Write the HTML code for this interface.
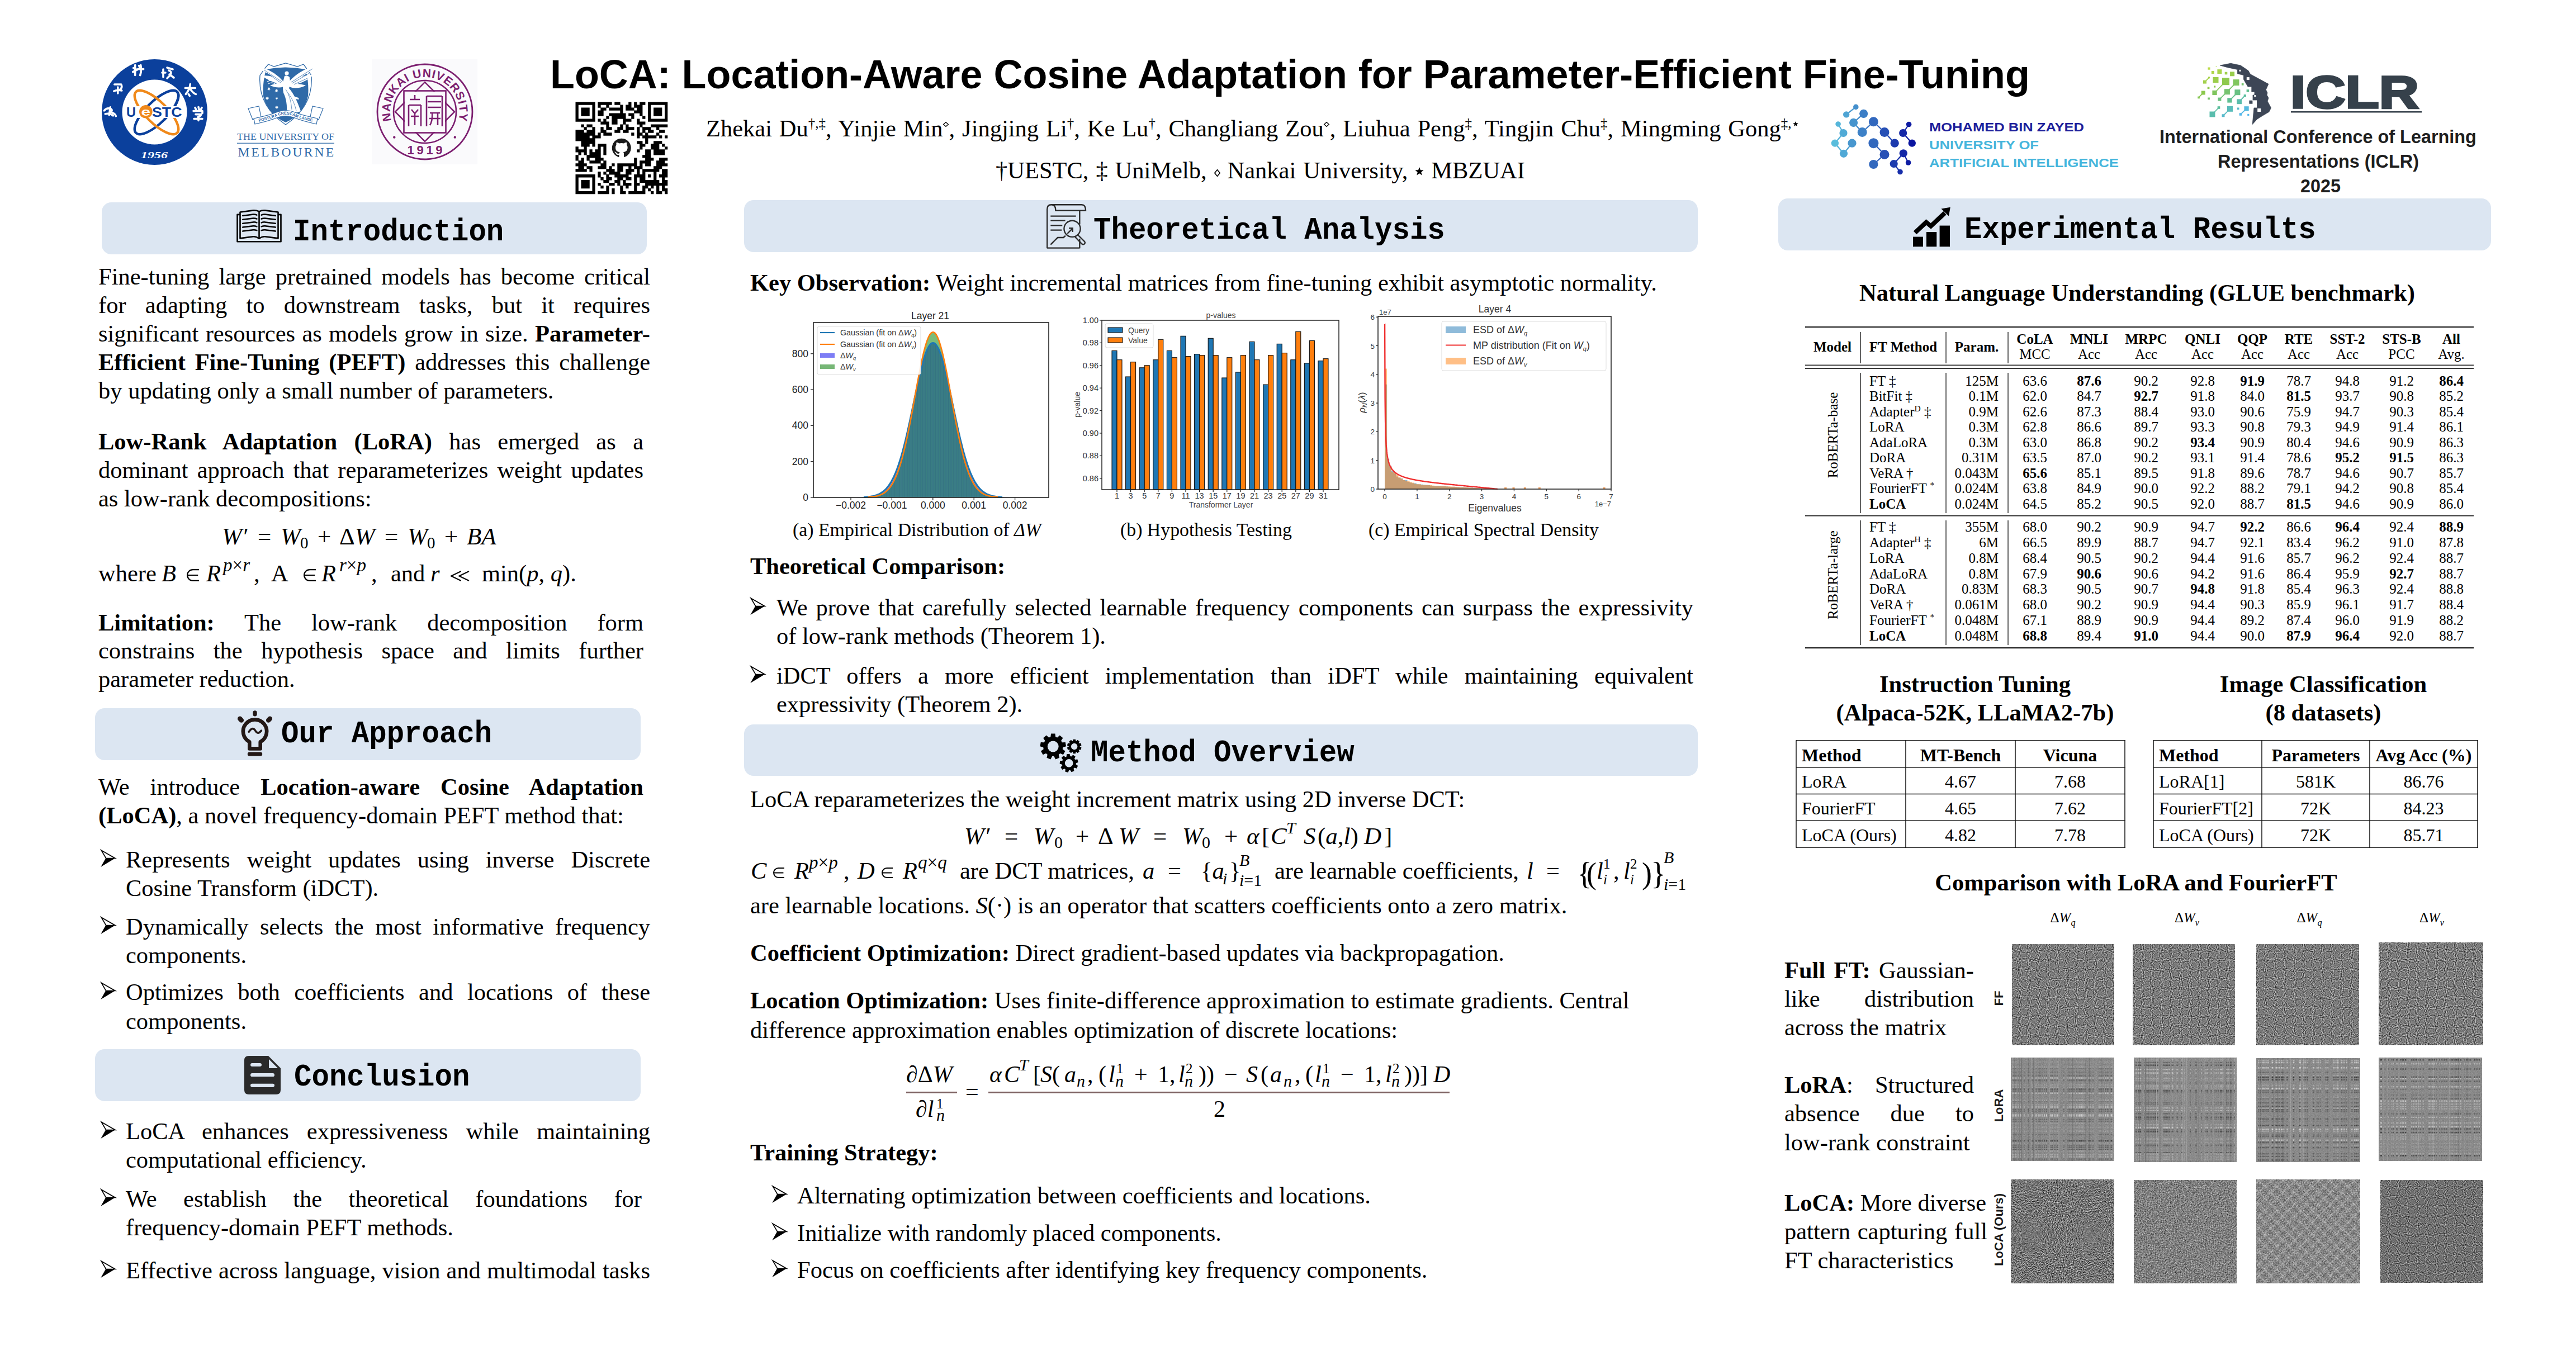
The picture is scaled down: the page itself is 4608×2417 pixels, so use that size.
<!DOCTYPE html><html><head><meta charset="utf-8"><title>LoCA poster</title><style>
*{box-sizing:border-box}
html,body{margin:0;padding:0}
body{width:4608px;height:2417px;background:#fff;position:relative;overflow:hidden;font-family:"Liberation Serif",serif;color:#000}
.a{position:absolute;white-space:nowrap;line-height:1}
.j{white-space:normal;text-align:justify;text-align-last:justify}
.hb{position:absolute;background:#dce6f2;border-radius:17px}
.m{font-style:italic}
sub,sup{font-size:70%;line-height:0}
svg{position:absolute;overflow:visible}
svg.is{position:static;display:inline-block}
b{font-weight:bold}
</style></head><body><svg style="left:0;top:0" width="700" height="400"><circle cx="276.5" cy="200.5" r="94.5" fill="#0b409c"/><circle cx="276.5" cy="200.5" r="58" fill="#fff"/><ellipse cx="280" cy="201" rx="52" ry="19" fill="none" stroke="#0b409c" stroke-width="4.4" transform="rotate(-45 280 201)"/><ellipse cx="280" cy="201" rx="52" ry="19" fill="none" stroke="#f0891a" stroke-width="4.4" transform="rotate(45 280 201)"/><g transform="rotate(-45 280 201)"><path d="M332 201 A52 19 0 0 1 280 220" fill="none" stroke="#0b409c" stroke-width="4.4"/></g><rect x="224" y="190" width="104" height="21" fill="#fff"/><circle cx="260.8" cy="199.8" r="11.8" fill="#f0891a"/><text x="226" y="208.5" font-family="Liberation Sans" font-weight="bold" font-size="23" fill="#0b409c" textLength="17" lengthAdjust="spacingAndGlyphs">U</text><text x="252.5" y="207" font-family="Liberation Sans" font-weight="bold" font-size="21" fill="#fff" textLength="16.5" lengthAdjust="spacingAndGlyphs">e</text><text x="272" y="208.5" font-family="Liberation Sans" font-weight="bold" font-size="23" fill="#0b409c" textLength="53.5" lengthAdjust="spacingAndGlyphs">STC</text><text x="252" y="283" font-family="Liberation Serif" font-style="italic" font-weight="bold" font-size="17" fill="#fff" textLength="48" lengthAdjust="spacingAndGlyphs">1956</text><g transform="translate(195.3 199.8)"><path d="M-9 -2 q5 -6 12 -3 q4 3 -1 7 M-7 4 q8 -2 14 3 M2 -8 l-2 14 M6 2 q5 2 6 6" stroke="#fff" fill="none" stroke-linecap="round" stroke-linejoin="round" stroke-width="3.6"/></g><g transform="translate(212.8 157)"><path d="M-8 -6 h12 q3 6 -3 10 M-2 -1 v11 M-9 6 q6 -3 14 -1" stroke="#fff" fill="none" stroke-linecap="round" stroke-linejoin="round" stroke-width="3.6"/></g><g transform="translate(247.7 125.6)"><path d="M-9 -4 l6 3 M-6 -9 v18 M-10 3 l8 -4 M1 -8 l3 6 M4 -9 q2 10 -1 18 M-1 -2 h10" stroke="#fff" fill="none" stroke-linecap="round" stroke-linejoin="round" stroke-width="3.6"/></g><g transform="translate(301 130)"><path d="M-9 -6 v14 M-11 0 h6 M-2 -9 l10 3 M1 -4 q6 2 3 8 l-6 6 M2 3 l8 6" stroke="#fff" fill="none" stroke-linecap="round" stroke-linejoin="round" stroke-width="3.6"/></g><g transform="translate(340.3 160.5)"><path d="M-9 -3 h18 M0 -10 q-1 10 -8 18 M1 0 q4 6 9 8 M-3 8 l2 3" stroke="#fff" fill="none" stroke-linecap="round" stroke-linejoin="round" stroke-width="3.6"/></g><g transform="translate(355 201.6)"><path d="M-6 -9 l2 4 M0 -10 l1 4 M6 -9 l-2 4 M-9 -3 h16 v4 M-5 3 h10 q-2 4 -6 5 M0 8 v6 M-8 11 h15" stroke="#fff" fill="none" stroke-linecap="round" stroke-linejoin="round" stroke-width="3.6"/></g></svg>
<svg style="left:0;top:0" width="700" height="400"><path d="M444 194 L463 190 L467 209 L452 214 Z M578 194 L559 190 L555 209 L570 214 Z" fill="#fff" stroke="#2f6aa8" stroke-width="1.2"/><path d="M480 115 L490 119 L511 113 L532 119 L543 115 L548 122 L557 135 Q561 190 511 223 Q461 190 465 135 L474 122 Z" fill="#fff" stroke="#2f6aa8" stroke-width="1.3"/><path d="M476 124 Q511 117 547 124 Q553 150 551 172 Q543 205 511 219 Q479 205 471 172 Q469 150 476 124 Z" fill="#2f6aa8"/><path d="M507 146 Q492 128 467 120 L469 126 Q480 132 488 137 Q475 134 469 136 Q481 145 496 149 Q487 151 483 153 Q498 159 507 155 Z" fill="#fff"/><path d="M517 146 Q535 126 564 117 L561 125 Q548 132 540 137 Q554 133 561 134 Q548 146 532 150 Q542 151 547 153 Q530 161 517 155 Z" fill="#fff"/><path d="M472 125 L504 146 M478 131 L502 148 M559 123 L521 147 M553 131 L523 149 M550 140 L526 151" stroke="#2f6aa8" stroke-width="0.8"/><circle cx="513" cy="131" r="3.6" fill="#fff"/><path d="M509 136 Q514 134 518 138 Q520 150 517 158 Q528 170 538 199 Q528 204 513 200 Q514 180 507 166 Q504 150 509 136 Z" fill="#fff"/><path d="M518 170 L534 175 L535 178 L520 176 Z" fill="#fff"/><path d="M511 160 Q520 172 522 196 M515 166 Q526 180 530 198" stroke="#2f6aa8" stroke-width="0.7" fill="none"/><path d="M478 146 Q486 142 494 146 M480 150 Q486 146 492 150" stroke="#fff" stroke-width="1.2" fill="none"/><path d="M481.00 155.60 L481.66 157.62 L483.66 156.88 L482.49 158.66 L484.31 159.76 L482.20 159.95 L482.48 162.06 L481.00 160.53 L479.52 162.06 L479.80 159.95 L477.69 159.76 L479.51 158.66 L478.34 156.88 L480.34 157.62 Z" fill="#fff"/><path d="M494.60 159.10 L495.26 161.12 L497.26 160.38 L496.09 162.16 L497.91 163.26 L495.80 163.45 L496.08 165.56 L494.60 164.03 L493.12 165.56 L493.40 163.45 L491.29 163.26 L493.11 162.16 L491.94 160.38 L493.94 161.12 Z" fill="#fff"/><path d="M478.00 172.60 L478.66 174.62 L480.66 173.88 L479.49 175.66 L481.31 176.76 L479.20 176.95 L479.48 179.06 L478.00 177.53 L476.52 179.06 L476.80 176.95 L474.69 176.76 L476.51 175.66 L475.34 173.88 L477.34 174.62 Z" fill="#fff"/><path d="M495.00 173.40 L495.51 174.95 L497.03 174.38 L496.14 175.74 L497.53 176.58 L495.91 176.73 L496.13 178.34 L495.00 177.17 L493.87 178.34 L494.09 176.73 L492.47 176.58 L493.86 175.74 L492.97 174.38 L494.49 174.95 Z" fill="#fff"/><path d="M495.00 188.80 L495.62 190.70 L497.50 190.00 L496.40 191.68 L498.12 192.71 L496.13 192.90 L496.39 194.88 L495.00 193.44 L493.61 194.88 L493.87 192.90 L491.88 192.71 L493.60 191.68 L492.50 190.00 L494.38 190.70 Z" fill="#fff"/><path d="M454 212 Q483 206 497 200 Q511 195 525 200 Q539 206 568 212 L566 222 Q539 216 525 210 Q511 205 497 210 Q483 216 456 222 Z" fill="#fff" stroke="#2f6aa8" stroke-width="1.2"/><defs><path id="mbarc" d="M458 219 Q484 213 497 207.5 Q511 202 525 207.5 Q538 213 564 219"/></defs><text font-family="Liberation Sans" font-weight="bold" font-size="7.2" fill="#2f6aa8"><textPath href="#mbarc" startOffset="50%" text-anchor="middle">POSTERA CRESCAM LAUDE</textPath></text><text x="424" y="250" font-family="Liberation Serif" font-size="16" fill="#2f6aa8" textLength="174" lengthAdjust="spacingAndGlyphs">THE UNIVERSITY OF</text><rect x="424" y="255.6" width="174" height="1.2" fill="#2f6aa8"/><text x="425.5" y="280.2" font-family="Liberation Serif" font-size="23.5" fill="#2f6aa8" textLength="171.5" lengthAdjust="spacing">MELBOURNE</text></svg>
<svg style="left:0;top:0" width="1000" height="400"><rect x="665" y="106" width="189" height="188" fill="#fafafc"/><circle cx="760" cy="200" r="85" fill="none" stroke="#7c1f70" stroke-width="2.8"/><circle cx="760" cy="200" r="56" fill="none" stroke="#7c1f70" stroke-width="2.6"/><defs><path id="nkarc" d="M 700.11 216.05 A 62 62 0 1 1 819.89 216.05"/></defs><text font-family="Liberation Sans" font-weight="bold" font-size="21" fill="#7c1f70"><textPath href="#nkarc" textLength="226" lengthAdjust="spacing">NANKAI UNIVERSITY</textPath></text><text x="728.6" y="276" font-family="Liberation Sans" font-weight="bold" font-size="22" fill="#7c1f70" textLength="63" lengthAdjust="spacing">1919</text><circle cx="705.3" cy="245.5" r="2.2" fill="#7c1f70"/><circle cx="813.8" cy="245.5" r="2.2" fill="#7c1f70"/><rect x="722.5" y="162.5" width="75" height="75" fill="none" stroke="#7c1f70" stroke-width="2.6" transform="rotate(45 760 200)"/><rect x="724" y="164" width="72" height="72" fill="#fafafc"/><rect x="722.5" y="162.5" width="75" height="75" fill="none" stroke="#7c1f70" stroke-width="2.6"/><path d="M733 178 h18 M742 170 v8 M731 188 h22 M731 188 v38 M753 188 v38 M736 196 l6 7 l6 -7 M735 208 h14 M742 203 v21 M763 172 v54 M791 172 v54 M763 172 h28 M765 182 h24 M765 192 h24 M769 202 h18 M768 212 h20 M773 202 q1 14 -4 22 M783 202 v22" stroke="#7c1f70" stroke-width="2.6" fill="none"/></svg>
<svg style="left:0;top:0" width="1300" height="400"><path fill="#000" d="M1029.50 182.50h5.29v5.29h-5.29zM1034.48 182.50h5.29v5.29h-5.29zM1039.47 182.50h5.29v5.29h-5.29zM1044.45 182.50h5.29v5.29h-5.29zM1049.44 182.50h5.29v5.29h-5.29zM1054.42 182.50h5.29v5.29h-5.29zM1059.41 182.50h5.29v5.29h-5.29zM1069.38 182.50h5.29v5.29h-5.29zM1074.37 182.50h5.29v5.29h-5.29zM1079.35 182.50h5.29v5.29h-5.29zM1084.34 182.50h5.29v5.29h-5.29zM1089.32 182.50h5.29v5.29h-5.29zM1099.29 182.50h5.29v5.29h-5.29zM1104.28 182.50h5.29v5.29h-5.29zM1124.21 182.50h5.29v5.29h-5.29zM1134.18 182.50h5.29v5.29h-5.29zM1144.15 182.50h5.29v5.29h-5.29zM1149.14 182.50h5.29v5.29h-5.29zM1159.11 182.50h5.29v5.29h-5.29zM1164.10 182.50h5.29v5.29h-5.29zM1169.08 182.50h5.29v5.29h-5.29zM1174.07 182.50h5.29v5.29h-5.29zM1179.05 182.50h5.29v5.29h-5.29zM1184.04 182.50h5.29v5.29h-5.29zM1189.02 182.50h5.29v5.29h-5.29zM1029.50 187.49h5.29v5.29h-5.29zM1059.41 187.49h5.29v5.29h-5.29zM1069.38 187.49h5.29v5.29h-5.29zM1084.34 187.49h5.29v5.29h-5.29zM1109.26 187.49h5.29v5.29h-5.29zM1119.23 187.49h5.29v5.29h-5.29zM1124.21 187.49h5.29v5.29h-5.29zM1134.18 187.49h5.29v5.29h-5.29zM1139.17 187.49h5.29v5.29h-5.29zM1144.15 187.49h5.29v5.29h-5.29zM1159.11 187.49h5.29v5.29h-5.29zM1189.02 187.49h5.29v5.29h-5.29zM1029.50 192.47h5.29v5.29h-5.29zM1039.47 192.47h5.29v5.29h-5.29zM1044.45 192.47h5.29v5.29h-5.29zM1049.44 192.47h5.29v5.29h-5.29zM1059.41 192.47h5.29v5.29h-5.29zM1074.37 192.47h5.29v5.29h-5.29zM1079.35 192.47h5.29v5.29h-5.29zM1089.32 192.47h5.29v5.29h-5.29zM1094.31 192.47h5.29v5.29h-5.29zM1099.29 192.47h5.29v5.29h-5.29zM1104.28 192.47h5.29v5.29h-5.29zM1109.26 192.47h5.29v5.29h-5.29zM1119.23 192.47h5.29v5.29h-5.29zM1124.21 192.47h5.29v5.29h-5.29zM1129.20 192.47h5.29v5.29h-5.29zM1139.17 192.47h5.29v5.29h-5.29zM1144.15 192.47h5.29v5.29h-5.29zM1159.11 192.47h5.29v5.29h-5.29zM1169.08 192.47h5.29v5.29h-5.29zM1174.07 192.47h5.29v5.29h-5.29zM1179.05 192.47h5.29v5.29h-5.29zM1189.02 192.47h5.29v5.29h-5.29zM1029.50 197.46h5.29v5.29h-5.29zM1039.47 197.46h5.29v5.29h-5.29zM1044.45 197.46h5.29v5.29h-5.29zM1049.44 197.46h5.29v5.29h-5.29zM1059.41 197.46h5.29v5.29h-5.29zM1069.38 197.46h5.29v5.29h-5.29zM1074.37 197.46h5.29v5.29h-5.29zM1109.26 197.46h5.29v5.29h-5.29zM1134.18 197.46h5.29v5.29h-5.29zM1139.17 197.46h5.29v5.29h-5.29zM1144.15 197.46h5.29v5.29h-5.29zM1159.11 197.46h5.29v5.29h-5.29zM1169.08 197.46h5.29v5.29h-5.29zM1174.07 197.46h5.29v5.29h-5.29zM1179.05 197.46h5.29v5.29h-5.29zM1189.02 197.46h5.29v5.29h-5.29zM1029.50 202.44h5.29v5.29h-5.29zM1039.47 202.44h5.29v5.29h-5.29zM1044.45 202.44h5.29v5.29h-5.29zM1049.44 202.44h5.29v5.29h-5.29zM1059.41 202.44h5.29v5.29h-5.29zM1069.38 202.44h5.29v5.29h-5.29zM1074.37 202.44h5.29v5.29h-5.29zM1089.32 202.44h5.29v5.29h-5.29zM1094.31 202.44h5.29v5.29h-5.29zM1099.29 202.44h5.29v5.29h-5.29zM1104.28 202.44h5.29v5.29h-5.29zM1109.26 202.44h5.29v5.29h-5.29zM1114.24 202.44h5.29v5.29h-5.29zM1124.21 202.44h5.29v5.29h-5.29zM1129.20 202.44h5.29v5.29h-5.29zM1144.15 202.44h5.29v5.29h-5.29zM1159.11 202.44h5.29v5.29h-5.29zM1169.08 202.44h5.29v5.29h-5.29zM1174.07 202.44h5.29v5.29h-5.29zM1179.05 202.44h5.29v5.29h-5.29zM1189.02 202.44h5.29v5.29h-5.29zM1029.50 207.43h5.29v5.29h-5.29zM1059.41 207.43h5.29v5.29h-5.29zM1084.34 207.43h5.29v5.29h-5.29zM1094.31 207.43h5.29v5.29h-5.29zM1099.29 207.43h5.29v5.29h-5.29zM1104.28 207.43h5.29v5.29h-5.29zM1109.26 207.43h5.29v5.29h-5.29zM1114.24 207.43h5.29v5.29h-5.29zM1129.20 207.43h5.29v5.29h-5.29zM1149.14 207.43h5.29v5.29h-5.29zM1159.11 207.43h5.29v5.29h-5.29zM1189.02 207.43h5.29v5.29h-5.29zM1029.50 212.41h5.29v5.29h-5.29zM1034.48 212.41h5.29v5.29h-5.29zM1039.47 212.41h5.29v5.29h-5.29zM1044.45 212.41h5.29v5.29h-5.29zM1049.44 212.41h5.29v5.29h-5.29zM1054.42 212.41h5.29v5.29h-5.29zM1059.41 212.41h5.29v5.29h-5.29zM1069.38 212.41h5.29v5.29h-5.29zM1079.35 212.41h5.29v5.29h-5.29zM1094.31 212.41h5.29v5.29h-5.29zM1099.29 212.41h5.29v5.29h-5.29zM1114.24 212.41h5.29v5.29h-5.29zM1119.23 212.41h5.29v5.29h-5.29zM1124.21 212.41h5.29v5.29h-5.29zM1139.17 212.41h5.29v5.29h-5.29zM1159.11 212.41h5.29v5.29h-5.29zM1164.10 212.41h5.29v5.29h-5.29zM1169.08 212.41h5.29v5.29h-5.29zM1174.07 212.41h5.29v5.29h-5.29zM1179.05 212.41h5.29v5.29h-5.29zM1184.04 212.41h5.29v5.29h-5.29zM1189.02 212.41h5.29v5.29h-5.29zM1074.37 217.40h5.29v5.29h-5.29zM1079.35 217.40h5.29v5.29h-5.29zM1084.34 217.40h5.29v5.29h-5.29zM1094.31 217.40h5.29v5.29h-5.29zM1099.29 217.40h5.29v5.29h-5.29zM1114.24 217.40h5.29v5.29h-5.29zM1139.17 217.40h5.29v5.29h-5.29zM1144.15 217.40h5.29v5.29h-5.29zM1149.14 217.40h5.29v5.29h-5.29zM1039.47 222.38h5.29v5.29h-5.29zM1049.44 222.38h5.29v5.29h-5.29zM1054.42 222.38h5.29v5.29h-5.29zM1084.34 222.38h5.29v5.29h-5.29zM1109.26 222.38h5.29v5.29h-5.29zM1119.23 222.38h5.29v5.29h-5.29zM1144.15 222.38h5.29v5.29h-5.29zM1164.10 222.38h5.29v5.29h-5.29zM1169.08 222.38h5.29v5.29h-5.29zM1174.07 222.38h5.29v5.29h-5.29zM1179.05 222.38h5.29v5.29h-5.29zM1184.04 222.38h5.29v5.29h-5.29zM1189.02 222.38h5.29v5.29h-5.29zM1044.45 227.37h5.29v5.29h-5.29zM1059.41 227.37h5.29v5.29h-5.29zM1074.37 227.37h5.29v5.29h-5.29zM1084.34 227.37h5.29v5.29h-5.29zM1089.32 227.37h5.29v5.29h-5.29zM1104.28 227.37h5.29v5.29h-5.29zM1109.26 227.37h5.29v5.29h-5.29zM1119.23 227.37h5.29v5.29h-5.29zM1124.21 227.37h5.29v5.29h-5.29zM1129.20 227.37h5.29v5.29h-5.29zM1139.17 227.37h5.29v5.29h-5.29zM1149.14 227.37h5.29v5.29h-5.29zM1154.12 227.37h5.29v5.29h-5.29zM1159.11 227.37h5.29v5.29h-5.29zM1174.07 227.37h5.29v5.29h-5.29zM1029.50 232.35h5.29v5.29h-5.29zM1034.48 232.35h5.29v5.29h-5.29zM1039.47 232.35h5.29v5.29h-5.29zM1049.44 232.35h5.29v5.29h-5.29zM1054.42 232.35h5.29v5.29h-5.29zM1059.41 232.35h5.29v5.29h-5.29zM1074.37 232.35h5.29v5.29h-5.29zM1079.35 232.35h5.29v5.29h-5.29zM1099.29 232.35h5.29v5.29h-5.29zM1104.28 232.35h5.29v5.29h-5.29zM1114.24 232.35h5.29v5.29h-5.29zM1119.23 232.35h5.29v5.29h-5.29zM1139.17 232.35h5.29v5.29h-5.29zM1149.14 232.35h5.29v5.29h-5.29zM1159.11 232.35h5.29v5.29h-5.29zM1164.10 232.35h5.29v5.29h-5.29zM1179.05 232.35h5.29v5.29h-5.29zM1184.04 232.35h5.29v5.29h-5.29zM1029.50 237.34h5.29v5.29h-5.29zM1034.48 237.34h5.29v5.29h-5.29zM1039.47 237.34h5.29v5.29h-5.29zM1044.45 237.34h5.29v5.29h-5.29zM1049.44 237.34h5.29v5.29h-5.29zM1054.42 237.34h5.29v5.29h-5.29zM1059.41 237.34h5.29v5.29h-5.29zM1069.38 237.34h5.29v5.29h-5.29zM1079.35 237.34h5.29v5.29h-5.29zM1084.34 237.34h5.29v5.29h-5.29zM1089.32 237.34h5.29v5.29h-5.29zM1129.20 237.34h5.29v5.29h-5.29zM1139.17 237.34h5.29v5.29h-5.29zM1144.15 237.34h5.29v5.29h-5.29zM1154.12 237.34h5.29v5.29h-5.29zM1174.07 237.34h5.29v5.29h-5.29zM1029.50 242.32h5.29v5.29h-5.29zM1034.48 242.32h5.29v5.29h-5.29zM1039.47 242.32h5.29v5.29h-5.29zM1044.45 242.32h5.29v5.29h-5.29zM1049.44 242.32h5.29v5.29h-5.29zM1059.41 242.32h5.29v5.29h-5.29zM1064.39 242.32h5.29v5.29h-5.29zM1069.38 242.32h5.29v5.29h-5.29zM1139.17 242.32h5.29v5.29h-5.29zM1149.14 242.32h5.29v5.29h-5.29zM1154.12 242.32h5.29v5.29h-5.29zM1159.11 242.32h5.29v5.29h-5.29zM1164.10 242.32h5.29v5.29h-5.29zM1169.08 242.32h5.29v5.29h-5.29zM1179.05 242.32h5.29v5.29h-5.29zM1189.02 242.32h5.29v5.29h-5.29zM1029.50 247.31h5.29v5.29h-5.29zM1034.48 247.31h5.29v5.29h-5.29zM1039.47 247.31h5.29v5.29h-5.29zM1044.45 247.31h5.29v5.29h-5.29zM1049.44 247.31h5.29v5.29h-5.29zM1054.42 247.31h5.29v5.29h-5.29zM1059.41 247.31h5.29v5.29h-5.29zM1154.12 247.31h5.29v5.29h-5.29zM1039.47 252.29h5.29v5.29h-5.29zM1044.45 252.29h5.29v5.29h-5.29zM1049.44 252.29h5.29v5.29h-5.29zM1054.42 252.29h5.29v5.29h-5.29zM1059.41 252.29h5.29v5.29h-5.29zM1139.17 252.29h5.29v5.29h-5.29zM1144.15 252.29h5.29v5.29h-5.29zM1154.12 252.29h5.29v5.29h-5.29zM1169.08 252.29h5.29v5.29h-5.29zM1174.07 252.29h5.29v5.29h-5.29zM1179.05 252.29h5.29v5.29h-5.29zM1039.47 257.27h5.29v5.29h-5.29zM1044.45 257.27h5.29v5.29h-5.29zM1049.44 257.27h5.29v5.29h-5.29zM1059.41 257.27h5.29v5.29h-5.29zM1069.38 257.27h5.29v5.29h-5.29zM1074.37 257.27h5.29v5.29h-5.29zM1079.35 257.27h5.29v5.29h-5.29zM1144.15 257.27h5.29v5.29h-5.29zM1149.14 257.27h5.29v5.29h-5.29zM1164.10 257.27h5.29v5.29h-5.29zM1169.08 257.27h5.29v5.29h-5.29zM1174.07 257.27h5.29v5.29h-5.29zM1184.04 257.27h5.29v5.29h-5.29zM1029.50 262.26h5.29v5.29h-5.29zM1044.45 262.26h5.29v5.29h-5.29zM1069.38 262.26h5.29v5.29h-5.29zM1079.35 262.26h5.29v5.29h-5.29zM1144.15 262.26h5.29v5.29h-5.29zM1164.10 262.26h5.29v5.29h-5.29zM1169.08 262.26h5.29v5.29h-5.29zM1174.07 262.26h5.29v5.29h-5.29zM1189.02 262.26h5.29v5.29h-5.29zM1029.50 267.25h5.29v5.29h-5.29zM1034.48 267.25h5.29v5.29h-5.29zM1039.47 267.25h5.29v5.29h-5.29zM1044.45 267.25h5.29v5.29h-5.29zM1054.42 267.25h5.29v5.29h-5.29zM1064.39 267.25h5.29v5.29h-5.29zM1069.38 267.25h5.29v5.29h-5.29zM1079.35 267.25h5.29v5.29h-5.29zM1139.17 267.25h5.29v5.29h-5.29zM1154.12 267.25h5.29v5.29h-5.29zM1159.11 267.25h5.29v5.29h-5.29zM1169.08 267.25h5.29v5.29h-5.29zM1174.07 267.25h5.29v5.29h-5.29zM1179.05 267.25h5.29v5.29h-5.29zM1184.04 267.25h5.29v5.29h-5.29zM1034.48 272.23h5.29v5.29h-5.29zM1044.45 272.23h5.29v5.29h-5.29zM1054.42 272.23h5.29v5.29h-5.29zM1059.41 272.23h5.29v5.29h-5.29zM1064.39 272.23h5.29v5.29h-5.29zM1069.38 272.23h5.29v5.29h-5.29zM1079.35 272.23h5.29v5.29h-5.29zM1154.12 272.23h5.29v5.29h-5.29zM1159.11 272.23h5.29v5.29h-5.29zM1169.08 272.23h5.29v5.29h-5.29zM1174.07 272.23h5.29v5.29h-5.29zM1179.05 272.23h5.29v5.29h-5.29zM1184.04 272.23h5.29v5.29h-5.29zM1029.50 277.22h5.29v5.29h-5.29zM1049.44 277.22h5.29v5.29h-5.29zM1054.42 277.22h5.29v5.29h-5.29zM1059.41 277.22h5.29v5.29h-5.29zM1064.39 277.22h5.29v5.29h-5.29zM1069.38 277.22h5.29v5.29h-5.29zM1149.14 277.22h5.29v5.29h-5.29zM1154.12 277.22h5.29v5.29h-5.29zM1159.11 277.22h5.29v5.29h-5.29zM1029.50 282.20h5.29v5.29h-5.29zM1039.47 282.20h5.29v5.29h-5.29zM1049.44 282.20h5.29v5.29h-5.29zM1064.39 282.20h5.29v5.29h-5.29zM1069.38 282.20h5.29v5.29h-5.29zM1074.37 282.20h5.29v5.29h-5.29zM1134.18 282.20h5.29v5.29h-5.29zM1154.12 282.20h5.29v5.29h-5.29zM1159.11 282.20h5.29v5.29h-5.29zM1164.10 282.20h5.29v5.29h-5.29zM1179.05 282.20h5.29v5.29h-5.29zM1184.04 282.20h5.29v5.29h-5.29zM1189.02 282.20h5.29v5.29h-5.29zM1034.48 287.19h5.29v5.29h-5.29zM1039.47 287.19h5.29v5.29h-5.29zM1054.42 287.19h5.29v5.29h-5.29zM1059.41 287.19h5.29v5.29h-5.29zM1064.39 287.19h5.29v5.29h-5.29zM1069.38 287.19h5.29v5.29h-5.29zM1079.35 287.19h5.29v5.29h-5.29zM1134.18 287.19h5.29v5.29h-5.29zM1144.15 287.19h5.29v5.29h-5.29zM1149.14 287.19h5.29v5.29h-5.29zM1154.12 287.19h5.29v5.29h-5.29zM1159.11 287.19h5.29v5.29h-5.29zM1174.07 287.19h5.29v5.29h-5.29zM1179.05 287.19h5.29v5.29h-5.29zM1184.04 287.19h5.29v5.29h-5.29zM1029.50 292.17h5.29v5.29h-5.29zM1034.48 292.17h5.29v5.29h-5.29zM1039.47 292.17h5.29v5.29h-5.29zM1044.45 292.17h5.29v5.29h-5.29zM1074.37 292.17h5.29v5.29h-5.29zM1079.35 292.17h5.29v5.29h-5.29zM1094.31 292.17h5.29v5.29h-5.29zM1104.28 292.17h5.29v5.29h-5.29zM1109.26 292.17h5.29v5.29h-5.29zM1114.24 292.17h5.29v5.29h-5.29zM1119.23 292.17h5.29v5.29h-5.29zM1124.21 292.17h5.29v5.29h-5.29zM1129.20 292.17h5.29v5.29h-5.29zM1134.18 292.17h5.29v5.29h-5.29zM1144.15 292.17h5.29v5.29h-5.29zM1154.12 292.17h5.29v5.29h-5.29zM1159.11 292.17h5.29v5.29h-5.29zM1174.07 292.17h5.29v5.29h-5.29zM1179.05 292.17h5.29v5.29h-5.29zM1184.04 292.17h5.29v5.29h-5.29zM1189.02 292.17h5.29v5.29h-5.29zM1034.48 297.15h5.29v5.29h-5.29zM1039.47 297.15h5.29v5.29h-5.29zM1049.44 297.15h5.29v5.29h-5.29zM1054.42 297.15h5.29v5.29h-5.29zM1069.38 297.15h5.29v5.29h-5.29zM1074.37 297.15h5.29v5.29h-5.29zM1079.35 297.15h5.29v5.29h-5.29zM1089.32 297.15h5.29v5.29h-5.29zM1104.28 297.15h5.29v5.29h-5.29zM1109.26 297.15h5.29v5.29h-5.29zM1124.21 297.15h5.29v5.29h-5.29zM1134.18 297.15h5.29v5.29h-5.29zM1139.17 297.15h5.29v5.29h-5.29zM1144.15 297.15h5.29v5.29h-5.29zM1169.08 297.15h5.29v5.29h-5.29zM1174.07 297.15h5.29v5.29h-5.29zM1179.05 297.15h5.29v5.29h-5.29zM1029.50 302.14h5.29v5.29h-5.29zM1034.48 302.14h5.29v5.29h-5.29zM1039.47 302.14h5.29v5.29h-5.29zM1044.45 302.14h5.29v5.29h-5.29zM1054.42 302.14h5.29v5.29h-5.29zM1084.34 302.14h5.29v5.29h-5.29zM1089.32 302.14h5.29v5.29h-5.29zM1094.31 302.14h5.29v5.29h-5.29zM1104.28 302.14h5.29v5.29h-5.29zM1109.26 302.14h5.29v5.29h-5.29zM1119.23 302.14h5.29v5.29h-5.29zM1124.21 302.14h5.29v5.29h-5.29zM1129.20 302.14h5.29v5.29h-5.29zM1139.17 302.14h5.29v5.29h-5.29zM1149.14 302.14h5.29v5.29h-5.29zM1154.12 302.14h5.29v5.29h-5.29zM1159.11 302.14h5.29v5.29h-5.29zM1164.10 302.14h5.29v5.29h-5.29zM1169.08 302.14h5.29v5.29h-5.29zM1174.07 302.14h5.29v5.29h-5.29zM1184.04 302.14h5.29v5.29h-5.29zM1189.02 302.14h5.29v5.29h-5.29zM1069.38 307.12h5.29v5.29h-5.29zM1079.35 307.12h5.29v5.29h-5.29zM1089.32 307.12h5.29v5.29h-5.29zM1094.31 307.12h5.29v5.29h-5.29zM1099.29 307.12h5.29v5.29h-5.29zM1104.28 307.12h5.29v5.29h-5.29zM1119.23 307.12h5.29v5.29h-5.29zM1124.21 307.12h5.29v5.29h-5.29zM1139.17 307.12h5.29v5.29h-5.29zM1149.14 307.12h5.29v5.29h-5.29zM1169.08 307.12h5.29v5.29h-5.29zM1184.04 307.12h5.29v5.29h-5.29zM1189.02 307.12h5.29v5.29h-5.29zM1029.50 312.11h5.29v5.29h-5.29zM1034.48 312.11h5.29v5.29h-5.29zM1039.47 312.11h5.29v5.29h-5.29zM1044.45 312.11h5.29v5.29h-5.29zM1049.44 312.11h5.29v5.29h-5.29zM1054.42 312.11h5.29v5.29h-5.29zM1059.41 312.11h5.29v5.29h-5.29zM1069.38 312.11h5.29v5.29h-5.29zM1084.34 312.11h5.29v5.29h-5.29zM1099.29 312.11h5.29v5.29h-5.29zM1104.28 312.11h5.29v5.29h-5.29zM1109.26 312.11h5.29v5.29h-5.29zM1114.24 312.11h5.29v5.29h-5.29zM1119.23 312.11h5.29v5.29h-5.29zM1134.18 312.11h5.29v5.29h-5.29zM1139.17 312.11h5.29v5.29h-5.29zM1144.15 312.11h5.29v5.29h-5.29zM1149.14 312.11h5.29v5.29h-5.29zM1159.11 312.11h5.29v5.29h-5.29zM1169.08 312.11h5.29v5.29h-5.29zM1179.05 312.11h5.29v5.29h-5.29zM1184.04 312.11h5.29v5.29h-5.29zM1189.02 312.11h5.29v5.29h-5.29zM1029.50 317.10h5.29v5.29h-5.29zM1059.41 317.10h5.29v5.29h-5.29zM1074.37 317.10h5.29v5.29h-5.29zM1084.34 317.10h5.29v5.29h-5.29zM1089.32 317.10h5.29v5.29h-5.29zM1104.28 317.10h5.29v5.29h-5.29zM1109.26 317.10h5.29v5.29h-5.29zM1119.23 317.10h5.29v5.29h-5.29zM1124.21 317.10h5.29v5.29h-5.29zM1134.18 317.10h5.29v5.29h-5.29zM1144.15 317.10h5.29v5.29h-5.29zM1149.14 317.10h5.29v5.29h-5.29zM1169.08 317.10h5.29v5.29h-5.29zM1184.04 317.10h5.29v5.29h-5.29zM1029.50 322.08h5.29v5.29h-5.29zM1039.47 322.08h5.29v5.29h-5.29zM1044.45 322.08h5.29v5.29h-5.29zM1049.44 322.08h5.29v5.29h-5.29zM1059.41 322.08h5.29v5.29h-5.29zM1079.35 322.08h5.29v5.29h-5.29zM1084.34 322.08h5.29v5.29h-5.29zM1099.29 322.08h5.29v5.29h-5.29zM1104.28 322.08h5.29v5.29h-5.29zM1114.24 322.08h5.29v5.29h-5.29zM1134.18 322.08h5.29v5.29h-5.29zM1144.15 322.08h5.29v5.29h-5.29zM1149.14 322.08h5.29v5.29h-5.29zM1154.12 322.08h5.29v5.29h-5.29zM1159.11 322.08h5.29v5.29h-5.29zM1164.10 322.08h5.29v5.29h-5.29zM1169.08 322.08h5.29v5.29h-5.29zM1174.07 322.08h5.29v5.29h-5.29zM1184.04 322.08h5.29v5.29h-5.29zM1189.02 322.08h5.29v5.29h-5.29zM1029.50 327.06h5.29v5.29h-5.29zM1039.47 327.06h5.29v5.29h-5.29zM1044.45 327.06h5.29v5.29h-5.29zM1049.44 327.06h5.29v5.29h-5.29zM1059.41 327.06h5.29v5.29h-5.29zM1069.38 327.06h5.29v5.29h-5.29zM1089.32 327.06h5.29v5.29h-5.29zM1094.31 327.06h5.29v5.29h-5.29zM1104.28 327.06h5.29v5.29h-5.29zM1114.24 327.06h5.29v5.29h-5.29zM1119.23 327.06h5.29v5.29h-5.29zM1124.21 327.06h5.29v5.29h-5.29zM1134.18 327.06h5.29v5.29h-5.29zM1139.17 327.06h5.29v5.29h-5.29zM1154.12 327.06h5.29v5.29h-5.29zM1159.11 327.06h5.29v5.29h-5.29zM1164.10 327.06h5.29v5.29h-5.29zM1169.08 327.06h5.29v5.29h-5.29zM1174.07 327.06h5.29v5.29h-5.29zM1179.05 327.06h5.29v5.29h-5.29zM1184.04 327.06h5.29v5.29h-5.29zM1189.02 327.06h5.29v5.29h-5.29zM1029.50 332.05h5.29v5.29h-5.29zM1039.47 332.05h5.29v5.29h-5.29zM1044.45 332.05h5.29v5.29h-5.29zM1049.44 332.05h5.29v5.29h-5.29zM1059.41 332.05h5.29v5.29h-5.29zM1074.37 332.05h5.29v5.29h-5.29zM1084.34 332.05h5.29v5.29h-5.29zM1109.26 332.05h5.29v5.29h-5.29zM1119.23 332.05h5.29v5.29h-5.29zM1134.18 332.05h5.29v5.29h-5.29zM1149.14 332.05h5.29v5.29h-5.29zM1154.12 332.05h5.29v5.29h-5.29zM1164.10 332.05h5.29v5.29h-5.29zM1174.07 332.05h5.29v5.29h-5.29zM1184.04 332.05h5.29v5.29h-5.29zM1029.50 337.03h5.29v5.29h-5.29zM1059.41 337.03h5.29v5.29h-5.29zM1084.34 337.03h5.29v5.29h-5.29zM1094.31 337.03h5.29v5.29h-5.29zM1109.26 337.03h5.29v5.29h-5.29zM1134.18 337.03h5.29v5.29h-5.29zM1149.14 337.03h5.29v5.29h-5.29zM1159.11 337.03h5.29v5.29h-5.29zM1174.07 337.03h5.29v5.29h-5.29zM1184.04 337.03h5.29v5.29h-5.29zM1189.02 337.03h5.29v5.29h-5.29zM1029.50 342.02h5.29v5.29h-5.29zM1034.48 342.02h5.29v5.29h-5.29zM1039.47 342.02h5.29v5.29h-5.29zM1044.45 342.02h5.29v5.29h-5.29zM1049.44 342.02h5.29v5.29h-5.29zM1054.42 342.02h5.29v5.29h-5.29zM1059.41 342.02h5.29v5.29h-5.29zM1069.38 342.02h5.29v5.29h-5.29zM1074.37 342.02h5.29v5.29h-5.29zM1079.35 342.02h5.29v5.29h-5.29zM1084.34 342.02h5.29v5.29h-5.29zM1094.31 342.02h5.29v5.29h-5.29zM1109.26 342.02h5.29v5.29h-5.29zM1114.24 342.02h5.29v5.29h-5.29zM1124.21 342.02h5.29v5.29h-5.29zM1129.20 342.02h5.29v5.29h-5.29zM1134.18 342.02h5.29v5.29h-5.29zM1139.17 342.02h5.29v5.29h-5.29zM1144.15 342.02h5.29v5.29h-5.29zM1149.14 342.02h5.29v5.29h-5.29zM1164.10 342.02h5.29v5.29h-5.29zM1174.07 342.02h5.29v5.29h-5.29zM1179.05 342.02h5.29v5.29h-5.29zM1189.02 342.02h5.29v5.29h-5.29z"/><path transform="translate(1094.75 247.75) scale(2.1250)" fill="#1b1b1b" d="M8 0C3.58 0 0 3.58 0 8c0 3.54 2.29 6.53 5.47 7.59.4.07.55-.17.55-.38 0-.19-.01-.82-.01-1.49-2.01.37-2.53-.49-2.69-.94-.09-.23-.48-.94-.82-1.13-.28-.15-.68-.52-.01-.53.63-.01 1.08.58 1.23.82.72 1.21 1.87.87 2.33.66.07-.52.28-.87.51-1.07-1.78-.2-3.64-.89-3.64-3.95 0-.87.31-1.59.82-2.15-.08-.2-.36-1.02.08-2.12 0 0 .67-.21 2.2.82.64-.18 1.32-.27 2-.27.68 0 1.36.09 2 .27 1.53-1.04 2.2-.82 2.2-.82.44 1.1.16 1.92.08 2.12.51.56.82 1.27.82 2.15 0 3.07-1.87 3.75-3.65 3.95.29.25.54.73.54 1.48 0 1.07-.01 1.93-.01 2.2 0 .21.15.46.55.38A8.013 8.013 0 0016 8c0-4.42-3.58-8-8-8z"/></svg>
<svg style="left:0;top:0" width="4608" height="400"><path d="M3288.1 222 L3297.5 238" stroke="#53b0d8" stroke-width="2.2"/><path d="M3297.5 238 L3282.4 256.2" stroke="#55b3d9" stroke-width="2.2"/><path d="M3282.4 256.2 L3298 274.8" stroke="#55b3d9" stroke-width="2.2"/><path d="M3298 274.8 L3313 256.2" stroke="#4ca0d2" stroke-width="2.2"/><path d="M3319.8 191.4 L3302.7 204.9" stroke="#4999d0" stroke-width="2.2"/><path d="M3333.7 203.3 L3315.6 219.4" stroke="#4189ca" stroke-width="2.2"/><path d="M3315.6 219.4 L3331.2 236.5" stroke="#428acb" stroke-width="2.2"/><path d="M3331.2 236.5 L3351.4 217.8" stroke="#3874c3" stroke-width="2.2"/><path d="M3351.4 217.8 L3371 236.5" stroke="#2c5cba" stroke-width="2.2"/><path d="M3371 236.5 L3389.2 256.2" stroke="#2145b2" stroke-width="2.2"/><path d="M3351.4 256.2 L3371 276.4" stroke="#2c5cba" stroke-width="2.2"/><path d="M3371 276.4 L3351.4 294" stroke="#2c5cba" stroke-width="2.2"/><path d="M3414.6 222.5 L3404.2 238" stroke="#1121a5" stroke-width="2.2"/><path d="M3404.2 238 L3420.3 256.2" stroke="#0f1da4" stroke-width="2.2"/><path d="M3404.8 274.3 L3387.7 293" stroke="#1831ab" stroke-width="2.2"/><path d="M3404.8 274.3 L3413.6 291" stroke="#1121a5" stroke-width="2.2"/><path d="M3387.7 293 L3399 307.5" stroke="#1a35ac" stroke-width="2.2"/><circle cx="3288.1" cy="222" r="4.8" fill="#56b6da"/><circle cx="3297.5" cy="238" r="7.1" fill="#51aad6"/><circle cx="3282.4" cy="256.2" r="6.6" fill="#59bddc"/><circle cx="3298" cy="274.8" r="7.1" fill="#50a9d6"/><circle cx="3313" cy="256.2" r="7.6" fill="#4897cf"/><circle cx="3319.8" cy="191.4" r="4.8" fill="#448fcc"/><circle cx="3302.7" cy="204.9" r="5.7" fill="#4ea4d4"/><circle cx="3333.7" cy="203.3" r="7.6" fill="#3c7ec6"/><circle cx="3315.6" cy="219.4" r="7.6" fill="#4694ce"/><circle cx="3331.2" cy="236.5" r="8.5" fill="#3d81c7"/><circle cx="3351.4" cy="217.8" r="8.5" fill="#3268be"/><circle cx="3371" cy="236.5" r="8.5" fill="#2750b6"/><circle cx="3389.2" cy="256.2" r="7.6" fill="#1c3aae"/><circle cx="3351.4" cy="256.2" r="9.0" fill="#3268be"/><circle cx="3371" cy="276.4" r="8.5" fill="#2750b6"/><circle cx="3351.4" cy="294" r="8.1" fill="#3268be"/><circle cx="3414.6" cy="222.5" r="4.8" fill="#0e1ba3"/><circle cx="3404.2" cy="238" r="7.1" fill="#1427a7"/><circle cx="3420.3" cy="256.2" r="6.6" fill="#0a14a0"/><circle cx="3404.8" cy="274.3" r="7.1" fill="#1327a7"/><circle cx="3387.7" cy="293" r="7.1" fill="#1d3cae"/><circle cx="3413.6" cy="291" r="4.8" fill="#0e1ca3"/><circle cx="3399" cy="307.5" r="4.8" fill="#172eaa"/><text x="3451" y="235" font-family="Liberation Sans" font-weight="bold" font-size="21.5" fill="#1d1f9b" textLength="277" lengthAdjust="spacingAndGlyphs">MOHAMED BIN ZAYED</text><text x="3451" y="267" font-family="Liberation Sans" font-weight="bold" font-size="21.5" fill="#45b5dc" textLength="196" lengthAdjust="spacingAndGlyphs">UNIVERSITY OF</text><text x="3451" y="299" font-family="Liberation Sans" font-weight="bold" font-size="21.5" fill="#45b5dc" textLength="339" lengthAdjust="spacingAndGlyphs">ARTIFICIAL INTELLIGENCE</text></svg>
<svg style="left:0;top:0" width="4608" height="400"><path d="M3971.4 117 L3990.3 113.3 L4008 117 L4021.8 126.3 L4025.5 132.8 L4057.9 150.3 L4053.3 160.5 L4056 166 L4055 170 L4058 175.3 L4056 181 L4062.5 193 L4058.8 200.3 L4047.7 206.8 L4037.5 213.3 L4029.2 222.5 L4032 193 L4037.5 193 L4037.5 179 L4030 179 L4030 170 L4033 170 L4033 164 L4027.8 164.2 L4027.8 155 L4021 155 L4013.5 142 L4013.5 134.6 L4002.4 131.8 L4002.4 124.4 L3984.8 120.7 Z" fill="#3d4656" stroke="#3d4656" stroke-width="0.8" stroke-linejoin="round"/><rect x="4005.5" y="124.8" width="3" height="3" fill="#fff"/><rect x="4018.8" y="138.1" width="5" height="5" fill="#fff"/><rect x="4032.3" y="170.1" width="3" height="3" fill="#fff"/><rect x="4038.2" y="194.0" width="6" height="6" fill="#fff"/><rect x="4023.4" y="179.7" width="6" height="6" fill="#3d4656"/><path d="M3933 174.4 L3941.3 166" stroke="#8ac751" stroke-width="1.8"/><path d="M3944 146.6 L3951.5 138.8" stroke="#a5d24b" stroke-width="1.8"/><path d="M3961.6 166 L3976 151" stroke="#86c657" stroke-width="1.8"/><path d="M3970.4 177.6 L3983.9 164.2" stroke="#71c377" stroke-width="1.8"/><path d="M3988.5 179.5 L4000 168" stroke="#63c08d" stroke-width="1.8"/><path d="M3957.5 204.5 L3969 192.5" stroke="#5bbea4" stroke-width="1.8"/><path d="M3977 206.8 L3989 194.8" stroke="#58bbc3" stroke-width="1.8"/><path d="M4008 204.5 L4018.6 194.3" stroke="#55b8e4" stroke-width="1.8"/><path d="M4005.6 181.8 L4015.8 171.2" stroke="#5bbea5" stroke-width="1.8"/><path d="M3983.9 164.2 L3998 150" stroke="#7ac469" stroke-width="1.8"/><rect x="3949.4" y="120.5" width="4.2" height="4.2" fill="#bcdb49"/><rect x="3963.7" y="118.2" width="1.4" height="1.4" fill="#b9da4a"/><rect x="3955.9" y="127.0" width="5" height="5" fill="#afd64a"/><rect x="3966.4" y="124.1" width="8" height="8" fill="#aad44b"/><rect x="3979.7" y="128.7" width="4.6" height="4.6" fill="#a0d04c"/><rect x="3989.1" y="128.3" width="8" height="8" fill="#98cd4c"/><rect x="3941.0" y="143.6" width="6" height="6" fill="#a3d14c"/><rect x="3950.0" y="137.3" width="3" height="3" fill="#a8d34b"/><rect x="3958.5" y="138.0" width="10" height="10" fill="#9cce4c"/><rect x="3975.0" y="139.2" width="13" height="13" fill="#8ec94d"/><rect x="3994.5" y="142.1" width="11" height="11" fill="#81c65e"/><rect x="4009.8" y="149.0" width="3.7" height="3.7" fill="#76c46f"/><rect x="3948.7" y="155.5" width="3.7" height="3.7" fill="#92ca4d"/><rect x="3960.0" y="153.4" width="3.2" height="3.2" fill="#8ec94d"/><rect x="3937.8" y="162.5" width="7" height="7" fill="#8cc84d"/><rect x="3957.4" y="161.8" width="8.3" height="8.3" fill="#80c55f"/><rect x="3978.9" y="159.2" width="10" height="10" fill="#76c370"/><rect x="3997.4" y="160.2" width="10" height="10" fill="#69c183"/><rect x="4018.6" y="160.1" width="4.6" height="4.6" fill="#62c08f"/><rect x="3931.2" y="172.6" width="3.7" height="3.7" fill="#87c755"/><rect x="3949.2" y="174.5" width="3.7" height="3.7" fill="#7ac46a"/><rect x="3967.4" y="174.6" width="6" height="6" fill="#6dc27e"/><rect x="3984.3" y="175.3" width="8.3" height="8.3" fill="#60bf93"/><rect x="4001.2" y="177.4" width="8.8" height="8.8" fill="#5abdac"/><rect x="4013.7" y="169.1" width="4.2" height="4.2" fill="#5bbe9d"/><rect x="3966.7" y="190.2" width="4.6" height="4.6" fill="#5bbe9b"/><rect x="3952.5" y="199.5" width="10" height="10" fill="#5abdad"/><rect x="3984.0" y="189.8" width="10" height="10" fill="#59bcba"/><rect x="3974.5" y="204.3" width="5" height="5" fill="#57bacb"/><rect x="4001.8" y="192.5" width="3.7" height="3.7" fill="#57bacb"/><rect x="4014.4" y="190.2" width="8.3" height="8.3" fill="#56b9de"/><rect x="4005.7" y="202.2" width="4.6" height="4.6" fill="#55b8eb"/><rect x="4020.2" y="203.8" width="3.2" height="3.2" fill="#55b8ee"/><text x="4097" y="193" font-family="Liberation Sans" font-weight="bold" font-size="82" fill="#36414b" stroke="#36414b" stroke-width="3.5" textLength="230" lengthAdjust="spacingAndGlyphs">ICLR</text><rect x="4098" y="199" width="234" height="2.5" fill="#36414b"/></svg>
<div class="a" style="left:3863.0px;top:228.6px;font-size:32.4px;font-family:'Liberation Sans',sans-serif;font-weight:bold;color:#1e1e1e">International Conference of Learning</div>
<div class="a" style="left:3147.0px;top:272.6px;font-size:32.4px;width:2000.0px;font-family:'Liberation Sans',sans-serif;text-align:center;font-weight:bold;color:#1e1e1e">Representations (ICLR)</div>
<div class="a" style="left:3151.0px;top:317.1px;font-size:32.4px;width:2000.0px;font-family:'Liberation Sans',sans-serif;text-align:center;font-weight:bold;color:#1e1e1e">2025</div>
<div class="a" style="left:984.0px;top:98.1px;font-size:71.9px;font-family:'Liberation Sans',sans-serif;font-weight:bold">LoCA: Location-Aware Cosine Adaptation for Parameter-Efficient Fine-Tuning</div>
<div class="a" style="left:1263.0px;top:209.0px;font-size:42.5px;word-spacing:2.25px">Zhekai Du<span style="font-size:25px;vertical-align:15px;line-height:0">†,‡</span>, Yinjie Min<svg class="is" width="10" height="9" viewBox="0 0 10 9" style="vertical-align:17px;margin-right:1px"><path d="M5.0 0.65 L9.35 4.5 L5.0 8.35 L0.65 4.5 Z" fill="none" stroke="#000" stroke-width="1.3"/></svg>, Jingjing Li<span style="font-size:25px;vertical-align:15px;line-height:0">†</span>, Ke Lu<span style="font-size:25px;vertical-align:15px;line-height:0">†</span>, Changliang Zou<svg class="is" width="10" height="9" viewBox="0 0 10 9" style="vertical-align:17px;margin-right:1px"><path d="M5.0 0.65 L9.35 4.5 L5.0 8.35 L0.65 4.5 Z" fill="none" stroke="#000" stroke-width="1.3"/></svg>, Liuhua Peng<span style="font-size:25px;vertical-align:15px;line-height:0">‡</span>, Tingjin Chu<span style="font-size:25px;vertical-align:15px;line-height:0">‡</span>, Mingming Gong<span style="font-size:25px;vertical-align:15px;line-height:0">‡,</span><svg class="is" width="10" height="10" viewBox="0 0 10 10" style="vertical-align:17px;margin-left:2px;margin-right:0px"><path d="M5.00 0.00 L6.23 3.30 L9.76 3.45 L7.00 5.65 L7.94 9.05 L5.00 7.10 L2.06 9.05 L3.00 5.65 L0.24 3.45 L3.77 3.30 Z" fill="#000"/></svg></div>
<div class="a" style="left:1781.0px;top:284.0px;font-size:42.5px;word-spacing:2.3px">†UESTC, ‡ UniMelb, <svg class="is" width="11" height="13" viewBox="0 0 11 13" style="vertical-align:3px;margin-right:0px"><path d="M5.5 0.8 L10.2 6.5 L5.5 12.2 L0.8 6.5 Z" fill="none" stroke="#000" stroke-width="1.6"/></svg> Nankai University, <svg class="is" width="16" height="16" viewBox="0 0 16 16" style="vertical-align:4px;margin-left:0px;margin-right:0px"><path d="M8.00 0.00 L9.97 5.28 L15.61 5.53 L11.20 9.04 L12.70 14.47 L8.00 11.36 L3.30 14.47 L4.80 9.04 L0.39 5.53 L6.03 5.28 Z" fill="#000"/></svg> MBZUAI</div>
<div class="hb" style="left:182px;top:362px;width:975px;height:93px"></div>
<svg style="left:410px;top:365px" width="110" height="80" viewBox="0 0 110 80"><path d="M18.6 18.9 H14.5 V67.3 H92.5 V18.9 H88.4" stroke="#000" fill="none" stroke-linejoin="round" stroke-linecap="round" stroke-width="2.6"/><path d="M53.5 13.4 Q48 10.8 43 11.4 L19.5 14.5 V61.4 L43 58.3 Q48 57.8 53.5 61.8 Q59 57.8 64 58.3 L87.5 61.4 V14.5 L64 11.4 Q59 10.8 53.5 13.4 Z" stroke="#000" fill="none" stroke-linejoin="round" stroke-linecap="round" stroke-width="2.6"/><path d="M53.5 13.4 V61.8" stroke="#000" fill="none" stroke-linejoin="round" stroke-linecap="round" stroke-width="2.6"/><path d="M24.2 20.9 L43 18.6 Q46 18.3 49.4 19.6" stroke="#000" fill="none" stroke-linejoin="round" stroke-linecap="round" stroke-width="2.5"/><path d="M57.6 19.6 Q61 18.3 64 18.6 L82.8 20.9" stroke="#000" fill="none" stroke-linejoin="round" stroke-linecap="round" stroke-width="2.5"/><path d="M24.2 27.8 L43 25.5 Q46 25.2 49.4 26.5" stroke="#000" fill="none" stroke-linejoin="round" stroke-linecap="round" stroke-width="2.5"/><path d="M57.6 26.5 Q61 25.2 64 25.5 L82.8 27.8" stroke="#000" fill="none" stroke-linejoin="round" stroke-linecap="round" stroke-width="2.5"/><path d="M24.2 34.7 L43 32.4 Q46 32.1 49.4 33.4" stroke="#000" fill="none" stroke-linejoin="round" stroke-linecap="round" stroke-width="2.5"/><path d="M57.6 33.4 Q61 32.1 64 32.4 L82.8 34.7" stroke="#000" fill="none" stroke-linejoin="round" stroke-linecap="round" stroke-width="2.5"/><path d="M24.2 41.6 L43 39.3 Q46 39.0 49.4 40.3" stroke="#000" fill="none" stroke-linejoin="round" stroke-linecap="round" stroke-width="2.5"/><path d="M57.6 40.3 Q61 39.0 64 39.3 L82.8 41.6" stroke="#000" fill="none" stroke-linejoin="round" stroke-linecap="round" stroke-width="2.5"/><path d="M24.2 48.5 L43 46.2 Q46 45.9 49.4 47.2" stroke="#000" fill="none" stroke-linejoin="round" stroke-linecap="round" stroke-width="2.5"/><path d="M57.6 47.2 Q61 45.9 64 46.2 L82.8 48.5" stroke="#000" fill="none" stroke-linejoin="round" stroke-linecap="round" stroke-width="2.5"/></svg>
<div class="a" style="left:524px;top:389.8px;font-family:'Liberation Mono',monospace;font-weight:bold;font-size:52.4px;transform:scaleY(1.07);transform-origin:0 40.2px">Introduction</div>
<div class="a j" style="left:176.0px;top:474.0px;font-size:42.5px;width:987.0px;">Fine-tuning large pretrained models has become critical</div>
<div class="a j" style="left:176.0px;top:524.9px;font-size:42.5px;width:987.0px;">for adapting to downstream tasks, but it requires</div>
<div class="a j" style="left:176.0px;top:575.8px;font-size:42.5px;width:987.0px;">significant resources as models grow in size. <b>Parameter-</b></div>
<div class="a j" style="left:176.0px;top:626.7px;font-size:42.5px;width:987.0px;"><b>Efficient Fine-Tuning (PEFT)</b> addresses this challenge</div>
<div class="a" style="left:176.0px;top:677.6px;font-size:42.5px;">by updating only a small number of parameters.</div>
<div class="a j" style="left:176.0px;top:769.0px;font-size:42.5px;width:975.0px;"><b>Low-Rank Adaptation (LoRA)</b> has emerged as a</div>
<div class="a j" style="left:176.0px;top:820.0px;font-size:42.5px;width:975.0px;">dominant approach that reparameterizes weight updates</div>
<div class="a" style="left:176.0px;top:871.0px;font-size:42.5px;">as low-rank decompositions:</div>
<div class="a" style="left:397.0px;top:937.6px;font-size:43px;"><i>W′</i></div>
<div class="a" style="left:461.0px;top:937.6px;font-size:43px;">=</div>
<div class="a" style="left:502.0px;top:937.6px;font-size:43px;"><i>W</i></div>
<div class="a" style="left:537.0px;top:956.8px;font-size:29px;">0</div>
<div class="a" style="left:568.0px;top:937.6px;font-size:43px;">+</div>
<div class="a" style="left:607.0px;top:937.6px;font-size:43px;">Δ<i>W</i></div>
<div class="a" style="left:688.0px;top:937.6px;font-size:43px;">=</div>
<div class="a" style="left:729.0px;top:937.6px;font-size:43px;"><i>W</i></div>
<div class="a" style="left:764.0px;top:956.8px;font-size:29px;">0</div>
<div class="a" style="left:795.0px;top:937.6px;font-size:43px;">+</div>
<div class="a" style="left:835.0px;top:937.6px;font-size:43px;"><i>BA</i></div>
<div class="a" style="left:176.0px;top:1005.0px;font-size:42.5px;">where</div>
<div class="a" style="left:289.0px;top:1005.0px;font-size:42.5px;"><i>B</i></div>
<div class="a" style="left:369.0px;top:1005.0px;font-size:42.5px;"><i>R</i></div>
<div class="a" style="left:399.0px;top:994.6px;font-size:33px;"><i>p</i>×<i>r</i></div>
<div class="a" style="left:454.0px;top:1005.0px;font-size:42.5px;">,</div>
<div class="a" style="left:485.0px;top:1005.0px;font-size:42.5px;">A</div>
<div class="a" style="left:575.0px;top:1005.0px;font-size:42.5px;"><i>R</i></div>
<div class="a" style="left:607.0px;top:994.6px;font-size:33px;"><i>r</i>×<i>p</i></div>
<div class="a" style="left:664.0px;top:1005.0px;font-size:42.5px;">,</div>
<div class="a" style="left:699.0px;top:1005.0px;font-size:42.5px;">and</div>
<div class="a" style="left:770.0px;top:1005.0px;font-size:42.5px;"><i>r</i></div>
<div class="a" style="left:862.0px;top:1005.0px;font-size:42.5px;">min(<i>p</i>, <i>q</i>).</div>
<svg style="left:334px;top:0" width="22" height="2" viewBox="0 0 22 2"><path d="M22 1019.10 H11.00 A9.90 9.90 0 0 0 11.00 1038.90 H22 M1.1 1029.00 H20.24" fill="none" stroke="#000" stroke-width="2.2" transform="translate(0 0)"/></svg>
<svg style="left:543px;top:0" width="22" height="2" viewBox="0 0 22 2"><path d="M22 1019.10 H11.00 A9.90 9.90 0 0 0 11.00 1038.90 H22 M1.1 1029.00 H20.24" fill="none" stroke="#000" stroke-width="2.2" transform="translate(0 0)"/></svg>
<svg style="left:805px;top:0" width="34" height="2" viewBox="0 0 34 2"><path d="M19.72 1022 L2.0 1030.5 L19.72 1039 M34 1022 L16.28 1030.5 L34 1039" fill="none" stroke="#000" stroke-width="2.0" stroke-linejoin="miter"/></svg>
<div class="a j" style="left:176.0px;top:1093.0px;font-size:42.5px;width:975.0px;"><b>Limitation:</b> The low-rank decomposition form</div>
<div class="a j" style="left:176.0px;top:1143.0px;font-size:42.5px;width:975.0px;">constrains the hypothesis space and limits further</div>
<div class="a" style="left:176.0px;top:1194.0px;font-size:42.5px;">parameter reduction.</div>
<div class="hb" style="left:170px;top:1267px;width:976px;height:93px"></div>
<svg style="left:415px;top:1265px" width="82" height="92" viewBox="0 0 82 92"><path d="M41 10 V12.8" stroke="#231816" stroke-width="7.4" stroke-linecap="round"/><path d="M14.2 20.8 L16.8 23.4 M67.8 20.8 L65.2 23.4" stroke="#231816" stroke-width="8.5" stroke-linecap="round"/><path d="M31.3 74.4 V62.2 A21.1 21.1 0 1 1 50.7 62.2 V74.4 Z" fill="none" stroke="#231816" stroke-width="6.6" stroke-linejoin="round"/><path d="M30.2 44.3 Q36.4 34.5 41.3 41.5 Q46.2 50.5 52.4 42.2" fill="none" stroke="#231816" stroke-width="3.6" stroke-linecap="round"/><rect x="27.8" y="80.5" width="26.4" height="7" rx="3.5" fill="#231816"/></svg>
<div class="a" style="left:503px;top:1287.8px;font-family:'Liberation Mono',monospace;font-weight:bold;font-size:52.4px;transform:scaleY(1.07);transform-origin:0 40.2px">Our Approach</div>
<div class="a j" style="left:176.0px;top:1387.0px;font-size:42.5px;width:975.0px;">We introduce <b>Location-aware Cosine Adaptation</b></div>
<div class="a" style="left:176.0px;top:1438.0px;font-size:42.5px;"><b>(LoCA)</b>, a novel frequency-domain PEFT method that:</div>
<svg style="left:180px;top:1520px" width="28" height="32" viewBox="0 0 28 32"><path d="M1.2 1.2 L26 15.5 L9.6 15.5 Z" fill="none" stroke="#000" stroke-width="1.7" stroke-linejoin="miter"/><path d="M9.3 15 L26.6 15 L0.3 31 Z" fill="#000"/></svg>
<div class="a j" style="left:225.0px;top:1517.0px;font-size:42.5px;width:938.0px;">Represents weight updates using inverse Discrete</div>
<div class="a" style="left:225.0px;top:1568.0px;font-size:42.5px;">Cosine Transform (iDCT).</div>
<svg style="left:180px;top:1640px" width="28" height="32" viewBox="0 0 28 32"><path d="M1.2 1.2 L26 15.5 L9.6 15.5 Z" fill="none" stroke="#000" stroke-width="1.7" stroke-linejoin="miter"/><path d="M9.3 15 L26.6 15 L0.3 31 Z" fill="#000"/></svg>
<div class="a j" style="left:225.0px;top:1637.0px;font-size:42.5px;width:938.0px;">Dynamically selects the most informative frequency</div>
<div class="a" style="left:225.0px;top:1688.0px;font-size:42.5px;">components.</div>
<svg style="left:180px;top:1757px" width="28" height="32" viewBox="0 0 28 32"><path d="M1.2 1.2 L26 15.5 L9.6 15.5 Z" fill="none" stroke="#000" stroke-width="1.7" stroke-linejoin="miter"/><path d="M9.3 15 L26.6 15 L0.3 31 Z" fill="#000"/></svg>
<div class="a j" style="left:225.0px;top:1754.0px;font-size:42.5px;width:938.0px;">Optimizes both coefficients and locations of these</div>
<div class="a" style="left:225.0px;top:1806.0px;font-size:42.5px;">components.</div>
<div class="hb" style="left:170px;top:1877px;width:976px;height:93px"></div>
<svg style="left:437px;top:1889px" width="66" height="70" viewBox="0 0 66 70"><path d="M8 0 H43 L65 22 V61 Q65 69 57 69 H8 Q0 69 0 61 V8 Q0 0 8 0 Z" fill="#2a2a2a"/><path d="M44 6 V22 H60 Z" fill="#dce6f2"/><rect x="11" y="13" width="20" height="6" rx="3" fill="#dce6f2"/><rect x="11" y="31.1" width="43" height="6.2" rx="3.1" fill="#dce6f2"/><rect x="11" y="49.7" width="43" height="6.2" rx="3.1" fill="#dce6f2"/></svg>
<div class="a" style="left:526px;top:1901.8px;font-family:'Liberation Mono',monospace;font-weight:bold;font-size:52.4px;transform:scaleY(1.07);transform-origin:0 40.2px">Conclusion</div>
<svg style="left:180px;top:2006px" width="28" height="32" viewBox="0 0 28 32"><path d="M1.2 1.2 L26 15.5 L9.6 15.5 Z" fill="none" stroke="#000" stroke-width="1.7" stroke-linejoin="miter"/><path d="M9.3 15 L26.6 15 L0.3 31 Z" fill="#000"/></svg>
<div class="a j" style="left:225.0px;top:2003.0px;font-size:42.5px;width:938.0px;">LoCA enhances expressiveness while maintaining</div>
<div class="a" style="left:225.0px;top:2054.0px;font-size:42.5px;">computational efficiency.</div>
<svg style="left:180px;top:2127px" width="28" height="32" viewBox="0 0 28 32"><path d="M1.2 1.2 L26 15.5 L9.6 15.5 Z" fill="none" stroke="#000" stroke-width="1.7" stroke-linejoin="miter"/><path d="M9.3 15 L26.6 15 L0.3 31 Z" fill="#000"/></svg>
<div class="a j" style="left:225.0px;top:2124.0px;font-size:42.5px;width:923.0px;">We establish the theoretical foundations for</div>
<div class="a" style="left:225.0px;top:2175.0px;font-size:42.5px;">frequency-domain PEFT methods.</div>
<svg style="left:180px;top:2255px" width="28" height="32" viewBox="0 0 28 32"><path d="M1.2 1.2 L26 15.5 L9.6 15.5 Z" fill="none" stroke="#000" stroke-width="1.7" stroke-linejoin="miter"/><path d="M9.3 15 L26.6 15 L0.3 31 Z" fill="#000"/></svg>
<div class="a j" style="left:225.0px;top:2252.0px;font-size:42.5px;width:938.0px;">Effective across language, vision and multimodal tasks</div>
<div class="hb" style="left:1331px;top:358px;width:1706px;height:93px"></div>
<svg style="left:1860px;top:360px" width="100" height="90" viewBox="0 0 100 90"><path d="M13.2 84.3 V14.5 Q13.2 6.3 20.5 6.3 H75 Q82 6.3 82 16.7 H28.2 V15 Q28 6.3 20.5 6.3" fill="none" stroke="#2b2b2b" stroke-width="2.4"/><path d="M71.3 16.7 V41.5 M71.3 67 V84.3 M13.2 83.6 H71.3" fill="none" stroke="#2b2b2b" stroke-width="2.4"/><path d="M19.3 26.6 H64.6 M19.3 34.6 H45.6 M19.3 43.3 H40.3 M19.3 51.6 H39.3" fill="none" stroke="#2b2b2b" stroke-width="2.4"/><path d="M19.3 77.6 L32 65 H42.3 L46 61.6" fill="none" stroke="#2b2b2b" stroke-width="2.4"/><circle cx="58" cy="49.3" r="14.6" fill="none" stroke="#2b2b2b" stroke-width="2.4"/><path d="M49.3 58 L58.5 48.8 M52 48.2 H58.8 V55" fill="none" stroke="#2b2b2b" stroke-width="2.4"/><path d="M67.3 59.5 L79.3 71.3 Q82.2 74 79.8 76.3 Q77.4 78.6 74.7 75.9 L63.2 63.9" fill="none" stroke="#2b2b2b" stroke-width="2.4"/></svg>
<div class="a" style="left:1956px;top:387.3px;font-family:'Liberation Mono',monospace;font-weight:bold;font-size:52.4px;transform:scaleY(1.07);transform-origin:0 40.2px">Theoretical Analysis</div>
<div class="a" style="left:1342.0px;top:485.0px;font-size:42.5px;"><b>Key Observation:</b> Weight incremental matrices from fine-tuning exhibit asymptotic normality.</div>
<div class="a" style="left:1418.0px;top:931.0px;font-size:33.8px;">(a) Empirical Distribution of <i>ΔW</i></div>
<div class="a" style="left:2004.0px;top:931.0px;font-size:33.8px;">(b) Hypothesis Testing</div>
<div class="a" style="left:2448.0px;top:931.0px;font-size:33.8px;">(c) Empirical Spectral Density</div>
<div class="a" style="left:1342.0px;top:992.0px;font-size:42.5px;"><b>Theoretical Comparison:</b></div>
<svg style="left:1342px;top:1069px" width="28" height="32" viewBox="0 0 28 32"><path d="M1.2 1.2 L26 15.5 L9.6 15.5 Z" fill="none" stroke="#000" stroke-width="1.7" stroke-linejoin="miter"/><path d="M9.3 15 L26.6 15 L0.3 31 Z" fill="#000"/></svg>
<div class="a j" style="left:1389.0px;top:1066.0px;font-size:42.5px;width:1640.0px;">We prove that carefully selected learnable frequency components can surpass the expressivity</div>
<div class="a" style="left:1389.0px;top:1117.0px;font-size:42.5px;">of low-rank methods (Theorem 1).</div>
<svg style="left:1342px;top:1191px" width="28" height="32" viewBox="0 0 28 32"><path d="M1.2 1.2 L26 15.5 L9.6 15.5 Z" fill="none" stroke="#000" stroke-width="1.7" stroke-linejoin="miter"/><path d="M9.3 15 L26.6 15 L0.3 31 Z" fill="#000"/></svg>
<div class="a j" style="left:1389.0px;top:1188.0px;font-size:42.5px;width:1640.0px;">iDCT offers a more efficient implementation than iDFT while maintaining equivalent</div>
<div class="a" style="left:1389.0px;top:1239.0px;font-size:42.5px;">expressivity (Theorem 2).</div>
<div class="hb" style="left:1331px;top:1296px;width:1706px;height:92px"></div>
<svg style="left:1850px;top:1300px" width="100" height="95" viewBox="0 0 100 95"><path fill-rule="evenodd" fill="#000" d="M29.30 18.47 L30.07 12.49 L37.43 12.49 L38.20 18.47 L38.99 18.70 L39.77 18.96 L40.53 19.26 L41.29 19.59 L45.72 15.51 L51.36 20.24 L48.11 25.32 L48.56 26.00 L48.99 26.70 L49.39 27.42 L49.75 28.16 L55.77 27.88 L57.05 35.13 L51.29 36.93 L51.21 37.74 L51.08 38.56 L50.92 39.36 L50.72 40.16 L55.52 43.81 L51.83 50.19 L46.27 47.87 L45.68 48.44 L45.06 48.98 L44.42 49.50 L43.76 49.98 L45.08 55.86 L38.16 58.38 L35.39 53.02 L34.57 53.08 L33.75 53.10 L32.93 53.08 L32.11 53.02 L29.34 58.38 L22.42 55.86 L23.74 49.98 L23.08 49.50 L22.44 48.98 L21.82 48.44 L21.23 47.87 L15.67 50.19 L11.98 43.81 L16.78 40.16 L16.58 39.36 L16.42 38.56 L16.29 37.74 L16.21 36.93 L10.45 35.13 L11.73 27.88 L17.75 28.16 L18.11 27.42 L18.51 26.70 L18.94 26.00 L19.39 25.32 L16.14 20.24 L21.78 15.51 L26.21 19.59 L26.97 19.26 L27.73 18.96 L28.51 18.70 Z M43.65 35.5 A9.9 9.9 0 1 0 23.85 35.5 A9.9 9.9 0 1 0 43.65 35.5 Z"/><path fill-rule="evenodd" fill="#000" d="M68.79 26.04 L69.56 22.68 L73.84 22.68 L74.61 26.04 L74.68 26.06 L74.76 26.08 L74.84 26.11 L74.91 26.14 L77.51 23.87 L80.97 26.38 L79.61 29.55 L79.66 29.62 L79.71 29.68 L79.76 29.75 L79.80 29.81 L83.23 29.50 L84.56 33.57 L81.60 35.34 L81.60 35.42 L81.60 35.50 L81.60 35.58 L81.60 35.66 L84.56 37.43 L83.23 41.50 L79.80 41.19 L79.76 41.25 L79.71 41.32 L79.66 41.38 L79.61 41.45 L80.97 44.62 L77.51 47.13 L74.91 44.86 L74.84 44.89 L74.76 44.92 L74.68 44.94 L74.61 44.96 L73.84 48.32 L69.56 48.32 L68.79 44.96 L68.72 44.94 L68.64 44.92 L68.56 44.89 L68.49 44.86 L65.89 47.13 L62.43 44.62 L63.79 41.45 L63.74 41.38 L63.69 41.32 L63.64 41.25 L63.60 41.19 L60.17 41.50 L58.84 37.43 L61.80 35.66 L61.80 35.58 L61.80 35.50 L61.80 35.42 L61.80 35.34 L58.84 33.57 L60.17 29.50 L63.60 29.81 L63.64 29.75 L63.69 29.68 L63.74 29.62 L63.79 29.55 L62.43 26.38 L65.89 23.87 L68.49 26.14 L68.56 26.11 L68.64 26.08 L68.72 26.06 Z M77.4 35.5 A5.7 5.7 0 1 0 66.0 35.5 A5.7 5.7 0 1 0 77.4 35.5 Z"/><path fill-rule="evenodd" fill="#000" d="M57.75 53.61 L58.14 49.30 L63.40 48.84 L64.54 53.02 L65.00 53.12 L65.46 53.23 L65.92 53.36 L66.37 53.51 L69.44 50.46 L73.76 53.49 L71.95 57.42 L72.24 57.79 L72.52 58.17 L72.79 58.57 L73.04 58.97 L77.35 58.61 L78.71 63.71 L74.80 65.55 L74.78 66.03 L74.75 66.50 L74.70 66.97 L74.63 67.44 L78.17 69.93 L75.94 74.72 L71.75 73.61 L71.44 73.97 L71.11 74.31 L70.77 74.64 L70.41 74.95 L71.52 79.14 L66.73 81.37 L64.24 77.83 L63.77 77.90 L63.30 77.95 L62.83 77.98 L62.35 78.00 L60.51 81.91 L55.41 80.55 L55.77 76.24 L55.37 75.99 L54.97 75.72 L54.59 75.44 L54.22 75.15 L50.29 76.96 L47.26 72.64 L50.31 69.57 L50.16 69.12 L50.03 68.66 L49.92 68.20 L49.82 67.74 L45.64 66.60 L46.10 61.34 L50.41 60.95 L50.59 60.51 L50.78 60.08 L50.99 59.65 L51.21 59.23 L48.75 55.68 L52.48 51.95 L56.03 54.41 L56.45 54.19 L56.88 53.98 L57.31 53.79 Z M69.5 65.4 A7.3 7.3 0 1 0 54.900000000000006 65.4 A7.3 7.3 0 1 0 69.5 65.4 Z"/></svg>
<div class="a" style="left:1951px;top:1321.8px;font-family:'Liberation Mono',monospace;font-weight:bold;font-size:52.4px;transform:scaleY(1.07);transform-origin:0 40.2px">Method Overview</div>
<div class="a" style="left:1342.0px;top:1409.0px;font-size:42.5px;">LoCA reparameterizes the weight increment matrix using 2D inverse DCT:</div>
<div class="a" style="left:1725.0px;top:1473.6px;font-size:43px;"><i>W′</i></div>
<div class="a" style="left:1797.0px;top:1473.6px;font-size:43px;">=</div>
<div class="a" style="left:1849.0px;top:1473.6px;font-size:43px;"><i>W</i></div>
<div class="a" style="left:1886.0px;top:1492.0px;font-size:30px;">0</div>
<div class="a" style="left:1924.0px;top:1473.6px;font-size:43px;">+</div>
<div class="a" style="left:1964.0px;top:1473.6px;font-size:43px;">Δ</div>
<div class="a" style="left:2001.0px;top:1473.6px;font-size:43px;"><i>W</i></div>
<div class="a" style="left:2063.0px;top:1473.6px;font-size:43px;">=</div>
<div class="a" style="left:2115.0px;top:1473.6px;font-size:43px;"><i>W</i></div>
<div class="a" style="left:2150.0px;top:1492.0px;font-size:30px;">0</div>
<div class="a" style="left:2190.0px;top:1473.6px;font-size:43px;">+</div>
<div class="a" style="left:2230.0px;top:1473.6px;font-size:43px;"><i>α</i></div>
<div class="a" style="left:2257.0px;top:1473.6px;font-size:43px;">[</div>
<div class="a" style="left:2273.0px;top:1473.6px;font-size:43px;"><i>C</i></div>
<div class="a" style="left:2301.0px;top:1466.0px;font-size:30px;"><i>T</i></div>
<div class="a" style="left:2332.0px;top:1473.6px;font-size:43px;"><i>S</i></div>
<div class="a" style="left:2357.0px;top:1473.6px;font-size:43px;">(<i>a</i>,<i>l</i>)</div>
<div class="a" style="left:2440.0px;top:1473.6px;font-size:43px;"><i>D</i></div>
<div class="a" style="left:2476.0px;top:1473.6px;font-size:43px;">]</div>
<div class="a" style="left:1343.0px;top:1537.0px;font-size:42.5px;"><i>C</i></div>
<div class="a" style="left:1421.0px;top:1537.0px;font-size:42.5px;"><i>R</i></div>
<div class="a" style="left:1447.0px;top:1526.6px;font-size:33px;"><i>p</i>×<i>p</i></div>
<div class="a" style="left:1509.0px;top:1537.0px;font-size:42.5px;">,</div>
<div class="a" style="left:1534.0px;top:1537.0px;font-size:42.5px;"><i>D</i></div>
<div class="a" style="left:1615.0px;top:1537.0px;font-size:42.5px;"><i>R</i></div>
<div class="a" style="left:1642.0px;top:1526.6px;font-size:33px;"><i>q</i>×<i>q</i></div>
<div class="a" style="left:1717.0px;top:1537.0px;font-size:42.5px;">are DCT matrices,</div>
<div class="a" style="left:2044.0px;top:1537.0px;font-size:42.5px;"><i>a</i></div>
<div class="a" style="left:2089.0px;top:1537.0px;font-size:42.5px;">=</div>
<div class="a" style="left:2148.0px;top:1537.0px;font-size:42.5px;">{<i>a</i></div>
<div class="a" style="left:2187.0px;top:1557.0px;font-size:30px;"><i>i</i></div>
<div class="a" style="left:2199.0px;top:1537.0px;font-size:42.5px;">}</div>
<div class="a" style="left:2217.0px;top:1524.0px;font-size:30px;"><i>B</i></div>
<div class="a" style="left:2217.0px;top:1560.0px;font-size:30px;"><i>i</i>=1</div>
<div class="a" style="left:2280.0px;top:1537.0px;font-size:42.5px;">are learnable coefficients,</div>
<div class="a" style="left:2731.0px;top:1537.0px;font-size:42.5px;"><i>l</i></div>
<div class="a" style="left:2766.0px;top:1537.0px;font-size:42.5px;">=</div>
<div class="a" style="left:2821.0px;top:1535.2px;font-size:56px;">{</div>
<div class="a" style="left:2838.0px;top:1535.8px;font-size:54px;">(</div>
<div class="a" style="left:2856.0px;top:1537.0px;font-size:42.5px;"><i>l</i></div>
<div class="a" style="left:2868.0px;top:1533.0px;font-size:25px;">1</div>
<div class="a" style="left:2868.0px;top:1561.0px;font-size:25px;"><i>i</i></div>
<div class="a" style="left:2886.0px;top:1537.0px;font-size:42.5px;">,</div>
<div class="a" style="left:2904.0px;top:1537.0px;font-size:42.5px;"><i>l</i></div>
<div class="a" style="left:2916.0px;top:1533.0px;font-size:25px;">2</div>
<div class="a" style="left:2916.0px;top:1561.0px;font-size:25px;"><i>i</i></div>
<div class="a" style="left:2937.0px;top:1535.8px;font-size:54px;">)</div>
<div class="a" style="left:2953.0px;top:1535.2px;font-size:56px;">}</div>
<div class="a" style="left:2976.0px;top:1519.0px;font-size:30px;"><i>B</i></div>
<div class="a" style="left:2976.0px;top:1567.0px;font-size:30px;"><i>i</i>=1</div>
<svg style="left:1383px;top:0" width="20" height="2" viewBox="0 0 20 2"><path d="M20 1553.00 H9.50 A8.50 8.50 0 0 0 9.50 1570.00 H20 M1.0 1561.50 H18.40" fill="none" stroke="#000" stroke-width="2.0" transform="translate(0 0)"/></svg>
<svg style="left:1577px;top:0" width="20" height="2" viewBox="0 0 20 2"><path d="M20 1553.00 H9.50 A8.50 8.50 0 0 0 9.50 1570.00 H20 M1.0 1561.50 H18.40" fill="none" stroke="#000" stroke-width="2.0" transform="translate(0 0)"/></svg>
<div class="a" style="left:1342.0px;top:1599.0px;font-size:42.5px;">are learnable locations. <i>S</i>(·) is an operator that scatters coefficients onto a zero matrix.</div>
<div class="a" style="left:1342.0px;top:1684.0px;font-size:42.5px;"><b>Coefficient Optimization:</b> Direct gradient-based updates via backpropagation.</div>
<div class="a" style="left:1342.0px;top:1769.0px;font-size:42.5px;"><b>Location Optimization:</b> Uses finite-difference approximation to estimate gradients. Central</div>
<div class="a" style="left:1342.0px;top:1822.0px;font-size:42.5px;">difference approximation enables optimization of discrete locations:</div>
<div style="position:absolute;left:1621px;top:1953px;width:91px;height:2.5px;background:#7d6262"></div>
<div style="position:absolute;left:1768px;top:1953px;width:825px;height:2.5px;background:#7d6262"></div>
<div class="a" style="left:1621.0px;top:1901.4px;font-size:42px;">∂Δ<i>W</i></div>
<div class="a" style="left:1638.0px;top:1963.4px;font-size:42px;">∂<i>l</i></div>
<div class="a" style="left:1675.0px;top:1962.0px;font-size:25px;">1</div>
<div class="a" style="left:1675.0px;top:1980.0px;font-size:30px;"><i>n</i></div>
<div class="a" style="left:1727.0px;top:1932.4px;font-size:42px;">=</div>
<div class="a" style="left:1770.0px;top:1901.4px;font-size:42px;"><i>α</i></div>
<div class="a" style="left:1796.0px;top:1901.4px;font-size:42px;"><i>C</i></div>
<div class="a" style="left:1823.0px;top:1890.0px;font-size:30px;"><i>T</i></div>
<div class="a" style="left:1848.0px;top:1901.4px;font-size:42px;">[</div>
<div class="a" style="left:1861.0px;top:1901.4px;font-size:42px;"><i>S</i></div>
<div class="a" style="left:1882.0px;top:1901.4px;font-size:42px;">(</div>
<div class="a" style="left:1904.0px;top:1901.4px;font-size:42px;"><i>a</i></div>
<div class="a" style="left:1926.0px;top:1919.0px;font-size:30px;"><i>n</i></div>
<div class="a" style="left:1945.0px;top:1901.4px;font-size:42px;">,</div>
<div class="a" style="left:1965.0px;top:1901.4px;font-size:42px;">(</div>
<div class="a" style="left:1983.0px;top:1901.4px;font-size:42px;"><i>l</i></div>
<div class="a" style="left:1997.0px;top:1899.0px;font-size:25px;">1</div>
<div class="a" style="left:1995.0px;top:1919.0px;font-size:30px;"><i>n</i></div>
<div class="a" style="left:2029.0px;top:1901.4px;font-size:42px;">+</div>
<div class="a" style="left:2071.0px;top:1901.4px;font-size:42px;">1,</div>
<div class="a" style="left:2108.0px;top:1901.4px;font-size:42px;"><i>l</i></div>
<div class="a" style="left:2121.0px;top:1899.0px;font-size:25px;">2</div>
<div class="a" style="left:2119.0px;top:1919.0px;font-size:30px;"><i>n</i></div>
<div class="a" style="left:2144.0px;top:1901.4px;font-size:42px;">))</div>
<div class="a" style="left:2190.0px;top:1901.4px;font-size:42px;">−</div>
<div class="a" style="left:2229.0px;top:1901.4px;font-size:42px;"><i>S</i></div>
<div class="a" style="left:2255.0px;top:1901.4px;font-size:42px;">(</div>
<div class="a" style="left:2272.0px;top:1901.4px;font-size:42px;"><i>a</i></div>
<div class="a" style="left:2296.0px;top:1919.0px;font-size:30px;"><i>n</i></div>
<div class="a" style="left:2316.0px;top:1901.4px;font-size:42px;">,</div>
<div class="a" style="left:2335.0px;top:1901.4px;font-size:42px;">(</div>
<div class="a" style="left:2352.0px;top:1901.4px;font-size:42px;"><i>l</i></div>
<div class="a" style="left:2366.0px;top:1899.0px;font-size:25px;">1</div>
<div class="a" style="left:2364.0px;top:1919.0px;font-size:30px;"><i>n</i></div>
<div class="a" style="left:2398.0px;top:1901.4px;font-size:42px;">−</div>
<div class="a" style="left:2440.0px;top:1901.4px;font-size:42px;">1,</div>
<div class="a" style="left:2478.0px;top:1901.4px;font-size:42px;"><i>l</i></div>
<div class="a" style="left:2491.0px;top:1899.0px;font-size:25px;">2</div>
<div class="a" style="left:2489.0px;top:1919.0px;font-size:30px;"><i>n</i></div>
<div class="a" style="left:2512.0px;top:1901.4px;font-size:42px;">))]</div>
<div class="a" style="left:2564.0px;top:1901.4px;font-size:42px;"><i>D</i></div>
<div class="a" style="left:2171.0px;top:1963.4px;font-size:42px;">2</div>
<div class="a" style="left:1342.0px;top:2041.0px;font-size:42.5px;"><b>Training Strategy:</b></div>
<svg style="left:1381px;top:2121px" width="28" height="32" viewBox="0 0 28 32"><path d="M1.2 1.2 L26 15.5 L9.6 15.5 Z" fill="none" stroke="#000" stroke-width="1.7" stroke-linejoin="miter"/><path d="M9.3 15 L26.6 15 L0.3 31 Z" fill="#000"/></svg>
<div class="a" style="left:1426.0px;top:2118.0px;font-size:42.5px;">Alternating optimization between coefficients and locations.</div>
<svg style="left:1381px;top:2188px" width="28" height="32" viewBox="0 0 28 32"><path d="M1.2 1.2 L26 15.5 L9.6 15.5 Z" fill="none" stroke="#000" stroke-width="1.7" stroke-linejoin="miter"/><path d="M9.3 15 L26.6 15 L0.3 31 Z" fill="#000"/></svg>
<div class="a" style="left:1426.0px;top:2185.0px;font-size:42.5px;">Initialize with randomly placed components.</div>
<svg style="left:1381px;top:2254px" width="28" height="32" viewBox="0 0 28 32"><path d="M1.2 1.2 L26 15.5 L9.6 15.5 Z" fill="none" stroke="#000" stroke-width="1.7" stroke-linejoin="miter"/><path d="M9.3 15 L26.6 15 L0.3 31 Z" fill="#000"/></svg>
<div class="a" style="left:1426.0px;top:2251.0px;font-size:42.5px;">Focus on coefficients after identifying key frequency components.</div>
<svg style="left:0;top:0" width="4608" height="1000"><path d="M1455 890 L1455.0 890.0 L1456.0 890.0 L1457.0 890.0 L1458.0 890.0 L1459.0 890.0 L1460.0 890.0 L1461.0 890.0 L1462.0 890.0 L1463.0 890.0 L1464.0 890.0 L1465.0 890.0 L1466.0 890.0 L1467.0 890.0 L1468.0 890.0 L1469.0 890.0 L1470.0 890.0 L1471.0 890.0 L1472.0 890.0 L1473.0 890.0 L1474.0 890.0 L1475.0 890.0 L1476.0 890.0 L1477.0 890.0 L1478.0 890.0 L1479.0 890.0 L1480.0 890.0 L1481.0 890.0 L1482.0 890.0 L1483.0 890.0 L1484.0 890.0 L1485.0 890.0 L1486.0 890.0 L1487.0 890.0 L1488.0 890.0 L1489.0 890.0 L1490.0 890.0 L1491.0 890.0 L1492.0 890.0 L1493.0 890.0 L1494.0 890.0 L1495.0 890.0 L1496.0 890.0 L1497.0 890.0 L1498.0 890.0 L1499.0 890.0 L1500.0 890.0 L1501.0 890.0 L1502.0 890.0 L1503.0 890.0 L1504.0 890.0 L1505.0 890.0 L1506.0 890.0 L1507.0 890.0 L1508.0 890.0 L1509.0 890.0 L1510.0 890.0 L1511.0 890.0 L1512.0 890.0 L1513.0 890.0 L1514.0 890.0 L1515.0 890.0 L1516.0 890.0 L1517.0 890.0 L1518.0 890.0 L1519.0 890.0 L1520.0 890.0 L1521.0 890.0 L1522.0 890.0 L1523.0 890.0 L1524.0 889.9 L1525.0 889.9 L1526.0 889.9 L1527.0 889.9 L1528.0 889.9 L1529.0 889.9 L1530.0 889.9 L1531.0 889.9 L1532.0 889.9 L1533.0 889.9 L1534.0 889.8 L1535.0 889.8 L1536.0 889.8 L1537.0 889.8 L1538.0 889.7 L1539.0 889.7 L1540.0 889.7 L1541.0 889.7 L1542.0 889.6 L1543.0 889.6 L1544.0 889.5 L1545.0 889.5 L1546.0 889.4 L1547.0 889.4 L1548.0 889.3 L1549.0 889.2 L1550.0 889.1 L1551.0 889.1 L1552.0 889.0 L1553.0 888.9 L1554.0 888.7 L1555.0 888.6 L1556.0 888.5 L1557.0 888.3 L1558.0 888.2 L1559.0 888.0 L1560.0 887.8 L1561.0 887.6 L1562.0 887.4 L1563.0 887.2 L1564.0 886.9 L1565.0 886.7 L1566.0 886.4 L1567.0 886.0 L1568.0 885.7 L1569.0 885.3 L1570.0 884.9 L1571.0 884.5 L1572.0 884.1 L1573.0 883.6 L1574.0 883.1 L1575.0 882.5 L1576.0 881.9 L1577.0 881.3 L1578.0 880.6 L1579.0 879.9 L1580.0 879.1 L1581.0 878.3 L1582.0 877.4 L1583.0 876.5 L1584.0 875.5 L1585.0 874.5 L1586.0 873.4 L1587.0 872.2 L1588.0 871.0 L1589.0 869.7 L1590.0 868.4 L1591.0 866.9 L1592.0 865.4 L1593.0 863.8 L1594.0 862.2 L1595.0 860.4 L1596.0 858.6 L1597.0 856.7 L1598.0 854.7 L1599.0 852.6 L1600.0 850.4 L1601.0 848.1 L1602.0 845.8 L1603.0 843.3 L1604.0 840.7 L1605.0 838.1 L1606.0 835.3 L1607.0 832.4 L1608.0 829.5 L1609.0 826.4 L1610.0 823.2 L1611.0 820.0 L1612.0 816.6 L1613.0 813.1 L1614.0 809.6 L1615.0 805.9 L1616.0 802.2 L1617.0 798.3 L1618.0 794.4 L1619.0 790.4 L1620.0 786.3 L1621.0 782.1 L1622.0 777.8 L1623.0 773.5 L1624.0 769.1 L1625.0 764.6 L1626.0 760.0 L1627.0 755.5 L1628.0 750.8 L1629.0 746.1 L1630.0 741.4 L1631.0 736.7 L1632.0 731.9 L1633.0 727.1 L1634.0 722.4 L1635.0 717.6 L1636.0 712.8 L1637.0 708.0 L1638.0 703.3 L1639.0 698.6 L1640.0 693.9 L1641.0 689.3 L1642.0 684.7 L1643.0 680.2 L1644.0 675.8 L1645.0 671.5 L1646.0 667.3 L1647.0 663.1 L1648.0 659.1 L1649.0 655.2 L1650.0 651.5 L1651.0 647.8 L1652.0 644.4 L1653.0 641.0 L1654.0 637.8 L1655.0 634.8 L1656.0 632.0 L1657.0 629.4 L1658.0 626.9 L1659.0 624.7 L1660.0 622.6 L1661.0 620.7 L1662.0 619.1 L1663.0 617.6 L1664.0 616.4 L1665.0 615.4 L1666.0 614.6 L1667.0 614.0 L1668.0 613.7 L1669.0 613.6 L1670.0 613.7 L1671.0 614.0 L1672.0 614.6 L1673.0 615.4 L1674.0 616.4 L1675.0 617.6 L1676.0 619.1 L1677.0 620.7 L1678.0 622.6 L1679.0 624.7 L1680.0 626.9 L1681.0 629.4 L1682.0 632.0 L1683.0 634.8 L1684.0 637.8 L1685.0 641.0 L1686.0 644.4 L1687.0 647.8 L1688.0 651.5 L1689.0 655.2 L1690.0 659.1 L1691.0 663.1 L1692.0 667.3 L1693.0 671.5 L1694.0 675.8 L1695.0 680.2 L1696.0 684.7 L1697.0 689.3 L1698.0 693.9 L1699.0 698.6 L1700.0 703.3 L1701.0 708.0 L1702.0 712.8 L1703.0 717.6 L1704.0 722.4 L1705.0 727.1 L1706.0 731.9 L1707.0 736.7 L1708.0 741.4 L1709.0 746.1 L1710.0 750.8 L1711.0 755.5 L1712.0 760.0 L1713.0 764.6 L1714.0 769.1 L1715.0 773.5 L1716.0 777.8 L1717.0 782.1 L1718.0 786.3 L1719.0 790.4 L1720.0 794.4 L1721.0 798.3 L1722.0 802.2 L1723.0 805.9 L1724.0 809.6 L1725.0 813.1 L1726.0 816.6 L1727.0 820.0 L1728.0 823.2 L1729.0 826.4 L1730.0 829.5 L1731.0 832.4 L1732.0 835.3 L1733.0 838.1 L1734.0 840.7 L1735.0 843.3 L1736.0 845.8 L1737.0 848.1 L1738.0 850.4 L1739.0 852.6 L1740.0 854.7 L1741.0 856.7 L1742.0 858.6 L1743.0 860.4 L1744.0 862.2 L1745.0 863.8 L1746.0 865.4 L1747.0 866.9 L1748.0 868.4 L1749.0 869.7 L1750.0 871.0 L1751.0 872.2 L1752.0 873.4 L1753.0 874.5 L1754.0 875.5 L1755.0 876.5 L1756.0 877.4 L1757.0 878.3 L1758.0 879.1 L1759.0 879.9 L1760.0 880.6 L1761.0 881.3 L1762.0 881.9 L1763.0 882.5 L1764.0 883.1 L1765.0 883.6 L1766.0 884.1 L1767.0 884.5 L1768.0 884.9 L1769.0 885.3 L1770.0 885.7 L1771.0 886.0 L1772.0 886.4 L1773.0 886.7 L1774.0 886.9 L1775.0 887.2 L1776.0 887.4 L1777.0 887.6 L1778.0 887.8 L1779.0 888.0 L1780.0 888.2 L1781.0 888.3 L1782.0 888.5 L1783.0 888.6 L1784.0 888.7 L1785.0 888.9 L1786.0 889.0 L1787.0 889.1 L1788.0 889.1 L1789.0 889.2 L1790.0 889.3 L1791.0 889.4 L1792.0 889.4 L1793.0 889.5 L1794.0 889.5 L1795.0 889.6 L1796.0 889.6 L1797.0 889.7 L1798.0 889.7 L1799.0 889.7 L1800.0 889.7 L1801.0 889.8 L1802.0 889.8 L1803.0 889.8 L1804.0 889.8 L1805.0 889.9 L1806.0 889.9 L1807.0 889.9 L1808.0 889.9 L1809.0 889.9 L1810.0 889.9 L1811.0 889.9 L1812.0 889.9 L1813.0 889.9 L1814.0 889.9 L1815.0 890.0 L1816.0 890.0 L1817.0 890.0 L1818.0 890.0 L1819.0 890.0 L1820.0 890.0 L1821.0 890.0 L1822.0 890.0 L1823.0 890.0 L1824.0 890.0 L1825.0 890.0 L1826.0 890.0 L1827.0 890.0 L1828.0 890.0 L1829.0 890.0 L1830.0 890.0 L1831.0 890.0 L1832.0 890.0 L1833.0 890.0 L1834.0 890.0 L1835.0 890.0 L1836.0 890.0 L1837.0 890.0 L1838.0 890.0 L1839.0 890.0 L1840.0 890.0 L1841.0 890.0 L1842.0 890.0 L1843.0 890.0 L1844.0 890.0 L1845.0 890.0 L1846.0 890.0 L1847.0 890.0 L1848.0 890.0 L1849.0 890.0 L1850.0 890.0 L1851.0 890.0 L1852.0 890.0 L1853.0 890.0 L1854.0 890.0 L1855.0 890.0 L1856.0 890.0 L1857.0 890.0 L1858.0 890.0 L1859.0 890.0 L1860.0 890.0 L1861.0 890.0 L1862.0 890.0 L1863.0 890.0 L1864.0 890.0 L1865.0 890.0 L1866.0 890.0 L1867.0 890.0 L1868.0 890.0 L1869.0 890.0 L1870.0 890.0 L1871.0 890.0 L1872.0 890.0 L1873.0 890.0 L1874.0 890.0 L1875.0 890.0 L1876.0 890.0 L1876 890 Z" fill="#5a5fe8" fill-opacity="0.75"/><path d="M1455 890 L1455.0 890.0 L1456.0 890.0 L1457.0 890.0 L1458.0 890.0 L1459.0 890.0 L1460.0 890.0 L1461.0 890.0 L1462.0 890.0 L1463.0 890.0 L1464.0 890.0 L1465.0 890.0 L1466.0 890.0 L1467.0 890.0 L1468.0 890.0 L1469.0 890.0 L1470.0 890.0 L1471.0 890.0 L1472.0 890.0 L1473.0 890.0 L1474.0 890.0 L1475.0 890.0 L1476.0 890.0 L1477.0 890.0 L1478.0 890.0 L1479.0 890.0 L1480.0 890.0 L1481.0 890.0 L1482.0 890.0 L1483.0 890.0 L1484.0 890.0 L1485.0 890.0 L1486.0 890.0 L1487.0 890.0 L1488.0 890.0 L1489.0 890.0 L1490.0 890.0 L1491.0 890.0 L1492.0 890.0 L1493.0 890.0 L1494.0 890.0 L1495.0 890.0 L1496.0 890.0 L1497.0 890.0 L1498.0 890.0 L1499.0 890.0 L1500.0 890.0 L1501.0 890.0 L1502.0 890.0 L1503.0 890.0 L1504.0 890.0 L1505.0 890.0 L1506.0 890.0 L1507.0 890.0 L1508.0 890.0 L1509.0 890.0 L1510.0 890.0 L1511.0 890.0 L1512.0 890.0 L1513.0 890.0 L1514.0 890.0 L1515.0 890.0 L1516.0 890.0 L1517.0 890.0 L1518.0 890.0 L1519.0 890.0 L1520.0 890.0 L1521.0 890.0 L1522.0 890.0 L1523.0 890.0 L1524.0 890.0 L1525.0 890.0 L1526.0 890.0 L1527.0 890.0 L1528.0 890.0 L1529.0 890.0 L1530.0 890.0 L1531.0 890.0 L1532.0 890.0 L1533.0 890.0 L1534.0 889.9 L1535.0 889.9 L1536.0 889.9 L1537.0 889.9 L1538.0 889.9 L1539.0 889.9 L1540.0 889.9 L1541.0 889.9 L1542.0 889.9 L1543.0 889.8 L1544.0 889.8 L1545.0 889.8 L1546.0 889.8 L1547.0 889.7 L1548.0 889.7 L1549.0 889.7 L1550.0 889.6 L1551.0 889.6 L1552.0 889.5 L1553.0 889.5 L1554.0 889.4 L1555.0 889.3 L1556.0 889.3 L1557.0 889.2 L1558.0 889.1 L1559.0 889.0 L1560.0 888.9 L1561.0 888.8 L1562.0 888.6 L1563.0 888.5 L1564.0 888.3 L1565.0 888.2 L1566.0 888.0 L1567.0 887.8 L1568.0 887.6 L1569.0 887.3 L1570.0 887.1 L1571.0 886.8 L1572.0 886.5 L1573.0 886.1 L1574.0 885.8 L1575.0 885.4 L1576.0 884.9 L1577.0 884.5 L1578.0 884.0 L1579.0 883.5 L1580.0 882.9 L1581.0 882.3 L1582.0 881.6 L1583.0 880.9 L1584.0 880.1 L1585.0 879.3 L1586.0 878.4 L1587.0 877.5 L1588.0 876.5 L1589.0 875.4 L1590.0 874.3 L1591.0 873.1 L1592.0 871.8 L1593.0 870.5 L1594.0 869.0 L1595.0 867.5 L1596.0 865.9 L1597.0 864.2 L1598.0 862.4 L1599.0 860.5 L1600.0 858.5 L1601.0 856.4 L1602.0 854.2 L1603.0 851.9 L1604.0 849.5 L1605.0 847.0 L1606.0 844.3 L1607.0 841.5 L1608.0 838.6 L1609.0 835.6 L1610.0 832.5 L1611.0 829.3 L1612.0 825.9 L1613.0 822.4 L1614.0 818.8 L1615.0 815.0 L1616.0 811.1 L1617.0 807.1 L1618.0 803.0 L1619.0 798.8 L1620.0 794.4 L1621.0 790.0 L1622.0 785.4 L1623.0 780.7 L1624.0 776.0 L1625.0 771.1 L1626.0 766.1 L1627.0 761.1 L1628.0 755.9 L1629.0 750.7 L1630.0 745.4 L1631.0 740.1 L1632.0 734.7 L1633.0 729.3 L1634.0 723.8 L1635.0 718.4 L1636.0 712.9 L1637.0 707.4 L1638.0 701.9 L1639.0 696.4 L1640.0 690.9 L1641.0 685.5 L1642.0 680.2 L1643.0 674.9 L1644.0 669.6 L1645.0 664.5 L1646.0 659.5 L1647.0 654.5 L1648.0 649.7 L1649.0 645.0 L1650.0 640.5 L1651.0 636.1 L1652.0 631.9 L1653.0 627.9 L1654.0 624.0 L1655.0 620.4 L1656.0 616.9 L1657.0 613.7 L1658.0 610.7 L1659.0 607.9 L1660.0 605.4 L1661.0 603.1 L1662.0 601.1 L1663.0 599.3 L1664.0 597.8 L1665.0 596.5 L1666.0 595.6 L1667.0 594.9 L1668.0 594.5 L1669.0 594.3 L1670.0 594.5 L1671.0 594.9 L1672.0 595.6 L1673.0 596.5 L1674.0 597.8 L1675.0 599.3 L1676.0 601.1 L1677.0 603.1 L1678.0 605.4 L1679.0 607.9 L1680.0 610.7 L1681.0 613.7 L1682.0 616.9 L1683.0 620.4 L1684.0 624.0 L1685.0 627.9 L1686.0 631.9 L1687.0 636.1 L1688.0 640.5 L1689.0 645.0 L1690.0 649.7 L1691.0 654.5 L1692.0 659.5 L1693.0 664.5 L1694.0 669.6 L1695.0 674.9 L1696.0 680.2 L1697.0 685.5 L1698.0 690.9 L1699.0 696.4 L1700.0 701.9 L1701.0 707.4 L1702.0 712.9 L1703.0 718.4 L1704.0 723.8 L1705.0 729.3 L1706.0 734.7 L1707.0 740.1 L1708.0 745.4 L1709.0 750.7 L1710.0 755.9 L1711.0 761.1 L1712.0 766.1 L1713.0 771.1 L1714.0 776.0 L1715.0 780.7 L1716.0 785.4 L1717.0 790.0 L1718.0 794.4 L1719.0 798.8 L1720.0 803.0 L1721.0 807.1 L1722.0 811.1 L1723.0 815.0 L1724.0 818.8 L1725.0 822.4 L1726.0 825.9 L1727.0 829.3 L1728.0 832.5 L1729.0 835.6 L1730.0 838.6 L1731.0 841.5 L1732.0 844.3 L1733.0 847.0 L1734.0 849.5 L1735.0 851.9 L1736.0 854.2 L1737.0 856.4 L1738.0 858.5 L1739.0 860.5 L1740.0 862.4 L1741.0 864.2 L1742.0 865.9 L1743.0 867.5 L1744.0 869.0 L1745.0 870.5 L1746.0 871.8 L1747.0 873.1 L1748.0 874.3 L1749.0 875.4 L1750.0 876.5 L1751.0 877.5 L1752.0 878.4 L1753.0 879.3 L1754.0 880.1 L1755.0 880.9 L1756.0 881.6 L1757.0 882.3 L1758.0 882.9 L1759.0 883.5 L1760.0 884.0 L1761.0 884.5 L1762.0 884.9 L1763.0 885.4 L1764.0 885.8 L1765.0 886.1 L1766.0 886.5 L1767.0 886.8 L1768.0 887.1 L1769.0 887.3 L1770.0 887.6 L1771.0 887.8 L1772.0 888.0 L1773.0 888.2 L1774.0 888.3 L1775.0 888.5 L1776.0 888.6 L1777.0 888.8 L1778.0 888.9 L1779.0 889.0 L1780.0 889.1 L1781.0 889.2 L1782.0 889.3 L1783.0 889.3 L1784.0 889.4 L1785.0 889.5 L1786.0 889.5 L1787.0 889.6 L1788.0 889.6 L1789.0 889.7 L1790.0 889.7 L1791.0 889.7 L1792.0 889.8 L1793.0 889.8 L1794.0 889.8 L1795.0 889.8 L1796.0 889.9 L1797.0 889.9 L1798.0 889.9 L1799.0 889.9 L1800.0 889.9 L1801.0 889.9 L1802.0 889.9 L1803.0 889.9 L1804.0 889.9 L1805.0 890.0 L1806.0 890.0 L1807.0 890.0 L1808.0 890.0 L1809.0 890.0 L1810.0 890.0 L1811.0 890.0 L1812.0 890.0 L1813.0 890.0 L1814.0 890.0 L1815.0 890.0 L1816.0 890.0 L1817.0 890.0 L1818.0 890.0 L1819.0 890.0 L1820.0 890.0 L1821.0 890.0 L1822.0 890.0 L1823.0 890.0 L1824.0 890.0 L1825.0 890.0 L1826.0 890.0 L1827.0 890.0 L1828.0 890.0 L1829.0 890.0 L1830.0 890.0 L1831.0 890.0 L1832.0 890.0 L1833.0 890.0 L1834.0 890.0 L1835.0 890.0 L1836.0 890.0 L1837.0 890.0 L1838.0 890.0 L1839.0 890.0 L1840.0 890.0 L1841.0 890.0 L1842.0 890.0 L1843.0 890.0 L1844.0 890.0 L1845.0 890.0 L1846.0 890.0 L1847.0 890.0 L1848.0 890.0 L1849.0 890.0 L1850.0 890.0 L1851.0 890.0 L1852.0 890.0 L1853.0 890.0 L1854.0 890.0 L1855.0 890.0 L1856.0 890.0 L1857.0 890.0 L1858.0 890.0 L1859.0 890.0 L1860.0 890.0 L1861.0 890.0 L1862.0 890.0 L1863.0 890.0 L1864.0 890.0 L1865.0 890.0 L1866.0 890.0 L1867.0 890.0 L1868.0 890.0 L1869.0 890.0 L1870.0 890.0 L1871.0 890.0 L1872.0 890.0 L1873.0 890.0 L1874.0 890.0 L1875.0 890.0 L1876.0 890.0 L1876 890 Z" fill="#4da54d" fill-opacity="0.75"/><path d="M1455 890 L1455.0 890.0 L1456.0 890.0 L1457.0 890.0 L1458.0 890.0 L1459.0 890.0 L1460.0 890.0 L1461.0 890.0 L1462.0 890.0 L1463.0 890.0 L1464.0 890.0 L1465.0 890.0 L1466.0 890.0 L1467.0 890.0 L1468.0 890.0 L1469.0 890.0 L1470.0 890.0 L1471.0 890.0 L1472.0 890.0 L1473.0 890.0 L1474.0 890.0 L1475.0 890.0 L1476.0 890.0 L1477.0 890.0 L1478.0 890.0 L1479.0 890.0 L1480.0 890.0 L1481.0 890.0 L1482.0 890.0 L1483.0 890.0 L1484.0 890.0 L1485.0 890.0 L1486.0 890.0 L1487.0 890.0 L1488.0 890.0 L1489.0 890.0 L1490.0 890.0 L1491.0 890.0 L1492.0 890.0 L1493.0 890.0 L1494.0 890.0 L1495.0 890.0 L1496.0 890.0 L1497.0 890.0 L1498.0 890.0 L1499.0 890.0 L1500.0 890.0 L1501.0 890.0 L1502.0 890.0 L1503.0 890.0 L1504.0 890.0 L1505.0 890.0 L1506.0 890.0 L1507.0 890.0 L1508.0 890.0 L1509.0 890.0 L1510.0 890.0 L1511.0 890.0 L1512.0 890.0 L1513.0 890.0 L1514.0 890.0 L1515.0 890.0 L1516.0 890.0 L1517.0 890.0 L1518.0 890.0 L1519.0 890.0 L1520.0 890.0 L1521.0 890.0 L1522.0 890.0 L1523.0 890.0 L1524.0 890.0 L1525.0 890.0 L1526.0 890.0 L1527.0 890.0 L1528.0 890.0 L1529.0 890.0 L1530.0 890.0 L1531.0 890.0 L1532.0 890.0 L1533.0 890.0 L1534.0 889.9 L1535.0 889.9 L1536.0 889.9 L1537.0 889.9 L1538.0 889.9 L1539.0 889.9 L1540.0 889.9 L1541.0 889.9 L1542.0 889.9 L1543.0 889.8 L1544.0 889.8 L1545.0 889.8 L1546.0 889.8 L1547.0 889.7 L1548.0 889.7 L1549.0 889.7 L1550.0 889.6 L1551.0 889.6 L1552.0 889.5 L1553.0 889.5 L1554.0 889.4 L1555.0 889.3 L1556.0 889.3 L1557.0 889.2 L1558.0 889.1 L1559.0 889.0 L1560.0 888.9 L1561.0 888.8 L1562.0 888.6 L1563.0 888.5 L1564.0 888.3 L1565.0 888.2 L1566.0 888.0 L1567.0 887.8 L1568.0 887.6 L1569.0 887.3 L1570.0 887.1 L1571.0 886.8 L1572.0 886.5 L1573.0 886.1 L1574.0 885.8 L1575.0 885.4 L1576.0 884.9 L1577.0 884.5 L1578.0 884.0 L1579.0 883.5 L1580.0 882.9 L1581.0 882.3 L1582.0 881.6 L1583.0 880.9 L1584.0 880.1 L1585.0 879.3 L1586.0 878.4 L1587.0 877.5 L1588.0 876.5 L1589.0 875.4 L1590.0 874.3 L1591.0 873.1 L1592.0 871.8 L1593.0 870.5 L1594.0 869.0 L1595.0 867.5 L1596.0 865.9 L1597.0 864.2 L1598.0 862.4 L1599.0 860.5 L1600.0 858.5 L1601.0 856.4 L1602.0 854.2 L1603.0 851.9 L1604.0 849.5 L1605.0 847.0 L1606.0 844.3 L1607.0 841.5 L1608.0 838.6 L1609.0 835.6 L1610.0 832.5 L1611.0 829.3 L1612.0 825.9 L1613.0 822.4 L1614.0 818.8 L1615.0 815.0 L1616.0 811.1 L1617.0 807.1 L1618.0 803.0 L1619.0 798.8 L1620.0 794.4 L1621.0 790.0 L1622.0 785.4 L1623.0 780.7 L1624.0 776.0 L1625.0 771.1 L1626.0 766.1 L1627.0 761.1 L1628.0 755.9 L1629.0 750.7 L1630.0 745.4 L1631.0 740.1 L1632.0 734.7 L1633.0 729.3 L1634.0 723.8 L1635.0 718.4 L1636.0 712.9 L1637.0 708.0 L1638.0 703.3 L1639.0 698.6 L1640.0 693.9 L1641.0 689.3 L1642.0 684.7 L1643.0 680.2 L1644.0 675.8 L1645.0 671.5 L1646.0 667.3 L1647.0 663.1 L1648.0 659.1 L1649.0 655.2 L1650.0 651.5 L1651.0 647.8 L1652.0 644.4 L1653.0 641.0 L1654.0 637.8 L1655.0 634.8 L1656.0 632.0 L1657.0 629.4 L1658.0 626.9 L1659.0 624.7 L1660.0 622.6 L1661.0 620.7 L1662.0 619.1 L1663.0 617.6 L1664.0 616.4 L1665.0 615.4 L1666.0 614.6 L1667.0 614.0 L1668.0 613.7 L1669.0 613.6 L1670.0 613.7 L1671.0 614.0 L1672.0 614.6 L1673.0 615.4 L1674.0 616.4 L1675.0 617.6 L1676.0 619.1 L1677.0 620.7 L1678.0 622.6 L1679.0 624.7 L1680.0 626.9 L1681.0 629.4 L1682.0 632.0 L1683.0 634.8 L1684.0 637.8 L1685.0 641.0 L1686.0 644.4 L1687.0 647.8 L1688.0 651.5 L1689.0 655.2 L1690.0 659.1 L1691.0 663.1 L1692.0 667.3 L1693.0 671.5 L1694.0 675.8 L1695.0 680.2 L1696.0 684.7 L1697.0 689.3 L1698.0 693.9 L1699.0 698.6 L1700.0 703.3 L1701.0 708.0 L1702.0 712.9 L1703.0 718.4 L1704.0 723.8 L1705.0 729.3 L1706.0 734.7 L1707.0 740.1 L1708.0 745.4 L1709.0 750.7 L1710.0 755.9 L1711.0 761.1 L1712.0 766.1 L1713.0 771.1 L1714.0 776.0 L1715.0 780.7 L1716.0 785.4 L1717.0 790.0 L1718.0 794.4 L1719.0 798.8 L1720.0 803.0 L1721.0 807.1 L1722.0 811.1 L1723.0 815.0 L1724.0 818.8 L1725.0 822.4 L1726.0 825.9 L1727.0 829.3 L1728.0 832.5 L1729.0 835.6 L1730.0 838.6 L1731.0 841.5 L1732.0 844.3 L1733.0 847.0 L1734.0 849.5 L1735.0 851.9 L1736.0 854.2 L1737.0 856.4 L1738.0 858.5 L1739.0 860.5 L1740.0 862.4 L1741.0 864.2 L1742.0 865.9 L1743.0 867.5 L1744.0 869.0 L1745.0 870.5 L1746.0 871.8 L1747.0 873.1 L1748.0 874.3 L1749.0 875.4 L1750.0 876.5 L1751.0 877.5 L1752.0 878.4 L1753.0 879.3 L1754.0 880.1 L1755.0 880.9 L1756.0 881.6 L1757.0 882.3 L1758.0 882.9 L1759.0 883.5 L1760.0 884.0 L1761.0 884.5 L1762.0 884.9 L1763.0 885.4 L1764.0 885.8 L1765.0 886.1 L1766.0 886.5 L1767.0 886.8 L1768.0 887.1 L1769.0 887.3 L1770.0 887.6 L1771.0 887.8 L1772.0 888.0 L1773.0 888.2 L1774.0 888.3 L1775.0 888.5 L1776.0 888.6 L1777.0 888.8 L1778.0 888.9 L1779.0 889.0 L1780.0 889.1 L1781.0 889.2 L1782.0 889.3 L1783.0 889.3 L1784.0 889.4 L1785.0 889.5 L1786.0 889.5 L1787.0 889.6 L1788.0 889.6 L1789.0 889.7 L1790.0 889.7 L1791.0 889.7 L1792.0 889.8 L1793.0 889.8 L1794.0 889.8 L1795.0 889.8 L1796.0 889.9 L1797.0 889.9 L1798.0 889.9 L1799.0 889.9 L1800.0 889.9 L1801.0 889.9 L1802.0 889.9 L1803.0 889.9 L1804.0 889.9 L1805.0 890.0 L1806.0 890.0 L1807.0 890.0 L1808.0 890.0 L1809.0 890.0 L1810.0 890.0 L1811.0 890.0 L1812.0 890.0 L1813.0 890.0 L1814.0 890.0 L1815.0 890.0 L1816.0 890.0 L1817.0 890.0 L1818.0 890.0 L1819.0 890.0 L1820.0 890.0 L1821.0 890.0 L1822.0 890.0 L1823.0 890.0 L1824.0 890.0 L1825.0 890.0 L1826.0 890.0 L1827.0 890.0 L1828.0 890.0 L1829.0 890.0 L1830.0 890.0 L1831.0 890.0 L1832.0 890.0 L1833.0 890.0 L1834.0 890.0 L1835.0 890.0 L1836.0 890.0 L1837.0 890.0 L1838.0 890.0 L1839.0 890.0 L1840.0 890.0 L1841.0 890.0 L1842.0 890.0 L1843.0 890.0 L1844.0 890.0 L1845.0 890.0 L1846.0 890.0 L1847.0 890.0 L1848.0 890.0 L1849.0 890.0 L1850.0 890.0 L1851.0 890.0 L1852.0 890.0 L1853.0 890.0 L1854.0 890.0 L1855.0 890.0 L1856.0 890.0 L1857.0 890.0 L1858.0 890.0 L1859.0 890.0 L1860.0 890.0 L1861.0 890.0 L1862.0 890.0 L1863.0 890.0 L1864.0 890.0 L1865.0 890.0 L1866.0 890.0 L1867.0 890.0 L1868.0 890.0 L1869.0 890.0 L1870.0 890.0 L1871.0 890.0 L1872.0 890.0 L1873.0 890.0 L1874.0 890.0 L1875.0 890.0 L1876.0 890.0 L1876 890 Z" fill="#3b7c88"/><path d="M1567.8 890 V885.8 M1572.4 890 V883.9 M1577.0 890 V881.3 M1581.6 890 V877.8 M1586.2 890 V873.2 M1590.8 890 V867.2 M1595.4 890 V859.7 M1600.0 890 V850.4 M1604.6 890 V839.1 M1609.2 890 V825.8 M1613.8 890 V810.3 M1618.4 890 V792.8 M1623.0 890 V773.5 M1627.6 890 V752.7 M1632.2 890 V731.0 M1636.8 890 V709.0 M1641.4 890 V687.5 M1646.0 890 V667.3 M1650.6 890 V649.3 M1655.2 890 V634.3 M1659.8 890 V623.0 M1664.4 890 V616.0 M1669.0 890 V613.6 M1673.6 890 V616.0 M1678.2 890 V623.0 M1682.8 890 V634.3 M1687.4 890 V649.3 M1692.0 890 V667.3 M1696.6 890 V687.5 M1701.2 890 V709.0 M1705.8 890 V731.0 M1710.4 890 V752.7 M1715.0 890 V773.5 M1719.6 890 V792.8 M1724.2 890 V810.3 M1728.8 890 V825.8 M1733.4 890 V839.1 M1738.0 890 V850.4 M1742.6 890 V859.7 M1747.2 890 V867.2 M1751.8 890 V873.2 M1756.4 890 V877.8 M1761.0 890 V881.3 M1765.6 890 V883.9 M1770.2 890 V885.8 " stroke="#2f6a78" stroke-width="0.8" opacity="0.6"/><path d="M1567.8 890 V885.8 M1572.4 890 V883.9 M1577.0 890 V881.3 M1581.6 890 V877.8 M1586.2 890 V873.2 M1590.8 890 V867.2 M1595.4 890 V859.7 M1600.0 890 V850.4 M1604.6 890 V839.1 M1609.2 890 V825.8 M1613.8 890 V810.3 M1618.4 890 V792.8 M1623.0 890 V773.5 M1627.6 890 V752.7 M1632.2 890 V731.0 M1636.8 890 V709.0 M1641.4 890 V687.5 M1646.0 890 V667.3 M1650.6 890 V649.3 M1655.2 890 V634.3 M1659.8 890 V623.0 M1664.4 890 V616.0 M1669.0 890 V613.6 M1673.6 890 V616.0 M1678.2 890 V623.0 M1682.8 890 V634.3 M1687.4 890 V649.3 M1692.0 890 V667.3 M1696.6 890 V687.5 M1701.2 890 V709.0 M1705.8 890 V731.0 M1710.4 890 V752.7 M1715.0 890 V773.5 M1719.6 890 V792.8 M1724.2 890 V810.3 M1728.8 890 V825.8 M1733.4 890 V839.1 M1738.0 890 V850.4 M1742.6 890 V859.7 M1747.2 890 V867.2 M1751.8 890 V873.2 M1756.4 890 V877.8 M1761.0 890 V881.3 M1765.6 890 V883.9 M1770.2 890 V885.8 " stroke="#2f8a5a" stroke-width="0.6" opacity="0.25" transform="translate(2.3,0)"/><path d="M1545.0 889.5 L1546.0 889.4 L1547.0 889.4 L1548.0 889.3 L1549.0 889.2 L1550.0 889.1 L1551.0 889.1 L1552.0 889.0 L1553.0 888.9 L1554.0 888.7 L1555.0 888.6 L1556.0 888.5 L1557.0 888.3 L1558.0 888.2 L1559.0 888.0 L1560.0 887.8 L1561.0 887.6 L1562.0 887.4 L1563.0 887.2 L1564.0 886.9 L1565.0 886.7 L1566.0 886.4 L1567.0 886.0 L1568.0 885.7 L1569.0 885.3 L1570.0 884.9 L1571.0 884.5 L1572.0 884.1 L1573.0 883.6 L1574.0 883.1 L1575.0 882.5 L1576.0 881.9 L1577.0 881.3 L1578.0 880.6 L1579.0 879.9 L1580.0 879.1 L1581.0 878.3 L1582.0 877.4 L1583.0 876.5 L1584.0 875.5 L1585.0 874.5 L1586.0 873.4 L1587.0 872.2 L1588.0 871.0 L1589.0 869.7 L1590.0 868.4 L1591.0 866.9 L1592.0 865.4 L1593.0 863.8 L1594.0 862.2 L1595.0 860.4 L1596.0 858.6 L1597.0 856.7 L1598.0 854.7 L1599.0 852.6 L1600.0 850.4 L1601.0 848.1 L1602.0 845.8 L1603.0 843.3 L1604.0 840.7 L1605.0 838.1 L1606.0 835.3 L1607.0 832.4 L1608.0 829.5 L1609.0 826.4 L1610.0 823.2 L1611.0 820.0 L1612.0 816.6 L1613.0 813.1 L1614.0 809.6 L1615.0 805.9 L1616.0 802.2 L1617.0 798.3 L1618.0 794.4 L1619.0 790.4 L1620.0 786.3 L1621.0 782.1 L1622.0 777.8 L1623.0 773.5 L1624.0 769.1 L1625.0 764.6 L1626.0 760.0 L1627.0 755.5 L1628.0 750.8 L1629.0 746.1 L1630.0 741.4 L1631.0 736.7 L1632.0 731.9 L1633.0 727.1 L1634.0 722.4 L1635.0 717.6 L1636.0 712.8 L1637.0 708.0 L1638.0 703.3 L1639.0 698.6 L1640.0 693.9 L1641.0 689.3 L1642.0 684.7 L1643.0 680.2 L1644.0 675.8 L1645.0 671.5 L1646.0 667.3 L1647.0 663.1 L1648.0 659.1 L1649.0 655.2 L1650.0 651.5 L1651.0 647.8 L1652.0 644.4 L1653.0 641.0 L1654.0 637.8 L1655.0 634.8 L1656.0 632.0 L1657.0 629.4 L1658.0 626.9 L1659.0 624.7 L1660.0 622.6 L1661.0 620.7 L1662.0 619.1 L1663.0 617.6 L1664.0 616.4 L1665.0 615.4 L1666.0 614.6 L1667.0 614.0 L1668.0 613.7 L1669.0 613.6 L1670.0 613.7 L1671.0 614.0 L1672.0 614.6 L1673.0 615.4 L1674.0 616.4 L1675.0 617.6 L1676.0 619.1 L1677.0 620.7 L1678.0 622.6 L1679.0 624.7 L1680.0 626.9 L1681.0 629.4 L1682.0 632.0 L1683.0 634.8 L1684.0 637.8 L1685.0 641.0 L1686.0 644.4 L1687.0 647.8 L1688.0 651.5 L1689.0 655.2 L1690.0 659.1 L1691.0 663.1 L1692.0 667.3 L1693.0 671.5 L1694.0 675.8 L1695.0 680.2 L1696.0 684.7 L1697.0 689.3 L1698.0 693.9 L1699.0 698.6 L1700.0 703.3 L1701.0 708.0 L1702.0 712.8 L1703.0 717.6 L1704.0 722.4 L1705.0 727.1 L1706.0 731.9 L1707.0 736.7 L1708.0 741.4 L1709.0 746.1 L1710.0 750.8 L1711.0 755.5 L1712.0 760.0 L1713.0 764.6 L1714.0 769.1 L1715.0 773.5 L1716.0 777.8 L1717.0 782.1 L1718.0 786.3 L1719.0 790.4 L1720.0 794.4 L1721.0 798.3 L1722.0 802.2 L1723.0 805.9 L1724.0 809.6 L1725.0 813.1 L1726.0 816.6 L1727.0 820.0 L1728.0 823.2 L1729.0 826.4 L1730.0 829.5 L1731.0 832.4 L1732.0 835.3 L1733.0 838.1 L1734.0 840.7 L1735.0 843.3 L1736.0 845.8 L1737.0 848.1 L1738.0 850.4 L1739.0 852.6 L1740.0 854.7 L1741.0 856.7 L1742.0 858.6 L1743.0 860.4 L1744.0 862.2 L1745.0 863.8 L1746.0 865.4 L1747.0 866.9 L1748.0 868.4 L1749.0 869.7 L1750.0 871.0 L1751.0 872.2 L1752.0 873.4 L1753.0 874.5 L1754.0 875.5 L1755.0 876.5 L1756.0 877.4 L1757.0 878.3 L1758.0 879.1 L1759.0 879.9 L1760.0 880.6 L1761.0 881.3 L1762.0 881.9 L1763.0 882.5 L1764.0 883.1 L1765.0 883.6 L1766.0 884.1 L1767.0 884.5 L1768.0 884.9 L1769.0 885.3 L1770.0 885.7 L1771.0 886.0 L1772.0 886.4 L1773.0 886.7 L1774.0 886.9 L1775.0 887.2 L1776.0 887.4 L1777.0 887.6 L1778.0 887.8 L1779.0 888.0 L1780.0 888.2 L1781.0 888.3 L1782.0 888.5 L1783.0 888.6 L1784.0 888.7 L1785.0 888.9 L1786.0 889.0 L1787.0 889.1 L1788.0 889.1 L1789.0 889.2 L1790.0 889.3 L1791.0 889.4 L1792.0 889.4 L1793.0 889.5" fill="none" stroke="#1f77b4" stroke-width="3"/><path d="M1553.0 889.5 L1554.0 889.4 L1555.0 889.3 L1556.0 889.3 L1557.0 889.2 L1558.0 889.1 L1559.0 889.0 L1560.0 888.9 L1561.0 888.8 L1562.0 888.6 L1563.0 888.5 L1564.0 888.3 L1565.0 888.2 L1566.0 888.0 L1567.0 887.8 L1568.0 887.6 L1569.0 887.3 L1570.0 887.1 L1571.0 886.8 L1572.0 886.5 L1573.0 886.1 L1574.0 885.8 L1575.0 885.4 L1576.0 884.9 L1577.0 884.5 L1578.0 884.0 L1579.0 883.5 L1580.0 882.9 L1581.0 882.3 L1582.0 881.6 L1583.0 880.9 L1584.0 880.1 L1585.0 879.3 L1586.0 878.4 L1587.0 877.5 L1588.0 876.5 L1589.0 875.4 L1590.0 874.3 L1591.0 873.1 L1592.0 871.8 L1593.0 870.5 L1594.0 869.0 L1595.0 867.5 L1596.0 865.9 L1597.0 864.2 L1598.0 862.4 L1599.0 860.5 L1600.0 858.5 L1601.0 856.4 L1602.0 854.2 L1603.0 851.9 L1604.0 849.5 L1605.0 847.0 L1606.0 844.3 L1607.0 841.5 L1608.0 838.6 L1609.0 835.6 L1610.0 832.5 L1611.0 829.3 L1612.0 825.9 L1613.0 822.4 L1614.0 818.8 L1615.0 815.0 L1616.0 811.1 L1617.0 807.1 L1618.0 803.0 L1619.0 798.8 L1620.0 794.4 L1621.0 790.0 L1622.0 785.4 L1623.0 780.7 L1624.0 776.0 L1625.0 771.1 L1626.0 766.1 L1627.0 761.1 L1628.0 755.9 L1629.0 750.7 L1630.0 745.4 L1631.0 740.1 L1632.0 734.7 L1633.0 729.3 L1634.0 723.8 L1635.0 718.4 L1636.0 712.9 L1637.0 707.4 L1638.0 701.9 L1639.0 696.4 L1640.0 690.9 L1641.0 685.5 L1642.0 680.2 L1643.0 674.9 L1644.0 669.6 L1645.0 664.5 L1646.0 659.5 L1647.0 654.5 L1648.0 649.7 L1649.0 645.0 L1650.0 640.5 L1651.0 636.1 L1652.0 631.9 L1653.0 627.9 L1654.0 624.0 L1655.0 620.4 L1656.0 616.9 L1657.0 613.7 L1658.0 610.7 L1659.0 607.9 L1660.0 605.4 L1661.0 603.1 L1662.0 601.1 L1663.0 599.3 L1664.0 597.8 L1665.0 596.5 L1666.0 595.6 L1667.0 594.9 L1668.0 594.5 L1669.0 594.3 L1670.0 594.5 L1671.0 594.9 L1672.0 595.6 L1673.0 596.5 L1674.0 597.8 L1675.0 599.3 L1676.0 601.1 L1677.0 603.1 L1678.0 605.4 L1679.0 607.9 L1680.0 610.7 L1681.0 613.7 L1682.0 616.9 L1683.0 620.4 L1684.0 624.0 L1685.0 627.9 L1686.0 631.9 L1687.0 636.1 L1688.0 640.5 L1689.0 645.0 L1690.0 649.7 L1691.0 654.5 L1692.0 659.5 L1693.0 664.5 L1694.0 669.6 L1695.0 674.9 L1696.0 680.2 L1697.0 685.5 L1698.0 690.9 L1699.0 696.4 L1700.0 701.9 L1701.0 707.4 L1702.0 712.9 L1703.0 718.4 L1704.0 723.8 L1705.0 729.3 L1706.0 734.7 L1707.0 740.1 L1708.0 745.4 L1709.0 750.7 L1710.0 755.9 L1711.0 761.1 L1712.0 766.1 L1713.0 771.1 L1714.0 776.0 L1715.0 780.7 L1716.0 785.4 L1717.0 790.0 L1718.0 794.4 L1719.0 798.8 L1720.0 803.0 L1721.0 807.1 L1722.0 811.1 L1723.0 815.0 L1724.0 818.8 L1725.0 822.4 L1726.0 825.9 L1727.0 829.3 L1728.0 832.5 L1729.0 835.6 L1730.0 838.6 L1731.0 841.5 L1732.0 844.3 L1733.0 847.0 L1734.0 849.5 L1735.0 851.9 L1736.0 854.2 L1737.0 856.4 L1738.0 858.5 L1739.0 860.5 L1740.0 862.4 L1741.0 864.2 L1742.0 865.9 L1743.0 867.5 L1744.0 869.0 L1745.0 870.5 L1746.0 871.8 L1747.0 873.1 L1748.0 874.3 L1749.0 875.4 L1750.0 876.5 L1751.0 877.5 L1752.0 878.4 L1753.0 879.3 L1754.0 880.1 L1755.0 880.9 L1756.0 881.6 L1757.0 882.3 L1758.0 882.9 L1759.0 883.5 L1760.0 884.0 L1761.0 884.5 L1762.0 884.9 L1763.0 885.4 L1764.0 885.8 L1765.0 886.1 L1766.0 886.5 L1767.0 886.8 L1768.0 887.1 L1769.0 887.3 L1770.0 887.6 L1771.0 887.8 L1772.0 888.0 L1773.0 888.2 L1774.0 888.3 L1775.0 888.5 L1776.0 888.6 L1777.0 888.8 L1778.0 888.9 L1779.0 889.0 L1780.0 889.1 L1781.0 889.2 L1782.0 889.3 L1783.0 889.3 L1784.0 889.4 L1785.0 889.5" fill="none" stroke="#ff7f0e" stroke-width="2.6"/><rect x="1455" y="577" width="421" height="313" fill="none" stroke="#222" stroke-width="1.6"/><path d="M1450 890.0 H1455" stroke="#222" stroke-width="1.3"/><text x="1446" y="896.0" text-anchor="end" font-family='Liberation Sans' font-size="17.5" fill="#222">0</text><path d="M1450 825.7 H1455" stroke="#222" stroke-width="1.3"/><text x="1446" y="831.7" text-anchor="end" font-family='Liberation Sans' font-size="17.5" fill="#222">200</text><path d="M1450 761.4 H1455" stroke="#222" stroke-width="1.3"/><text x="1446" y="767.4" text-anchor="end" font-family='Liberation Sans' font-size="17.5" fill="#222">400</text><path d="M1450 697.1 H1455" stroke="#222" stroke-width="1.3"/><text x="1446" y="703.1" text-anchor="end" font-family='Liberation Sans' font-size="17.5" fill="#222">600</text><path d="M1450 632.8 H1455" stroke="#222" stroke-width="1.3"/><text x="1446" y="638.8" text-anchor="end" font-family='Liberation Sans' font-size="17.5" fill="#222">800</text><path d="M1522.0 890 V895" stroke="#222" stroke-width="1.3"/><text x="1522.0" y="910" text-anchor="middle" font-family='Liberation Sans' font-size="17.5" fill="#222">−0.002</text><path d="M1595.4 890 V895" stroke="#222" stroke-width="1.3"/><text x="1595.4" y="910" text-anchor="middle" font-family='Liberation Sans' font-size="17.5" fill="#222">−0.001</text><path d="M1668.8 890 V895" stroke="#222" stroke-width="1.3"/><text x="1668.8" y="910" text-anchor="middle" font-family='Liberation Sans' font-size="17.5" fill="#222">0.000</text><path d="M1742.2 890 V895" stroke="#222" stroke-width="1.3"/><text x="1742.2" y="910" text-anchor="middle" font-family='Liberation Sans' font-size="17.5" fill="#222">0.001</text><path d="M1815.6 890 V895" stroke="#222" stroke-width="1.3"/><text x="1815.6" y="910" text-anchor="middle" font-family='Liberation Sans' font-size="17.5" fill="#222">0.002</text><text x="1664" y="571" text-anchor="middle" font-family='Liberation Sans' font-size="17.5" fill="#222">Layer 21</text><rect x="1462" y="584" width="185" height="86" rx="3" fill="#fff" fill-opacity="0.85" stroke="#ddd" stroke-width="1"/><path d="M1467 595 H1493" stroke="#1f77b4" stroke-width="2.2"/><path d="M1467 616 H1493" stroke="#ff7f0e" stroke-width="2.2"/><rect x="1467" y="632" width="26" height="8" fill="#7d7df5"/><rect x="1467" y="652" width="26" height="8" fill="#77b777"/><text x="1503" y="600" font-family='Liberation Sans' font-size="14.3" fill="#333">Gaussian (fit on Δ<tspan font-style="italic">W<tspan font-size="9" dy="3">q</tspan></tspan><tspan dy="-3">)</tspan></text><text x="1503" y="621" font-family='Liberation Sans' font-size="14.3" fill="#333">Gaussian (fit on Δ<tspan font-style="italic">W<tspan font-size="9" dy="3">v</tspan></tspan><tspan dy="-3">)</tspan></text><text x="1503" y="641" font-family='Liberation Sans' font-size="14.3" fill="#333">Δ<tspan font-style="italic">W<tspan font-size="9" dy="3">q</tspan></tspan></text><text x="1503" y="661" font-family='Liberation Sans' font-size="14.3" fill="#333">Δ<tspan font-style="italic">W<tspan font-size="9" dy="3">v</tspan></tspan></text></svg>
<svg style="left:0;top:0" width="4608" height="1000"><rect x="1989.0" y="627.5" width="9" height="248.5" fill="#1f77b4" stroke="#111" stroke-width="1.1"/><rect x="1998.0" y="643.7" width="9" height="232.3" fill="#ff7f0e" stroke="#111" stroke-width="1.1"/><rect x="2013.6" y="674.0" width="9" height="202.0" fill="#1f77b4" stroke="#111" stroke-width="1.1"/><rect x="2022.6" y="647.7" width="9" height="228.3" fill="#ff7f0e" stroke="#111" stroke-width="1.1"/><rect x="2038.2" y="657.8" width="9" height="218.2" fill="#1f77b4" stroke="#111" stroke-width="1.1"/><rect x="2047.2" y="653.8" width="9" height="222.2" fill="#ff7f0e" stroke="#111" stroke-width="1.1"/><rect x="2062.8" y="643.7" width="9" height="232.3" fill="#1f77b4" stroke="#111" stroke-width="1.1"/><rect x="2071.8" y="607.3" width="9" height="268.7" fill="#ff7f0e" stroke="#111" stroke-width="1.1"/><rect x="2087.4" y="627.5" width="9" height="248.5" fill="#1f77b4" stroke="#111" stroke-width="1.1"/><rect x="2096.4" y="639.7" width="9" height="236.3" fill="#ff7f0e" stroke="#111" stroke-width="1.1"/><rect x="2112.0" y="601.3" width="9" height="274.7" fill="#1f77b4" stroke="#111" stroke-width="1.1"/><rect x="2121.0" y="637.6" width="9" height="238.4" fill="#ff7f0e" stroke="#111" stroke-width="1.1"/><rect x="2136.6" y="633.6" width="9" height="242.4" fill="#1f77b4" stroke="#111" stroke-width="1.1"/><rect x="2145.6" y="635.6" width="9" height="240.4" fill="#ff7f0e" stroke="#111" stroke-width="1.1"/><rect x="2161.2" y="605.3" width="9" height="270.7" fill="#1f77b4" stroke="#111" stroke-width="1.1"/><rect x="2170.2" y="635.6" width="9" height="240.4" fill="#ff7f0e" stroke="#111" stroke-width="1.1"/><rect x="2185.8" y="676.0" width="9" height="200.0" fill="#1f77b4" stroke="#111" stroke-width="1.1"/><rect x="2194.8" y="639.7" width="9" height="236.3" fill="#ff7f0e" stroke="#111" stroke-width="1.1"/><rect x="2210.4" y="665.9" width="9" height="210.1" fill="#1f77b4" stroke="#111" stroke-width="1.1"/><rect x="2219.4" y="635.6" width="9" height="240.4" fill="#ff7f0e" stroke="#111" stroke-width="1.1"/><rect x="2235.0" y="611.4" width="9" height="264.6" fill="#1f77b4" stroke="#111" stroke-width="1.1"/><rect x="2244.0" y="643.7" width="9" height="232.3" fill="#ff7f0e" stroke="#111" stroke-width="1.1"/><rect x="2259.6" y="688.1" width="9" height="187.9" fill="#1f77b4" stroke="#111" stroke-width="1.1"/><rect x="2268.6" y="635.6" width="9" height="240.4" fill="#ff7f0e" stroke="#111" stroke-width="1.1"/><rect x="2284.2" y="615.4" width="9" height="260.6" fill="#1f77b4" stroke="#111" stroke-width="1.1"/><rect x="2293.2" y="631.6" width="9" height="244.4" fill="#ff7f0e" stroke="#111" stroke-width="1.1"/><rect x="2308.8" y="643.7" width="9" height="232.3" fill="#1f77b4" stroke="#111" stroke-width="1.1"/><rect x="2317.8" y="593.2" width="9" height="282.8" fill="#ff7f0e" stroke="#111" stroke-width="1.1"/><rect x="2333.4" y="649.8" width="9" height="226.2" fill="#1f77b4" stroke="#111" stroke-width="1.1"/><rect x="2342.4" y="609.4" width="9" height="266.6" fill="#ff7f0e" stroke="#111" stroke-width="1.1"/><rect x="2358.0" y="645.7" width="9" height="230.3" fill="#1f77b4" stroke="#111" stroke-width="1.1"/><rect x="2367.0" y="641.7" width="9" height="234.3" fill="#ff7f0e" stroke="#111" stroke-width="1.1"/><rect x="1971" y="573" width="424" height="303" fill="none" stroke="#222" stroke-width="1.5"/><path d="M1967 573.0 H1971" stroke="#222" stroke-width="1.2"/><text x="1965" y="578.0" text-anchor="end" font-family='Liberation Sans' font-size="14.5" fill="#333">1.00</text><path d="M1967 613.4 H1971" stroke="#222" stroke-width="1.2"/><text x="1965" y="618.4" text-anchor="end" font-family='Liberation Sans' font-size="14.5" fill="#333">0.98</text><path d="M1967 653.8 H1971" stroke="#222" stroke-width="1.2"/><text x="1965" y="658.8" text-anchor="end" font-family='Liberation Sans' font-size="14.5" fill="#333">0.96</text><path d="M1967 694.2 H1971" stroke="#222" stroke-width="1.2"/><text x="1965" y="699.2" text-anchor="end" font-family='Liberation Sans' font-size="14.5" fill="#333">0.94</text><path d="M1967 734.6 H1971" stroke="#222" stroke-width="1.2"/><text x="1965" y="739.6" text-anchor="end" font-family='Liberation Sans' font-size="14.5" fill="#333">0.92</text><path d="M1967 775.0 H1971" stroke="#222" stroke-width="1.2"/><text x="1965" y="780.0" text-anchor="end" font-family='Liberation Sans' font-size="14.5" fill="#333">0.90</text><path d="M1967 815.4 H1971" stroke="#222" stroke-width="1.2"/><text x="1965" y="820.4" text-anchor="end" font-family='Liberation Sans' font-size="14.5" fill="#333">0.88</text><path d="M1967 855.8 H1971" stroke="#222" stroke-width="1.2"/><text x="1965" y="860.8" text-anchor="end" font-family='Liberation Sans' font-size="14.5" fill="#333">0.86</text><path d="M1998.0 876 V880" stroke="#222" stroke-width="1.2"/><text x="1998.0" y="892" text-anchor="middle" font-family='Liberation Sans' font-size="14.5" fill="#333">1</text><path d="M2022.6 876 V880" stroke="#222" stroke-width="1.2"/><text x="2022.6" y="892" text-anchor="middle" font-family='Liberation Sans' font-size="14.5" fill="#333">3</text><path d="M2047.2 876 V880" stroke="#222" stroke-width="1.2"/><text x="2047.2" y="892" text-anchor="middle" font-family='Liberation Sans' font-size="14.5" fill="#333">5</text><path d="M2071.8 876 V880" stroke="#222" stroke-width="1.2"/><text x="2071.8" y="892" text-anchor="middle" font-family='Liberation Sans' font-size="14.5" fill="#333">7</text><path d="M2096.4 876 V880" stroke="#222" stroke-width="1.2"/><text x="2096.4" y="892" text-anchor="middle" font-family='Liberation Sans' font-size="14.5" fill="#333">9</text><path d="M2121.0 876 V880" stroke="#222" stroke-width="1.2"/><text x="2121.0" y="892" text-anchor="middle" font-family='Liberation Sans' font-size="14.5" fill="#333">11</text><path d="M2145.6 876 V880" stroke="#222" stroke-width="1.2"/><text x="2145.6" y="892" text-anchor="middle" font-family='Liberation Sans' font-size="14.5" fill="#333">13</text><path d="M2170.2 876 V880" stroke="#222" stroke-width="1.2"/><text x="2170.2" y="892" text-anchor="middle" font-family='Liberation Sans' font-size="14.5" fill="#333">15</text><path d="M2194.8 876 V880" stroke="#222" stroke-width="1.2"/><text x="2194.8" y="892" text-anchor="middle" font-family='Liberation Sans' font-size="14.5" fill="#333">17</text><path d="M2219.4 876 V880" stroke="#222" stroke-width="1.2"/><text x="2219.4" y="892" text-anchor="middle" font-family='Liberation Sans' font-size="14.5" fill="#333">19</text><path d="M2244.0 876 V880" stroke="#222" stroke-width="1.2"/><text x="2244.0" y="892" text-anchor="middle" font-family='Liberation Sans' font-size="14.5" fill="#333">21</text><path d="M2268.6 876 V880" stroke="#222" stroke-width="1.2"/><text x="2268.6" y="892" text-anchor="middle" font-family='Liberation Sans' font-size="14.5" fill="#333">23</text><path d="M2293.2 876 V880" stroke="#222" stroke-width="1.2"/><text x="2293.2" y="892" text-anchor="middle" font-family='Liberation Sans' font-size="14.5" fill="#333">25</text><path d="M2317.8 876 V880" stroke="#222" stroke-width="1.2"/><text x="2317.8" y="892" text-anchor="middle" font-family='Liberation Sans' font-size="14.5" fill="#333">27</text><path d="M2342.4 876 V880" stroke="#222" stroke-width="1.2"/><text x="2342.4" y="892" text-anchor="middle" font-family='Liberation Sans' font-size="14.5" fill="#333">29</text><path d="M2367.0 876 V880" stroke="#222" stroke-width="1.2"/><text x="2367.0" y="892" text-anchor="middle" font-family='Liberation Sans' font-size="14.5" fill="#333">31</text><text x="2184" y="908" text-anchor="middle" font-family='Liberation Sans' font-size="14" fill="#444">Transformer Layer</text><text x="2184" y="569" text-anchor="middle" font-family='Liberation Sans' font-size="14" fill="#444">p-values</text><text transform="translate(1932 724) rotate(-90)" text-anchor="middle" font-family='Liberation Sans' font-size="14" fill="#444">p-value</text><rect x="1977" y="579" width="86" height="43" rx="3" fill="#fff" fill-opacity="0.85" stroke="#ddd" stroke-width="1"/><rect x="1982" y="586" width="26" height="9" fill="#1f77b4" stroke="#111" stroke-width="1.1"/><rect x="1982" y="604" width="26" height="9" fill="#ff7f0e" stroke="#111" stroke-width="1.1"/><text x="2018" y="596" font-family='Liberation Sans' font-size="14" fill="#444">Query</text><text x="2018" y="614" font-family='Liberation Sans' font-size="14" fill="#444">Value</text></svg>
<svg style="left:0;top:0" width="4608" height="1000"><path d="M2477.0 875 V687.8 H2481.1 V875 Z M2481.1 875 V820.6 H2485.1 V875 Z M2485.1 875 V833.0 H2489.2 V875 Z M2489.2 875 V842.7 H2493.2 V875 Z M2493.2 875 V846.8 H2497.3 V875 Z M2497.3 875 V852.5 H2501.3 V875 Z M2501.3 875 V854.7 H2505.4 V875 Z M2505.4 875 V856.0 H2509.4 V875 Z M2509.4 875 V858.9 H2513.5 V875 Z M2513.5 875 V858.9 H2517.5 V875 Z M2517.5 875 V862.1 H2521.6 V875 Z M2521.6 875 V863.4 H2525.6 V875 Z M2525.6 875 V864.5 H2529.7 V875 Z M2529.7 875 V864.4 H2533.7 V875 Z M2533.7 875 V866.3 H2537.8 V875 Z M2537.8 875 V866.4 H2541.8 V875 Z M2541.8 875 V866.7 H2545.9 V875 Z M2545.9 875 V867.4 H2549.9 V875 Z M2549.9 875 V867.4 H2554.0 V875 Z M2554.0 875 V867.7 H2558.0 V875 Z M2558.0 875 V868.7 H2562.1 V875 Z M2562.1 875 V869.1 H2566.1 V875 Z M2566.1 875 V869.4 H2570.2 V875 Z M2570.2 875 V869.2 H2574.2 V875 Z M2574.2 875 V869.4 H2578.3 V875 Z M2578.3 875 V869.9 H2582.3 V875 Z M2582.3 875 V870.0 H2586.4 V875 Z M2586.4 875 V870.2 H2590.4 V875 Z M2590.4 875 V870.7 H2594.5 V875 Z M2594.5 875 V871.0 H2598.5 V875 Z M2598.5 875 V870.7 H2602.6 V875 Z M2602.6 875 V870.9 H2606.6 V875 Z M2606.6 875 V871.3 H2610.7 V875 Z M2610.7 875 V871.8 H2614.7 V875 Z M2614.7 875 V871.5 H2618.8 V875 Z M2618.8 875 V871.8 H2622.8 V875 Z M2622.8 875 V872.0 H2626.9 V875 Z M2626.9 875 V872.4 H2630.9 V875 Z M2630.9 875 V872.5 H2635.0 V875 Z M2635.0 875 V872.7 H2639.0 V875 Z M2639.0 875 V872.9 H2643.1 V875 Z M2643.1 875 V873.1 H2647.1 V875 Z M2647.1 875 V873.5 H2651.2 V875 Z M2651.2 875 V873.5 H2655.2 V875 Z M2655.2 875 V873.8 H2659.3 V875 Z M2659.3 875 V874.1 H2663.3 V875 Z M2663.3 875 V874.3 H2667.4 V875 Z M2667.4 875 V874.5 H2671.4 V875 Z M2671.4 875 V874.7 H2675.5 V875 Z M2675.5 875 V874.9 H2679.5 V875 Z M2679.5 875 V875.0 H2683.6 V875 Z M2683.6 875 V875.0 H2687.6 V875 Z " fill="#1f77b4" fill-opacity="0.5"/><path d="M2477.0 875 V659.5 H2481.1 V875 Z M2481.1 875 V822.0 H2485.1 V875 Z M2485.1 875 V834.2 H2489.2 V875 Z M2489.2 875 V844.2 H2493.2 V875 Z M2493.2 875 V845.8 H2497.3 V875 Z M2497.3 875 V849.7 H2501.3 V875 Z M2501.3 875 V853.9 H2505.4 V875 Z M2505.4 875 V856.0 H2509.4 V875 Z M2509.4 875 V859.1 H2513.5 V875 Z M2513.5 875 V860.2 H2517.5 V875 Z M2517.5 875 V860.8 H2521.6 V875 Z M2521.6 875 V862.2 H2525.6 V875 Z M2525.6 875 V863.6 H2529.7 V875 Z M2529.7 875 V865.5 H2533.7 V875 Z M2533.7 875 V866.2 H2537.8 V875 Z M2537.8 875 V866.3 H2541.8 V875 Z M2541.8 875 V867.5 H2545.9 V875 Z M2545.9 875 V867.5 H2549.9 V875 Z M2549.9 875 V868.1 H2554.0 V875 Z M2554.0 875 V868.0 H2558.0 V875 Z M2558.0 875 V868.1 H2562.1 V875 Z M2562.1 875 V868.8 H2566.1 V875 Z M2566.1 875 V869.2 H2570.2 V875 Z M2570.2 875 V869.4 H2574.2 V875 Z M2574.2 875 V869.8 H2578.3 V875 Z M2578.3 875 V869.8 H2582.3 V875 Z M2582.3 875 V869.8 H2586.4 V875 Z M2586.4 875 V870.3 H2590.4 V875 Z M2590.4 875 V870.3 H2594.5 V875 Z M2594.5 875 V870.4 H2598.5 V875 Z M2598.5 875 V870.7 H2602.6 V875 Z M2602.6 875 V871.3 H2606.6 V875 Z M2606.6 875 V871.4 H2610.7 V875 Z M2610.7 875 V871.7 H2614.7 V875 Z M2614.7 875 V871.9 H2618.8 V875 Z M2618.8 875 V872.1 H2622.8 V875 Z M2622.8 875 V872.0 H2626.9 V875 Z M2626.9 875 V872.4 H2630.9 V875 Z M2630.9 875 V872.6 H2635.0 V875 Z M2635.0 875 V872.9 H2639.0 V875 Z M2639.0 875 V872.9 H2643.1 V875 Z M2643.1 875 V873.3 H2647.1 V875 Z M2647.1 875 V873.5 H2651.2 V875 Z M2651.2 875 V873.6 H2655.2 V875 Z M2655.2 875 V873.9 H2659.3 V875 Z M2659.3 875 V874.0 H2663.3 V875 Z M2663.3 875 V874.3 H2667.4 V875 Z M2667.4 875 V874.5 H2671.4 V875 Z M2671.4 875 V874.7 H2675.5 V875 Z M2675.5 875 V874.9 H2679.5 V875 Z M2679.5 875 V875.0 H2683.6 V875 Z M2683.6 875 V875.0 H2687.6 V875 Z " fill="#ff7f0e" fill-opacity="0.5"/><rect x="2691.1" y="872" width="4" height="3" fill="#f0a060"/><rect x="2705.5" y="872" width="4" height="3" fill="#f0a060"/><rect x="2725.8" y="872" width="4" height="3" fill="#f0a060"/><rect x="2751.8" y="872" width="4" height="3" fill="#f0a060"/><rect x="2867.6" y="872" width="4" height="3" fill="#f0a060"/><path d="M2477.0 580.0 L2477.1 580.0 L2477.6 711.7 L2478.1 753.8 L2478.6 774.3 L2479.1 787.0 L2479.6 795.9 L2480.2 802.5 L2480.7 807.7 L2481.2 811.9 L2481.7 815.4 L2482.2 818.4 L2482.7 821.0 L2483.2 823.3 L2483.7 825.3 L2484.2 827.1 L2484.7 828.7 L2485.2 830.1 L2485.7 831.4 L2486.2 832.7 L2486.7 833.8 L2487.2 834.8 L2487.7 835.8 L2488.3 836.7 L2488.8 837.5 L2489.3 838.3 L2489.8 839.1 L2490.3 839.8 L2490.8 840.4 L2491.3 841.0 L2491.8 841.6 L2492.3 842.2 L2492.8 842.7 L2493.3 843.2 L2493.8 843.7 L2494.3 844.2 L2494.8 844.7 L2495.3 845.1 L2495.8 845.5 L2496.4 845.9 L2496.9 846.3 L2497.4 846.6 L2497.9 847.0 L2498.4 847.3 L2498.9 847.7 L2499.4 848.0 L2499.9 848.3 L2500.4 848.6 L2500.9 848.9 L2501.4 849.2 L2501.9 849.5 L2502.4 849.7 L2502.9 850.0 L2503.4 850.2 L2503.9 850.5 L2504.5 850.7 L2505.0 851.0 L2505.5 851.2 L2506.0 851.4 L2506.5 851.6 L2507.0 851.8 L2507.5 852.0 L2508.0 852.2 L2508.5 852.4 L2509.0 852.6 L2509.5 852.8 L2510.0 853.0 L2510.5 853.2 L2511.0 853.4 L2511.5 853.5 L2512.0 853.7 L2512.6 853.9 L2513.1 854.0 L2513.6 854.2 L2514.1 854.4 L2514.6 854.5 L2515.1 854.7 L2515.6 854.8 L2516.1 855.0 L2516.6 855.1 L2517.1 855.2 L2517.6 855.4 L2518.1 855.5 L2518.6 855.7 L2519.1 855.8 L2519.6 855.9 L2520.1 856.0 L2520.7 856.2 L2521.2 856.3 L2521.7 856.4 L2522.2 856.5 L2522.7 856.7 L2523.2 856.8 L2523.7 856.9 L2524.2 857.0 L2524.7 857.1 L2525.2 857.2 L2525.7 857.4 L2526.2 857.5 L2526.7 857.6 L2527.2 857.7 L2527.7 857.8 L2528.2 857.9 L2528.8 858.0 L2529.3 858.1 L2529.8 858.2 L2530.3 858.3 L2530.8 858.4 L2531.3 858.5 L2531.8 858.6 L2532.3 858.7 L2532.8 858.8 L2533.3 858.9 L2533.8 859.0 L2534.3 859.1 L2534.8 859.1 L2535.3 859.2 L2535.8 859.3 L2536.3 859.4 L2536.9 859.5 L2537.4 859.6 L2537.9 859.7 L2538.4 859.8 L2538.9 859.8 L2539.4 859.9 L2539.9 860.0 L2540.4 860.1 L2540.9 860.2 L2541.4 860.2 L2541.9 860.3 L2542.4 860.4 L2542.9 860.5 L2543.4 860.6 L2543.9 860.6 L2544.5 860.7 L2545.0 860.8 L2545.5 860.9 L2546.0 860.9 L2546.5 861.0 L2547.0 861.1 L2547.5 861.2 L2548.0 861.2 L2548.5 861.3 L2549.0 861.4 L2549.5 861.5 L2550.0 861.5 L2550.5 861.6 L2551.0 861.7 L2551.5 861.7 L2552.0 861.8 L2552.6 861.9 L2553.1 861.9 L2553.6 862.0 L2554.1 862.1 L2554.6 862.2 L2555.1 862.2 L2555.6 862.3 L2556.1 862.4 L2556.6 862.4 L2557.1 862.5 L2557.6 862.5 L2558.1 862.6 L2558.6 862.7 L2559.1 862.7 L2559.6 862.8 L2560.1 862.9 L2560.7 862.9 L2561.2 863.0 L2561.7 863.1 L2562.2 863.1 L2562.7 863.2 L2563.2 863.2 L2563.7 863.3 L2564.2 863.4 L2564.7 863.4 L2565.2 863.5 L2565.7 863.6 L2566.2 863.6 L2566.7 863.7 L2567.2 863.7 L2567.7 863.8 L2568.2 863.9 L2568.8 863.9 L2569.3 864.0 L2569.8 864.0 L2570.3 864.1 L2570.8 864.1 L2571.3 864.2 L2571.8 864.3 L2572.3 864.3 L2572.8 864.4 L2573.3 864.4 L2573.8 864.5 L2574.3 864.6 L2574.8 864.6 L2575.3 864.7 L2575.8 864.7 L2576.3 864.8 L2576.9 864.8 L2577.4 864.9 L2577.9 864.9 L2578.4 865.0 L2578.9 865.1 L2579.4 865.1 L2579.9 865.2 L2580.4 865.2 L2580.9 865.3 L2581.4 865.3 L2581.9 865.4 L2582.4 865.4 L2582.9 865.5 L2583.4 865.5 L2583.9 865.6 L2584.4 865.7 L2585.0 865.7 L2585.5 865.8 L2586.0 865.8 L2586.5 865.9 L2587.0 865.9 L2587.5 866.0 L2588.0 866.0 L2588.5 866.1 L2589.0 866.1 L2589.5 866.2 L2590.0 866.2 L2590.5 866.3 L2591.0 866.3 L2591.5 866.4 L2592.0 866.5 L2592.5 866.5 L2593.1 866.6 L2593.6 866.6 L2594.1 866.7 L2594.6 866.7 L2595.1 866.8 L2595.6 866.8 L2596.1 866.9 L2596.6 866.9 L2597.1 867.0 L2597.6 867.0 L2598.1 867.1 L2598.6 867.1 L2599.1 867.2 L2599.6 867.2 L2600.1 867.3 L2600.6 867.3 L2601.2 867.4 L2601.7 867.4 L2602.2 867.5 L2602.7 867.5 L2603.2 867.6 L2603.7 867.6 L2604.2 867.7 L2604.7 867.7 L2605.2 867.8 L2605.7 867.8 L2606.2 867.9 L2606.7 867.9 L2607.2 868.0 L2607.7 868.0 L2608.2 868.1 L2608.7 868.1 L2609.3 868.2 L2609.8 868.2 L2610.3 868.3 L2610.8 868.3 L2611.3 868.4 L2611.8 868.4 L2612.3 868.5 L2612.8 868.5 L2613.3 868.6 L2613.8 868.6 L2614.3 868.7 L2614.8 868.7 L2615.3 868.8 L2615.8 868.8 L2616.3 868.9 L2616.8 868.9 L2617.4 869.0 L2617.9 869.0 L2618.4 869.1 L2618.9 869.1 L2619.4 869.2 L2619.9 869.2 L2620.4 869.3 L2620.9 869.3 L2621.4 869.4 L2621.9 869.4 L2622.4 869.5 L2622.9 869.5 L2623.4 869.6 L2623.9 869.6 L2624.4 869.7 L2624.9 869.7 L2625.5 869.8 L2626.0 869.8 L2626.5 869.9 L2627.0 869.9 L2627.5 870.0 L2628.0 870.0 L2628.5 870.1 L2629.0 870.1 L2629.5 870.2 L2630.0 870.2 L2630.5 870.3 L2631.0 870.3 L2631.5 870.4 L2632.0 870.4 L2632.5 870.5 L2633.0 870.5 L2633.6 870.6 L2634.1 870.6 L2634.6 870.6 L2635.1 870.7 L2635.6 870.7 L2636.1 870.8 L2636.6 870.8 L2637.1 870.9 L2637.6 870.9 L2638.1 871.0 L2638.6 871.0 L2639.1 871.1 L2639.6 871.1 L2640.1 871.2 L2640.6 871.2 L2641.1 871.3 L2641.7 871.3 L2642.2 871.4 L2642.7 871.4 L2643.2 871.5 L2643.7 871.5 L2644.2 871.6 L2644.7 871.6 L2645.2 871.7 L2645.7 871.7 L2646.2 871.8 L2646.7 871.8 L2647.2 871.9 L2647.7 871.9 L2648.2 872.0 L2648.7 872.0 L2649.2 872.1 L2649.8 872.1 L2650.3 872.2 L2650.8 872.2 L2651.3 872.3 L2651.8 872.3 L2652.3 872.4 L2652.8 872.4 L2653.3 872.5 L2653.8 872.5 L2654.3 872.5 L2654.8 872.6 L2655.3 872.6 L2655.8 872.7 L2656.3 872.7 L2656.8 872.8 L2657.3 872.8 L2657.9 872.9 L2658.4 872.9 L2658.9 873.0 L2659.4 873.0 L2659.9 873.1 L2660.4 873.1 L2660.9 873.2 L2661.4 873.2 L2661.9 873.3 L2662.4 873.3 L2662.9 873.4 L2663.4 873.4 L2663.9 873.5 L2664.4 873.5 L2664.9 873.6 L2665.5 873.6 L2666.0 873.7 L2666.5 873.7 L2667.0 873.8 L2667.5 873.8 L2668.0 873.9 L2668.5 873.9 L2669.0 874.0 L2669.5 874.0 L2670.0 874.1 L2670.5 874.1 L2671.0 874.2 L2671.5 874.2 L2672.0 874.3 L2672.5 874.3 L2673.0 874.4 L2673.6 874.4 L2674.1 874.5 L2674.6 874.5 L2675.1 874.6 L2675.6 874.6 L2676.1 874.7 L2676.6 874.7 L2677.1 874.8 L2677.6 874.8 L2678.1 874.9 L2678.6 874.9 L2679.1 875.0" fill="none" stroke="#f03030" stroke-width="2.4"/><rect x="2465" y="566" width="417" height="309" fill="none" stroke="#222" stroke-width="1.6"/><path d="M2461 875.0 H2465" stroke="#222" stroke-width="1.2"/><text x="2459" y="880.0" text-anchor="end" font-family='Liberation Sans' font-size="13.5" fill="#333">0</text><path d="M2461 823.7 H2465" stroke="#222" stroke-width="1.2"/><text x="2459" y="828.7" text-anchor="end" font-family='Liberation Sans' font-size="13.5" fill="#333">1</text><path d="M2461 772.4 H2465" stroke="#222" stroke-width="1.2"/><text x="2459" y="777.4" text-anchor="end" font-family='Liberation Sans' font-size="13.5" fill="#333">2</text><path d="M2461 721.1 H2465" stroke="#222" stroke-width="1.2"/><text x="2459" y="726.1" text-anchor="end" font-family='Liberation Sans' font-size="13.5" fill="#333">3</text><path d="M2461 669.8 H2465" stroke="#222" stroke-width="1.2"/><text x="2459" y="674.8" text-anchor="end" font-family='Liberation Sans' font-size="13.5" fill="#333">4</text><path d="M2461 618.5 H2465" stroke="#222" stroke-width="1.2"/><text x="2459" y="623.5" text-anchor="end" font-family='Liberation Sans' font-size="13.5" fill="#333">5</text><path d="M2461 567.2 H2465" stroke="#222" stroke-width="1.2"/><text x="2459" y="572.2" text-anchor="end" font-family='Liberation Sans' font-size="13.5" fill="#333">6</text><path d="M2477.0 875 V879" stroke="#222" stroke-width="1.2"/><text x="2477.0" y="893" text-anchor="middle" font-family='Liberation Sans' font-size="13.5" fill="#333">0</text><path d="M2534.9 875 V879" stroke="#222" stroke-width="1.2"/><text x="2534.9" y="893" text-anchor="middle" font-family='Liberation Sans' font-size="13.5" fill="#333">1</text><path d="M2592.7 875 V879" stroke="#222" stroke-width="1.2"/><text x="2592.7" y="893" text-anchor="middle" font-family='Liberation Sans' font-size="13.5" fill="#333">2</text><path d="M2650.6 875 V879" stroke="#222" stroke-width="1.2"/><text x="2650.6" y="893" text-anchor="middle" font-family='Liberation Sans' font-size="13.5" fill="#333">3</text><path d="M2708.4 875 V879" stroke="#222" stroke-width="1.2"/><text x="2708.4" y="893" text-anchor="middle" font-family='Liberation Sans' font-size="13.5" fill="#333">4</text><path d="M2766.3 875 V879" stroke="#222" stroke-width="1.2"/><text x="2766.3" y="893" text-anchor="middle" font-family='Liberation Sans' font-size="13.5" fill="#333">5</text><path d="M2824.2 875 V879" stroke="#222" stroke-width="1.2"/><text x="2824.2" y="893" text-anchor="middle" font-family='Liberation Sans' font-size="13.5" fill="#333">6</text><path d="M2882.0 875 V879" stroke="#222" stroke-width="1.2"/><text x="2882.0" y="893" text-anchor="middle" font-family='Liberation Sans' font-size="13.5" fill="#333">7</text><text x="2467" y="563" font-family='Liberation Sans' font-size="13" fill="#444">1e7</text><text x="2882" y="906" text-anchor="end" font-family='Liberation Sans' font-size="13" fill="#444">1e−7</text><text x="2674" y="559" text-anchor="middle" font-family='Liberation Sans' font-size="17.5" fill="#333">Layer 4</text><text x="2674" y="915" text-anchor="middle" font-family='Liberation Sans' font-size="17.5" fill="#333">Eigenvalues</text><text transform="translate(2442 720) rotate(-90)" text-anchor="middle" font-family='Liberation Sans' font-size="17" fill="#333" font-style="italic">ρ<tspan font-size="11" dy="3">N</tspan><tspan dy="-3" font-style="normal">(</tspan>λ<tspan font-style="normal">)</tspan></text><rect x="2579" y="575" width="294" height="88" rx="3" fill="#fff" fill-opacity="0.85" stroke="#ddd" stroke-width="1"/><rect x="2586" y="584" width="36" height="12" fill="#8fbbda"/><path d="M2586 617.5 H2622" stroke="#f03030" stroke-width="2.2"/><rect x="2586" y="640" width="36" height="12" fill="#ffbf86"/><text x="2635" y="596" font-family='Liberation Sans' font-size="18" fill="#333">ESD of Δ<tspan font-style="italic">W<tspan font-size="11" dy="4">q</tspan></tspan></text><text x="2635" y="624" font-family='Liberation Sans' font-size="18" fill="#333">MP distribution (Fit on <tspan font-style="italic">W<tspan font-size="11" dy="4">q</tspan></tspan><tspan dy="-4">)</tspan></text><text x="2635" y="652" font-family='Liberation Sans' font-size="18" fill="#333">ESD of Δ<tspan font-style="italic">W<tspan font-size="11" dy="4">v</tspan></tspan></text></svg>
<div class="hb" style="left:3181px;top:355px;width:1275px;height:93px"></div>
<svg style="left:3421px;top:371px" width="70" height="72" viewBox="0 0 70 72"><rect x="1" y="52.6" width="18" height="17.7" fill="#000"/><rect x="25" y="44" width="18.3" height="26.3" fill="#000"/><rect x="48.6" y="32.6" width="18.4" height="37.7" fill="#000"/><path d="M4.6 45.3 L24.6 26.5 L33 33.5 L58 10" fill="none" stroke="#000" stroke-width="8" stroke-linejoin="miter" stroke-miterlimit="3"/><path d="M67.8 -0.3 L51.5 2.5 L65 15.5 Z" fill="#000"/></svg>
<div class="a" style="left:3514px;top:386.3px;font-family:'Liberation Mono',monospace;font-weight:bold;font-size:52.4px;transform:scaleY(1.07);transform-origin:0 40.2px">Experimental Results</div>
<div class="a" style="left:2823.0px;top:502.9px;font-size:42.6px;width:2000.0px;text-align:center;"><b>Natural Language Understanding (GLUE benchmark)</b></div>
<svg style="left:0;top:0" width="4608" height="1300"><rect x="3229" y="584" width="1196" height="2.2" fill="#222"/><rect x="3229" y="652.5" width="1196" height="1.6" fill="#222"/><rect x="3229" y="658.5" width="1196" height="1.6" fill="#222"/><rect x="3229" y="922" width="1196" height="1.6" fill="#222"/><rect x="3229" y="1158" width="1196" height="2.2" fill="#222"/><rect x="3327.3" y="594" width="1.5" height="56" fill="#333"/><rect x="3327.3" y="667" width="1.5" height="251" fill="#333"/><rect x="3327.3" y="931" width="1.5" height="223" fill="#333"/><rect x="3480.3" y="594" width="1.5" height="56" fill="#333"/><rect x="3480.3" y="667" width="1.5" height="251" fill="#333"/><rect x="3480.3" y="931" width="1.5" height="223" fill="#333"/><rect x="3591.3" y="594" width="1.5" height="56" fill="#333"/><rect x="3591.3" y="667" width="1.5" height="251" fill="#333"/><rect x="3591.3" y="931" width="1.5" height="223" fill="#333"/></svg>
<div class="a" style="left:3178.0px;top:608.0px;font-size:25px;width:200.0px;text-align:center;"><b>Model</b></div>
<div class="a" style="left:3344.0px;top:608.0px;font-size:25px;"><b>FT Method</b></div>
<div class="a" style="left:3436.0px;top:608.0px;font-size:25px;width:200.0px;text-align:center;"><b>Param.</b></div>
<div class="a" style="left:3540.0px;top:594.0px;font-size:25px;width:200.0px;text-align:center;"><b>CoLA</b></div>
<div class="a" style="left:3540.0px;top:621.0px;font-size:25px;width:200.0px;text-align:center;">MCC</div>
<div class="a" style="left:3637.0px;top:594.0px;font-size:25px;width:200.0px;text-align:center;"><b>MNLI</b></div>
<div class="a" style="left:3637.0px;top:621.0px;font-size:25px;width:200.0px;text-align:center;">Acc</div>
<div class="a" style="left:3739.0px;top:594.0px;font-size:25px;width:200.0px;text-align:center;"><b>MRPC</b></div>
<div class="a" style="left:3739.0px;top:621.0px;font-size:25px;width:200.0px;text-align:center;">Acc</div>
<div class="a" style="left:3840.0px;top:594.0px;font-size:25px;width:200.0px;text-align:center;"><b>QNLI</b></div>
<div class="a" style="left:3840.0px;top:621.0px;font-size:25px;width:200.0px;text-align:center;">Acc</div>
<div class="a" style="left:3929.0px;top:594.0px;font-size:25px;width:200.0px;text-align:center;"><b>QQP</b></div>
<div class="a" style="left:3929.0px;top:621.0px;font-size:25px;width:200.0px;text-align:center;">Acc</div>
<div class="a" style="left:4012.0px;top:594.0px;font-size:25px;width:200.0px;text-align:center;"><b>RTE</b></div>
<div class="a" style="left:4012.0px;top:621.0px;font-size:25px;width:200.0px;text-align:center;">Acc</div>
<div class="a" style="left:4099.0px;top:594.0px;font-size:25px;width:200.0px;text-align:center;"><b>SST-2</b></div>
<div class="a" style="left:4099.0px;top:621.0px;font-size:25px;width:200.0px;text-align:center;">Acc</div>
<div class="a" style="left:4196.0px;top:594.0px;font-size:25px;width:200.0px;text-align:center;"><b>STS-B</b></div>
<div class="a" style="left:4196.0px;top:621.0px;font-size:25px;width:200.0px;text-align:center;">PCC</div>
<div class="a" style="left:4285.0px;top:594.0px;font-size:25px;width:200.0px;text-align:center;"><b>All</b></div>
<div class="a" style="left:4285.0px;top:621.0px;font-size:25px;width:200.0px;text-align:center;">Avg.</div>
<div class="a" style="left:3344.0px;top:668.5px;font-size:25px;">FT ‡</div>
<div class="a" style="left:3425.0px;top:668.5px;font-size:25px;width:150.0px;text-align:right;">125M</div>
<div class="a" style="left:3580.0px;top:668.5px;font-size:25px;width:120.0px;text-align:center;">63.6</div>
<div class="a" style="left:3677.0px;top:668.5px;font-size:25px;width:120.0px;text-align:center;"><b>87.6</b></div>
<div class="a" style="left:3779.0px;top:668.5px;font-size:25px;width:120.0px;text-align:center;">90.2</div>
<div class="a" style="left:3880.0px;top:668.5px;font-size:25px;width:120.0px;text-align:center;">92.8</div>
<div class="a" style="left:3969.0px;top:668.5px;font-size:25px;width:120.0px;text-align:center;"><b>91.9</b></div>
<div class="a" style="left:4052.0px;top:668.5px;font-size:25px;width:120.0px;text-align:center;">78.7</div>
<div class="a" style="left:4139.0px;top:668.5px;font-size:25px;width:120.0px;text-align:center;">94.8</div>
<div class="a" style="left:4236.0px;top:668.5px;font-size:25px;width:120.0px;text-align:center;">91.2</div>
<div class="a" style="left:4325.0px;top:668.5px;font-size:25px;width:120.0px;text-align:center;"><b>86.4</b></div>
<div class="a" style="left:3344.0px;top:696.0px;font-size:25px;">BitFit ‡</div>
<div class="a" style="left:3425.0px;top:696.0px;font-size:25px;width:150.0px;text-align:right;">0.1M</div>
<div class="a" style="left:3580.0px;top:696.0px;font-size:25px;width:120.0px;text-align:center;">62.0</div>
<div class="a" style="left:3677.0px;top:696.0px;font-size:25px;width:120.0px;text-align:center;">84.7</div>
<div class="a" style="left:3779.0px;top:696.0px;font-size:25px;width:120.0px;text-align:center;"><b>92.7</b></div>
<div class="a" style="left:3880.0px;top:696.0px;font-size:25px;width:120.0px;text-align:center;">91.8</div>
<div class="a" style="left:3969.0px;top:696.0px;font-size:25px;width:120.0px;text-align:center;">84.0</div>
<div class="a" style="left:4052.0px;top:696.0px;font-size:25px;width:120.0px;text-align:center;"><b>81.5</b></div>
<div class="a" style="left:4139.0px;top:696.0px;font-size:25px;width:120.0px;text-align:center;">93.7</div>
<div class="a" style="left:4236.0px;top:696.0px;font-size:25px;width:120.0px;text-align:center;">90.8</div>
<div class="a" style="left:4325.0px;top:696.0px;font-size:25px;width:120.0px;text-align:center;">85.2</div>
<div class="a" style="left:3344.0px;top:723.6px;font-size:25px;">Adapter<sup style="font-size:62%">D</sup> ‡</div>
<div class="a" style="left:3425.0px;top:723.6px;font-size:25px;width:150.0px;text-align:right;">0.9M</div>
<div class="a" style="left:3580.0px;top:723.6px;font-size:25px;width:120.0px;text-align:center;">62.6</div>
<div class="a" style="left:3677.0px;top:723.6px;font-size:25px;width:120.0px;text-align:center;">87.3</div>
<div class="a" style="left:3779.0px;top:723.6px;font-size:25px;width:120.0px;text-align:center;">88.4</div>
<div class="a" style="left:3880.0px;top:723.6px;font-size:25px;width:120.0px;text-align:center;">93.0</div>
<div class="a" style="left:3969.0px;top:723.6px;font-size:25px;width:120.0px;text-align:center;">90.6</div>
<div class="a" style="left:4052.0px;top:723.6px;font-size:25px;width:120.0px;text-align:center;">75.9</div>
<div class="a" style="left:4139.0px;top:723.6px;font-size:25px;width:120.0px;text-align:center;">94.7</div>
<div class="a" style="left:4236.0px;top:723.6px;font-size:25px;width:120.0px;text-align:center;">90.3</div>
<div class="a" style="left:4325.0px;top:723.6px;font-size:25px;width:120.0px;text-align:center;">85.4</div>
<div class="a" style="left:3344.0px;top:751.1px;font-size:25px;">LoRA</div>
<div class="a" style="left:3425.0px;top:751.1px;font-size:25px;width:150.0px;text-align:right;">0.3M</div>
<div class="a" style="left:3580.0px;top:751.1px;font-size:25px;width:120.0px;text-align:center;">62.8</div>
<div class="a" style="left:3677.0px;top:751.1px;font-size:25px;width:120.0px;text-align:center;">86.6</div>
<div class="a" style="left:3779.0px;top:751.1px;font-size:25px;width:120.0px;text-align:center;">89.7</div>
<div class="a" style="left:3880.0px;top:751.1px;font-size:25px;width:120.0px;text-align:center;">93.3</div>
<div class="a" style="left:3969.0px;top:751.1px;font-size:25px;width:120.0px;text-align:center;">90.8</div>
<div class="a" style="left:4052.0px;top:751.1px;font-size:25px;width:120.0px;text-align:center;">79.3</div>
<div class="a" style="left:4139.0px;top:751.1px;font-size:25px;width:120.0px;text-align:center;">94.9</div>
<div class="a" style="left:4236.0px;top:751.1px;font-size:25px;width:120.0px;text-align:center;">91.4</div>
<div class="a" style="left:4325.0px;top:751.1px;font-size:25px;width:120.0px;text-align:center;">86.1</div>
<div class="a" style="left:3344.0px;top:778.7px;font-size:25px;">AdaLoRA</div>
<div class="a" style="left:3425.0px;top:778.7px;font-size:25px;width:150.0px;text-align:right;">0.3M</div>
<div class="a" style="left:3580.0px;top:778.7px;font-size:25px;width:120.0px;text-align:center;">63.0</div>
<div class="a" style="left:3677.0px;top:778.7px;font-size:25px;width:120.0px;text-align:center;">86.8</div>
<div class="a" style="left:3779.0px;top:778.7px;font-size:25px;width:120.0px;text-align:center;">90.2</div>
<div class="a" style="left:3880.0px;top:778.7px;font-size:25px;width:120.0px;text-align:center;"><b>93.4</b></div>
<div class="a" style="left:3969.0px;top:778.7px;font-size:25px;width:120.0px;text-align:center;">90.9</div>
<div class="a" style="left:4052.0px;top:778.7px;font-size:25px;width:120.0px;text-align:center;">80.4</div>
<div class="a" style="left:4139.0px;top:778.7px;font-size:25px;width:120.0px;text-align:center;">94.6</div>
<div class="a" style="left:4236.0px;top:778.7px;font-size:25px;width:120.0px;text-align:center;">90.9</div>
<div class="a" style="left:4325.0px;top:778.7px;font-size:25px;width:120.0px;text-align:center;">86.3</div>
<div class="a" style="left:3344.0px;top:806.2px;font-size:25px;">DoRA</div>
<div class="a" style="left:3425.0px;top:806.2px;font-size:25px;width:150.0px;text-align:right;">0.31M</div>
<div class="a" style="left:3580.0px;top:806.2px;font-size:25px;width:120.0px;text-align:center;">63.5</div>
<div class="a" style="left:3677.0px;top:806.2px;font-size:25px;width:120.0px;text-align:center;">87.0</div>
<div class="a" style="left:3779.0px;top:806.2px;font-size:25px;width:120.0px;text-align:center;">90.2</div>
<div class="a" style="left:3880.0px;top:806.2px;font-size:25px;width:120.0px;text-align:center;">93.1</div>
<div class="a" style="left:3969.0px;top:806.2px;font-size:25px;width:120.0px;text-align:center;">91.4</div>
<div class="a" style="left:4052.0px;top:806.2px;font-size:25px;width:120.0px;text-align:center;">78.6</div>
<div class="a" style="left:4139.0px;top:806.2px;font-size:25px;width:120.0px;text-align:center;"><b>95.2</b></div>
<div class="a" style="left:4236.0px;top:806.2px;font-size:25px;width:120.0px;text-align:center;"><b>91.5</b></div>
<div class="a" style="left:4325.0px;top:806.2px;font-size:25px;width:120.0px;text-align:center;">86.3</div>
<div class="a" style="left:3344.0px;top:833.8px;font-size:25px;">VeRA †</div>
<div class="a" style="left:3425.0px;top:833.8px;font-size:25px;width:150.0px;text-align:right;">0.043M</div>
<div class="a" style="left:3580.0px;top:833.8px;font-size:25px;width:120.0px;text-align:center;"><b>65.6</b></div>
<div class="a" style="left:3677.0px;top:833.8px;font-size:25px;width:120.0px;text-align:center;">85.1</div>
<div class="a" style="left:3779.0px;top:833.8px;font-size:25px;width:120.0px;text-align:center;">89.5</div>
<div class="a" style="left:3880.0px;top:833.8px;font-size:25px;width:120.0px;text-align:center;">91.8</div>
<div class="a" style="left:3969.0px;top:833.8px;font-size:25px;width:120.0px;text-align:center;">89.6</div>
<div class="a" style="left:4052.0px;top:833.8px;font-size:25px;width:120.0px;text-align:center;">78.7</div>
<div class="a" style="left:4139.0px;top:833.8px;font-size:25px;width:120.0px;text-align:center;">94.6</div>
<div class="a" style="left:4236.0px;top:833.8px;font-size:25px;width:120.0px;text-align:center;">90.7</div>
<div class="a" style="left:4325.0px;top:833.8px;font-size:25px;width:120.0px;text-align:center;">85.7</div>
<div class="a" style="left:3344.0px;top:861.4px;font-size:25px;">FourierFT <sup style="font-size:62%">*</sup></div>
<div class="a" style="left:3425.0px;top:861.4px;font-size:25px;width:150.0px;text-align:right;">0.024M</div>
<div class="a" style="left:3580.0px;top:861.4px;font-size:25px;width:120.0px;text-align:center;">63.8</div>
<div class="a" style="left:3677.0px;top:861.4px;font-size:25px;width:120.0px;text-align:center;">84.9</div>
<div class="a" style="left:3779.0px;top:861.4px;font-size:25px;width:120.0px;text-align:center;">90.0</div>
<div class="a" style="left:3880.0px;top:861.4px;font-size:25px;width:120.0px;text-align:center;">92.2</div>
<div class="a" style="left:3969.0px;top:861.4px;font-size:25px;width:120.0px;text-align:center;">88.2</div>
<div class="a" style="left:4052.0px;top:861.4px;font-size:25px;width:120.0px;text-align:center;">79.1</div>
<div class="a" style="left:4139.0px;top:861.4px;font-size:25px;width:120.0px;text-align:center;">94.2</div>
<div class="a" style="left:4236.0px;top:861.4px;font-size:25px;width:120.0px;text-align:center;">90.8</div>
<div class="a" style="left:4325.0px;top:861.4px;font-size:25px;width:120.0px;text-align:center;">85.4</div>
<div class="a" style="left:3344.0px;top:888.9px;font-size:25px;"><b>LoCA</b></div>
<div class="a" style="left:3425.0px;top:888.9px;font-size:25px;width:150.0px;text-align:right;">0.024M</div>
<div class="a" style="left:3580.0px;top:888.9px;font-size:25px;width:120.0px;text-align:center;">64.5</div>
<div class="a" style="left:3677.0px;top:888.9px;font-size:25px;width:120.0px;text-align:center;">85.2</div>
<div class="a" style="left:3779.0px;top:888.9px;font-size:25px;width:120.0px;text-align:center;">90.5</div>
<div class="a" style="left:3880.0px;top:888.9px;font-size:25px;width:120.0px;text-align:center;">92.0</div>
<div class="a" style="left:3969.0px;top:888.9px;font-size:25px;width:120.0px;text-align:center;">88.7</div>
<div class="a" style="left:4052.0px;top:888.9px;font-size:25px;width:120.0px;text-align:center;"><b>81.5</b></div>
<div class="a" style="left:4139.0px;top:888.9px;font-size:25px;width:120.0px;text-align:center;">94.6</div>
<div class="a" style="left:4236.0px;top:888.9px;font-size:25px;width:120.0px;text-align:center;">90.9</div>
<div class="a" style="left:4325.0px;top:888.9px;font-size:25px;width:120.0px;text-align:center;">86.0</div>
<div class="a" style="left:3344.0px;top:930.0px;font-size:25px;">FT ‡</div>
<div class="a" style="left:3425.0px;top:930.0px;font-size:25px;width:150.0px;text-align:right;">355M</div>
<div class="a" style="left:3580.0px;top:930.0px;font-size:25px;width:120.0px;text-align:center;">68.0</div>
<div class="a" style="left:3677.0px;top:930.0px;font-size:25px;width:120.0px;text-align:center;">90.2</div>
<div class="a" style="left:3779.0px;top:930.0px;font-size:25px;width:120.0px;text-align:center;">90.9</div>
<div class="a" style="left:3880.0px;top:930.0px;font-size:25px;width:120.0px;text-align:center;">94.7</div>
<div class="a" style="left:3969.0px;top:930.0px;font-size:25px;width:120.0px;text-align:center;"><b>92.2</b></div>
<div class="a" style="left:4052.0px;top:930.0px;font-size:25px;width:120.0px;text-align:center;">86.6</div>
<div class="a" style="left:4139.0px;top:930.0px;font-size:25px;width:120.0px;text-align:center;"><b>96.4</b></div>
<div class="a" style="left:4236.0px;top:930.0px;font-size:25px;width:120.0px;text-align:center;">92.4</div>
<div class="a" style="left:4325.0px;top:930.0px;font-size:25px;width:120.0px;text-align:center;"><b>88.9</b></div>
<div class="a" style="left:3344.0px;top:957.9px;font-size:25px;">Adapter<sup style="font-size:62%">H</sup> ‡</div>
<div class="a" style="left:3425.0px;top:957.9px;font-size:25px;width:150.0px;text-align:right;">6M</div>
<div class="a" style="left:3580.0px;top:957.9px;font-size:25px;width:120.0px;text-align:center;">66.5</div>
<div class="a" style="left:3677.0px;top:957.9px;font-size:25px;width:120.0px;text-align:center;">89.9</div>
<div class="a" style="left:3779.0px;top:957.9px;font-size:25px;width:120.0px;text-align:center;">88.7</div>
<div class="a" style="left:3880.0px;top:957.9px;font-size:25px;width:120.0px;text-align:center;">94.7</div>
<div class="a" style="left:3969.0px;top:957.9px;font-size:25px;width:120.0px;text-align:center;">92.1</div>
<div class="a" style="left:4052.0px;top:957.9px;font-size:25px;width:120.0px;text-align:center;">83.4</div>
<div class="a" style="left:4139.0px;top:957.9px;font-size:25px;width:120.0px;text-align:center;">96.2</div>
<div class="a" style="left:4236.0px;top:957.9px;font-size:25px;width:120.0px;text-align:center;">91.0</div>
<div class="a" style="left:4325.0px;top:957.9px;font-size:25px;width:120.0px;text-align:center;">87.8</div>
<div class="a" style="left:3344.0px;top:985.7px;font-size:25px;">LoRA</div>
<div class="a" style="left:3425.0px;top:985.7px;font-size:25px;width:150.0px;text-align:right;">0.8M</div>
<div class="a" style="left:3580.0px;top:985.7px;font-size:25px;width:120.0px;text-align:center;">68.4</div>
<div class="a" style="left:3677.0px;top:985.7px;font-size:25px;width:120.0px;text-align:center;">90.5</div>
<div class="a" style="left:3779.0px;top:985.7px;font-size:25px;width:120.0px;text-align:center;">90.2</div>
<div class="a" style="left:3880.0px;top:985.7px;font-size:25px;width:120.0px;text-align:center;">94.4</div>
<div class="a" style="left:3969.0px;top:985.7px;font-size:25px;width:120.0px;text-align:center;">91.6</div>
<div class="a" style="left:4052.0px;top:985.7px;font-size:25px;width:120.0px;text-align:center;">85.7</div>
<div class="a" style="left:4139.0px;top:985.7px;font-size:25px;width:120.0px;text-align:center;">96.2</div>
<div class="a" style="left:4236.0px;top:985.7px;font-size:25px;width:120.0px;text-align:center;">92.4</div>
<div class="a" style="left:4325.0px;top:985.7px;font-size:25px;width:120.0px;text-align:center;">88.7</div>
<div class="a" style="left:3344.0px;top:1013.6px;font-size:25px;">AdaLoRA</div>
<div class="a" style="left:3425.0px;top:1013.6px;font-size:25px;width:150.0px;text-align:right;">0.8M</div>
<div class="a" style="left:3580.0px;top:1013.6px;font-size:25px;width:120.0px;text-align:center;">67.9</div>
<div class="a" style="left:3677.0px;top:1013.6px;font-size:25px;width:120.0px;text-align:center;"><b>90.6</b></div>
<div class="a" style="left:3779.0px;top:1013.6px;font-size:25px;width:120.0px;text-align:center;">90.6</div>
<div class="a" style="left:3880.0px;top:1013.6px;font-size:25px;width:120.0px;text-align:center;">94.2</div>
<div class="a" style="left:3969.0px;top:1013.6px;font-size:25px;width:120.0px;text-align:center;">91.6</div>
<div class="a" style="left:4052.0px;top:1013.6px;font-size:25px;width:120.0px;text-align:center;">86.4</div>
<div class="a" style="left:4139.0px;top:1013.6px;font-size:25px;width:120.0px;text-align:center;">95.9</div>
<div class="a" style="left:4236.0px;top:1013.6px;font-size:25px;width:120.0px;text-align:center;"><b>92.7</b></div>
<div class="a" style="left:4325.0px;top:1013.6px;font-size:25px;width:120.0px;text-align:center;">88.7</div>
<div class="a" style="left:3344.0px;top:1041.4px;font-size:25px;">DoRA</div>
<div class="a" style="left:3425.0px;top:1041.4px;font-size:25px;width:150.0px;text-align:right;">0.83M</div>
<div class="a" style="left:3580.0px;top:1041.4px;font-size:25px;width:120.0px;text-align:center;">68.3</div>
<div class="a" style="left:3677.0px;top:1041.4px;font-size:25px;width:120.0px;text-align:center;">90.5</div>
<div class="a" style="left:3779.0px;top:1041.4px;font-size:25px;width:120.0px;text-align:center;">90.7</div>
<div class="a" style="left:3880.0px;top:1041.4px;font-size:25px;width:120.0px;text-align:center;"><b>94.8</b></div>
<div class="a" style="left:3969.0px;top:1041.4px;font-size:25px;width:120.0px;text-align:center;">91.8</div>
<div class="a" style="left:4052.0px;top:1041.4px;font-size:25px;width:120.0px;text-align:center;">85.4</div>
<div class="a" style="left:4139.0px;top:1041.4px;font-size:25px;width:120.0px;text-align:center;">96.3</div>
<div class="a" style="left:4236.0px;top:1041.4px;font-size:25px;width:120.0px;text-align:center;">92.4</div>
<div class="a" style="left:4325.0px;top:1041.4px;font-size:25px;width:120.0px;text-align:center;">88.8</div>
<div class="a" style="left:3344.0px;top:1069.3px;font-size:25px;">VeRA †</div>
<div class="a" style="left:3425.0px;top:1069.3px;font-size:25px;width:150.0px;text-align:right;">0.061M</div>
<div class="a" style="left:3580.0px;top:1069.3px;font-size:25px;width:120.0px;text-align:center;">68.0</div>
<div class="a" style="left:3677.0px;top:1069.3px;font-size:25px;width:120.0px;text-align:center;">90.2</div>
<div class="a" style="left:3779.0px;top:1069.3px;font-size:25px;width:120.0px;text-align:center;">90.9</div>
<div class="a" style="left:3880.0px;top:1069.3px;font-size:25px;width:120.0px;text-align:center;">94.4</div>
<div class="a" style="left:3969.0px;top:1069.3px;font-size:25px;width:120.0px;text-align:center;">90.3</div>
<div class="a" style="left:4052.0px;top:1069.3px;font-size:25px;width:120.0px;text-align:center;">85.9</div>
<div class="a" style="left:4139.0px;top:1069.3px;font-size:25px;width:120.0px;text-align:center;">96.1</div>
<div class="a" style="left:4236.0px;top:1069.3px;font-size:25px;width:120.0px;text-align:center;">91.7</div>
<div class="a" style="left:4325.0px;top:1069.3px;font-size:25px;width:120.0px;text-align:center;">88.4</div>
<div class="a" style="left:3344.0px;top:1097.2px;font-size:25px;">FourierFT <sup style="font-size:62%">*</sup></div>
<div class="a" style="left:3425.0px;top:1097.2px;font-size:25px;width:150.0px;text-align:right;">0.048M</div>
<div class="a" style="left:3580.0px;top:1097.2px;font-size:25px;width:120.0px;text-align:center;">67.1</div>
<div class="a" style="left:3677.0px;top:1097.2px;font-size:25px;width:120.0px;text-align:center;">88.9</div>
<div class="a" style="left:3779.0px;top:1097.2px;font-size:25px;width:120.0px;text-align:center;">90.9</div>
<div class="a" style="left:3880.0px;top:1097.2px;font-size:25px;width:120.0px;text-align:center;">94.4</div>
<div class="a" style="left:3969.0px;top:1097.2px;font-size:25px;width:120.0px;text-align:center;">89.2</div>
<div class="a" style="left:4052.0px;top:1097.2px;font-size:25px;width:120.0px;text-align:center;">87.4</div>
<div class="a" style="left:4139.0px;top:1097.2px;font-size:25px;width:120.0px;text-align:center;">96.0</div>
<div class="a" style="left:4236.0px;top:1097.2px;font-size:25px;width:120.0px;text-align:center;">91.9</div>
<div class="a" style="left:4325.0px;top:1097.2px;font-size:25px;width:120.0px;text-align:center;">88.2</div>
<div class="a" style="left:3344.0px;top:1125.0px;font-size:25px;"><b>LoCA</b></div>
<div class="a" style="left:3425.0px;top:1125.0px;font-size:25px;width:150.0px;text-align:right;">0.048M</div>
<div class="a" style="left:3580.0px;top:1125.0px;font-size:25px;width:120.0px;text-align:center;"><b>68.8</b></div>
<div class="a" style="left:3677.0px;top:1125.0px;font-size:25px;width:120.0px;text-align:center;">89.4</div>
<div class="a" style="left:3779.0px;top:1125.0px;font-size:25px;width:120.0px;text-align:center;"><b>91.0</b></div>
<div class="a" style="left:3880.0px;top:1125.0px;font-size:25px;width:120.0px;text-align:center;">94.4</div>
<div class="a" style="left:3969.0px;top:1125.0px;font-size:25px;width:120.0px;text-align:center;">90.0</div>
<div class="a" style="left:4052.0px;top:1125.0px;font-size:25px;width:120.0px;text-align:center;"><b>87.9</b></div>
<div class="a" style="left:4139.0px;top:1125.0px;font-size:25px;width:120.0px;text-align:center;"><b>96.4</b></div>
<div class="a" style="left:4236.0px;top:1125.0px;font-size:25px;width:120.0px;text-align:center;">92.0</div>
<div class="a" style="left:4325.0px;top:1125.0px;font-size:25px;width:120.0px;text-align:center;">88.7</div>
<div class="a" style="left:3178px;top:765.5px;width:200px;height:25px;font-size:25px;text-align:center;transform:rotate(-90deg)">RoBERTa-base</div>
<div class="a" style="left:3178px;top:1015.5px;width:200px;height:25px;font-size:25px;text-align:center;transform:rotate(-90deg)">RoBERTa-large</div>
<div class="a" style="left:2533.0px;top:1202.9px;font-size:42.6px;width:2000.0px;text-align:center;"><b>Instruction Tuning</b></div>
<div class="a" style="left:2533.0px;top:1253.9px;font-size:42.6px;width:2000.0px;text-align:center;"><b>(Alpaca-52K, LLaMA2-7b)</b></div>
<div class="a" style="left:3156.0px;top:1202.9px;font-size:42.6px;width:2000.0px;text-align:center;"><b>Image Classification</b></div>
<div class="a" style="left:3156.0px;top:1253.9px;font-size:42.6px;width:2000.0px;text-align:center;"><b>(8 datasets)</b></div>
<svg style="left:0;top:0" width="4608" height="1600"><rect x="3213" y="1324.25" width="589" height="1.5" fill="#111"/><rect x="3213" y="1371.95" width="589" height="1.5" fill="#111"/><rect x="3213" y="1419.75" width="589" height="1.5" fill="#111"/><rect x="3213" y="1467.55" width="589" height="1.5" fill="#111"/><rect x="3213" y="1515.25" width="589" height="1.5" fill="#111"/><rect x="3212.25" y="1324.25" width="1.5" height="192.5" fill="#111"/><rect x="3408.25" y="1324.25" width="1.5" height="192.5" fill="#111"/><rect x="3604.25" y="1324.25" width="1.5" height="192.5" fill="#111"/><rect x="3800.25" y="1324.25" width="1.5" height="192.5" fill="#111"/></svg>
<div class="a" style="left:3223.0px;top:1335.4px;font-size:32px;"><b>Method</b></div>
<div class="a" style="left:3357.0px;top:1335.4px;font-size:32px;width:300.0px;text-align:center;"><b>MT-Bench</b></div>
<div class="a" style="left:3553.0px;top:1335.4px;font-size:32px;width:300.0px;text-align:center;"><b>Vicuna</b></div>
<div class="a" style="left:3223.0px;top:1382.4px;font-size:32px;">LoRA</div>
<div class="a" style="left:3357.0px;top:1382.4px;font-size:32px;width:300.0px;text-align:center;">4.67</div>
<div class="a" style="left:3553.0px;top:1382.4px;font-size:32px;width:300.0px;text-align:center;">7.68</div>
<div class="a" style="left:3223.0px;top:1430.4px;font-size:32px;">FourierFT</div>
<div class="a" style="left:3357.0px;top:1430.4px;font-size:32px;width:300.0px;text-align:center;">4.65</div>
<div class="a" style="left:3553.0px;top:1430.4px;font-size:32px;width:300.0px;text-align:center;">7.62</div>
<div class="a" style="left:3223.0px;top:1478.4px;font-size:32px;">LoCA (Ours)</div>
<div class="a" style="left:3357.0px;top:1478.4px;font-size:32px;width:300.0px;text-align:center;">4.82</div>
<div class="a" style="left:3553.0px;top:1478.4px;font-size:32px;width:300.0px;text-align:center;">7.78</div>
<svg style="left:0;top:0" width="4608" height="1600"><rect x="3852" y="1324.25" width="581" height="1.5" fill="#111"/><rect x="3852" y="1371.95" width="581" height="1.5" fill="#111"/><rect x="3852" y="1419.75" width="581" height="1.5" fill="#111"/><rect x="3852" y="1467.55" width="581" height="1.5" fill="#111"/><rect x="3852" y="1515.25" width="581" height="1.5" fill="#111"/><rect x="3851.25" y="1324.25" width="1.5" height="192.5" fill="#111"/><rect x="4045.25" y="1324.25" width="1.5" height="192.5" fill="#111"/><rect x="4238.25" y="1324.25" width="1.5" height="192.5" fill="#111"/><rect x="4431.25" y="1324.25" width="1.5" height="192.5" fill="#111"/></svg>
<div class="a" style="left:3862.0px;top:1335.4px;font-size:32px;"><b>Method</b></div>
<div class="a" style="left:3992.5px;top:1335.4px;font-size:32px;width:300.0px;text-align:center;"><b>Parameters</b></div>
<div class="a" style="left:4185.5px;top:1335.4px;font-size:32px;width:300.0px;text-align:center;"><b>Avg Acc (%)</b></div>
<div class="a" style="left:3862.0px;top:1382.4px;font-size:32px;">LoRA[1]</div>
<div class="a" style="left:3992.5px;top:1382.4px;font-size:32px;width:300.0px;text-align:center;">581K</div>
<div class="a" style="left:4185.5px;top:1382.4px;font-size:32px;width:300.0px;text-align:center;">86.76</div>
<div class="a" style="left:3862.0px;top:1430.4px;font-size:32px;">FourierFT[2]</div>
<div class="a" style="left:3992.5px;top:1430.4px;font-size:32px;width:300.0px;text-align:center;">72K</div>
<div class="a" style="left:4185.5px;top:1430.4px;font-size:32px;width:300.0px;text-align:center;">84.23</div>
<div class="a" style="left:3862.0px;top:1478.4px;font-size:32px;">LoCA (Ours)</div>
<div class="a" style="left:3992.5px;top:1478.4px;font-size:32px;width:300.0px;text-align:center;">72K</div>
<div class="a" style="left:4185.5px;top:1478.4px;font-size:32px;width:300.0px;text-align:center;">85.71</div>
<div class="a" style="left:2821.0px;top:1557.9px;font-size:42.6px;width:2000.0px;text-align:center;"><b>Comparison with LoRA and FourierFT</b></div>
<div class="a" style="left:3640.0px;top:1629.0px;font-size:25px;width:100.0px;text-align:center;">Δ<i>W</i><sub style="font-size:65%"><i>q</i></sub></div>
<div class="a" style="left:3862.0px;top:1629.0px;font-size:25px;width:100.0px;text-align:center;">Δ<i>W</i><sub style="font-size:65%"><i>v</i></sub></div>
<div class="a" style="left:4081.0px;top:1629.0px;font-size:25px;width:100.0px;text-align:center;">Δ<i>W</i><sub style="font-size:65%"><i>q</i></sub></div>
<div class="a" style="left:4300.0px;top:1629.0px;font-size:25px;width:100.0px;text-align:center;">Δ<i>W</i><sub style="font-size:65%"><i>v</i></sub></div>
<div class="a j" style="left:3192.0px;top:1715.0px;font-size:42.5px;width:339.0px;"><b>Full FT:</b> Gaussian-</div>
<div class="a j" style="left:3192.0px;top:1766.0px;font-size:42.5px;width:339.0px;">like distribution</div>
<div class="a" style="left:3192.0px;top:1817.0px;font-size:42.5px;">across the matrix</div>
<div class="a j" style="left:3192.0px;top:1920.0px;font-size:42.5px;width:339.0px;"><b>LoRA</b>: Structured</div>
<div class="a j" style="left:3192.0px;top:1971.0px;font-size:42.5px;width:339.0px;">absence due to</div>
<div class="a" style="left:3192.0px;top:2023.0px;font-size:42.5px;">low-rank constraint</div>
<div class="a" style="left:3192.0px;top:2131.0px;font-size:42.5px;"><b>LoCA:</b> More diverse</div>
<div class="a j" style="left:3192.0px;top:2182.0px;font-size:42.5px;width:363.0px;">pattern capturing full</div>
<div class="a" style="left:3192.0px;top:2234.0px;font-size:42.5px;">FT characteristics</div>
<div class="a" style="left:3427px;top:1774px;width:300px;height:24px;font-family:'Liberation Sans',sans-serif;font-weight:bold;font-size:22px;text-align:center;color:#1a1a1a;transform:rotate(-90deg)">FF</div>
<div class="a" style="left:3427px;top:1966px;width:300px;height:24px;font-family:'Liberation Sans',sans-serif;font-weight:bold;font-size:22px;text-align:center;color:#1a1a1a;transform:rotate(-90deg)">LoRA</div>
<div class="a" style="left:3427px;top:2188px;width:300px;height:24px;font-family:'Liberation Sans',sans-serif;font-weight:bold;font-size:22px;text-align:center;color:#1a1a1a;transform:rotate(-90deg)">LoCA (Ours)</div>
<svg style="left:0;top:0" width="4608" height="2417"><defs><filter id="ff0" x="0" y="0" width="1" height="1" color-interpolation-filters="sRGB"><feTurbulence type="fractalNoise" baseFrequency="0.5" numOctaves="2" seed="3"/><feColorMatrix type="matrix" values="1.2 0 0 0 -0.120  1.2 0 0 0 -0.120  1.2 0 0 0 -0.120  0 0 0 0 1"/><feGaussianBlur stdDeviation="0.55"/></filter><filter id="ff1" x="0" y="0" width="1" height="1" color-interpolation-filters="sRGB"><feTurbulence type="fractalNoise" baseFrequency="0.5" numOctaves="2" seed="17"/><feColorMatrix type="matrix" values="1.2 0 0 0 -0.120  1.2 0 0 0 -0.120  1.2 0 0 0 -0.120  0 0 0 0 1"/><feGaussianBlur stdDeviation="0.55"/></filter><filter id="ff2" x="0" y="0" width="1" height="1" color-interpolation-filters="sRGB"><feTurbulence type="fractalNoise" baseFrequency="0.5" numOctaves="2" seed="29"/><feColorMatrix type="matrix" values="1.2 0 0 0 -0.120  1.2 0 0 0 -0.120  1.2 0 0 0 -0.120  0 0 0 0 1"/><feGaussianBlur stdDeviation="0.55"/></filter><filter id="ff3" x="0" y="0" width="1" height="1" color-interpolation-filters="sRGB"><feTurbulence type="fractalNoise" baseFrequency="0.5" numOctaves="2" seed="41"/><feColorMatrix type="matrix" values="1.2 0 0 0 -0.120  1.2 0 0 0 -0.120  1.2 0 0 0 -0.120  0 0 0 0 1"/><feGaussianBlur stdDeviation="0.55"/></filter><filter id="lc0" x="0" y="0" width="1" height="1" color-interpolation-filters="sRGB"><feTurbulence type="fractalNoise" baseFrequency="0.55" numOctaves="2" seed="5"/><feColorMatrix type="matrix" values="1.2 0 0 0 -0.140  1.2 0 0 0 -0.140  1.2 0 0 0 -0.140  0 0 0 0 1"/><feGaussianBlur stdDeviation="0.5"/></filter><filter id="lc1" x="0" y="0" width="1" height="1" color-interpolation-filters="sRGB"><feTurbulence type="fractalNoise" baseFrequency="0.45 0.7" numOctaves="2" seed="9"/><feColorMatrix type="matrix" values="1.25 0 0 0 -0.125  1.25 0 0 0 -0.125  1.25 0 0 0 -0.125  0 0 0 0 1"/><feGaussianBlur stdDeviation="0.45"/></filter><filter id="lc2" x="0" y="0" width="1" height="1" color-interpolation-filters="sRGB"><feTurbulence type="fractalNoise" baseFrequency="0.5 0.6" numOctaves="2" seed="13"/><feColorMatrix type="matrix" values="0.95 0 0 0 0.055  0.95 0 0 0 0.055  0.95 0 0 0 0.055  0 0 0 0 1"/><feGaussianBlur stdDeviation="0.45"/></filter><filter id="lc3" x="0" y="0" width="1" height="1" color-interpolation-filters="sRGB"><feTurbulence type="fractalNoise" baseFrequency="0.5" numOctaves="2" seed="21"/><feColorMatrix type="matrix" values="1.1 0 0 0 -0.110  1.1 0 0 0 -0.110  1.1 0 0 0 -0.110  0 0 0 0 1"/><feGaussianBlur stdDeviation="0.6"/></filter><pattern id="hatch" width="15" height="15" patternUnits="userSpaceOnUse" patternTransform="rotate(45)"><rect x="0" y="0" width="15" height="2.2" fill="#fff" fill-opacity="0.18"/><rect x="0" y="0" width="2.2" height="15" fill="#fff" fill-opacity="0.18"/><rect x="0" y="7" width="15" height="1.6" fill="#000" fill-opacity="0.12"/><rect x="7" y="0" width="1.6" height="15" fill="#000" fill-opacity="0.12"/></pattern><filter id="lon" x="0" y="0" width="1" height="1" color-interpolation-filters="sRGB"><feTurbulence type="fractalNoise" baseFrequency="0.7" numOctaves="2" seed="77"/><feColorMatrix type="matrix" values="0.2 0 0 0 0.440  0.2 0 0 0 0.440  0.2 0 0 0 0.440  0 0 0 0 1"/><feGaussianBlur stdDeviation="0.5"/></filter></defs><rect x="3599" y="1689" width="183" height="181" filter="url(#ff0)"/><rect x="3815" y="1689" width="183" height="181" filter="url(#ff1)"/><rect x="4036" y="1689" width="184" height="181" filter="url(#ff2)"/><rect x="4255" y="1686" width="187" height="184" filter="url(#ff3)"/><rect x="3597" y="2110" width="185" height="186" filter="url(#lc0)"/><clipPath id="clc1"><rect x="3817" y="2111" width="184" height="185"/></clipPath><g clip-path="url(#clc1)"><rect x="3757" y="2051" width="304" height="305" filter="url(#lc1)" transform="rotate(45 3909.0 2203.5)"/></g><clipPath id="clc2"><rect x="4036" y="2110" width="186" height="186"/></clipPath><g clip-path="url(#clc2)"><rect x="3976" y="2050" width="306" height="306" filter="url(#lc2)" transform="rotate(45 4129.0 2203.0)"/></g><rect x="4036" y="2110" width="186" height="186" fill="url(#hatch)"/><rect x="4258" y="2111" width="184" height="184" filter="url(#lc3)"/><rect x="3597" y="1892" width="185" height="185" filter="url(#lon)"/><mask id="lom0" maskUnits="userSpaceOnUse" x="3597" y="1892" width="185" height="185"><rect x="3600.0" y="1892" width="2" height="185" fill="#fff" fill-opacity="0.87"/><rect x="3603.6" y="1892" width="2.5" height="185" fill="#fff" fill-opacity="0.75"/><rect x="3606.9" y="1892" width="1.5" height="185" fill="#fff" fill-opacity="0.59"/><rect x="3609.6" y="1892" width="2.5" height="185" fill="#fff" fill-opacity="0.57"/><rect x="3613.7" y="1892" width="2" height="185" fill="#fff" fill-opacity="0.70"/><rect x="3619.9" y="1892" width="2" height="185" fill="#fff" fill-opacity="0.63"/><rect x="3627.1" y="1892" width="2" height="185" fill="#fff" fill-opacity="0.73"/><rect x="3634.3" y="1892" width="3" height="185" fill="#fff" fill-opacity="0.62"/><rect x="3640.9" y="1892" width="3" height="185" fill="#fff" fill-opacity="0.62"/><rect x="3645.5" y="1892" width="2" height="185" fill="#fff" fill-opacity="0.64"/><rect x="3648.3" y="1892" width="2" height="185" fill="#fff" fill-opacity="0.99"/><rect x="3651.9" y="1892" width="3" height="185" fill="#fff" fill-opacity="0.61"/><rect x="3656.5" y="1892" width="1.5" height="185" fill="#fff" fill-opacity="0.82"/><rect x="3659.6" y="1892" width="2.5" height="185" fill="#fff" fill-opacity="0.86"/><rect x="3667.3" y="1892" width="3" height="185" fill="#fff" fill-opacity="0.73"/><rect x="3671.1" y="1892" width="1.5" height="185" fill="#fff" fill-opacity="0.95"/><rect x="3674.2" y="1892" width="3" height="185" fill="#fff" fill-opacity="0.66"/><rect x="3678.8" y="1892" width="3" height="185" fill="#fff" fill-opacity="0.90"/><rect x="3690.4" y="1892" width="2.5" height="185" fill="#fff" fill-opacity="0.62"/><rect x="3698.5" y="1892" width="1.5" height="185" fill="#fff" fill-opacity="0.87"/><rect x="3701.6" y="1892" width="2" height="185" fill="#fff" fill-opacity="0.95"/><rect x="3705.2" y="1892" width="2" height="185" fill="#fff" fill-opacity="0.84"/><rect x="3708.8" y="1892" width="2.5" height="185" fill="#fff" fill-opacity="0.70"/><rect x="3714.1" y="1892" width="1.5" height="185" fill="#fff" fill-opacity="0.87"/><rect x="3716.4" y="1892" width="1.5" height="185" fill="#fff" fill-opacity="0.73"/><rect x="3718.7" y="1892" width="3" height="185" fill="#fff" fill-opacity="0.86"/><rect x="3722.5" y="1892" width="3" height="185" fill="#fff" fill-opacity="0.97"/><rect x="3726.3" y="1892" width="3" height="185" fill="#fff" fill-opacity="0.62"/><rect x="3730.5" y="1892" width="1.5" height="185" fill="#fff" fill-opacity="1.00"/><rect x="3735.8" y="1892" width="2" height="185" fill="#fff" fill-opacity="0.84"/><rect x="3738.6" y="1892" width="2.5" height="185" fill="#fff" fill-opacity="0.58"/><rect x="3742.7" y="1892" width="3" height="185" fill="#fff" fill-opacity="0.57"/><rect x="3753.9" y="1892" width="2" height="185" fill="#fff" fill-opacity="0.82"/><rect x="3757.1" y="1892" width="3" height="185" fill="#fff" fill-opacity="0.62"/><rect x="3760.9" y="1892" width="3" height="185" fill="#fff" fill-opacity="0.58"/><rect x="3765.5" y="1892" width="2.5" height="185" fill="#fff" fill-opacity="0.99"/><rect x="3769.2" y="1892" width="2.5" height="185" fill="#fff" fill-opacity="0.93"/><rect x="3775.5" y="1892" width="3" height="185" fill="#fff" fill-opacity="0.98"/></mask><g mask="url(#lom0)"><rect x="3597" y="1899.0" width="185" height="2" fill="#d2d2d2" fill-opacity="0.29"/><rect x="3597" y="1907.5" width="185" height="2.5" fill="#e6e6e6" fill-opacity="0.27"/><rect x="3597" y="1911.5" width="185" height="1.5" fill="#3c3c3c" fill-opacity="0.68"/><rect x="3597" y="1917.3" width="185" height="1.5" fill="#3c3c3c" fill-opacity="0.45"/><rect x="3597" y="1922.8" width="185" height="3" fill="#2a2a2a" fill-opacity="0.36"/><rect x="3597" y="1927.3" width="185" height="2.5" fill="#e6e6e6" fill-opacity="0.57"/><rect x="3597" y="1931.3" width="185" height="3" fill="#3c3c3c" fill-opacity="0.50"/><rect x="3597" y="1940.3" width="185" height="1.5" fill="#e6e6e6" fill-opacity="0.47"/><rect x="3597" y="1944.3" width="185" height="1.5" fill="#e6e6e6" fill-opacity="0.46"/><rect x="3597" y="1947.3" width="185" height="3" fill="#141414" fill-opacity="0.40"/><rect x="3597" y="1951.1" width="185" height="2" fill="#3c3c3c" fill-opacity="0.54"/><rect x="3597" y="1954.6" width="185" height="2.5" fill="#e6e6e6" fill-opacity="0.61"/><rect x="3597" y="1967.2" width="185" height="2" fill="#f5f5f5" fill-opacity="0.36"/><rect x="3597" y="1970.0" width="185" height="2" fill="#3c3c3c" fill-opacity="0.29"/><rect x="3597" y="1976.0" width="185" height="1.5" fill="#f5f5f5" fill-opacity="0.51"/><rect x="3597" y="1979.0" width="185" height="3" fill="#d2d2d2" fill-opacity="0.68"/><rect x="3597" y="1984.5" width="185" height="1.5" fill="#3c3c3c" fill-opacity="0.73"/><rect x="3597" y="1986.8" width="185" height="2" fill="#3c3c3c" fill-opacity="0.60"/><rect x="3597" y="1992.8" width="185" height="1.5" fill="#f5f5f5" fill-opacity="0.69"/><rect x="3597" y="1995.1" width="185" height="2.5" fill="#f5f5f5" fill-opacity="0.69"/><rect x="3597" y="2001.6" width="185" height="2" fill="#2a2a2a" fill-opacity="0.42"/><rect x="3597" y="2005.1" width="185" height="2" fill="#141414" fill-opacity="0.29"/><rect x="3597" y="2008.6" width="185" height="2.5" fill="#d2d2d2" fill-opacity="0.31"/><rect x="3597" y="2015.4" width="185" height="3" fill="#d2d2d2" fill-opacity="0.27"/><rect x="3597" y="2022.4" width="185" height="2.5" fill="#e6e6e6" fill-opacity="0.28"/><rect x="3597" y="2028.9" width="185" height="2" fill="#2a2a2a" fill-opacity="0.35"/><rect x="3597" y="2039.4" width="185" height="3" fill="#141414" fill-opacity="0.61"/><rect x="3597" y="2043.9" width="185" height="2" fill="#e6e6e6" fill-opacity="0.30"/><rect x="3597" y="2048.4" width="185" height="1.5" fill="#3c3c3c" fill-opacity="0.49"/><rect x="3597" y="2051.4" width="185" height="2" fill="#141414" fill-opacity="0.48"/><rect x="3597" y="2055.9" width="185" height="1.5" fill="#3c3c3c" fill-opacity="0.74"/><rect x="3597" y="2058.2" width="185" height="2.5" fill="#d2d2d2" fill-opacity="0.38"/><rect x="3597" y="2064.7" width="185" height="2.5" fill="#f5f5f5" fill-opacity="0.41"/><rect x="3597" y="2068.7" width="185" height="2" fill="#e6e6e6" fill-opacity="0.56"/><rect x="3597" y="2072.2" width="185" height="3" fill="#3c3c3c" fill-opacity="0.36"/></g><rect x="3599.0" y="1892" width="1.2" height="185" fill="#f0f0f0" fill-opacity="0.20"/><rect x="3602.2" y="1892" width="1.6" height="185" fill="#202020" fill-opacity="0.16"/><rect x="3611.4" y="1892" width="2.2" height="185" fill="#303030" fill-opacity="0.13"/><rect x="3615.6" y="1892" width="1.6" height="185" fill="#202020" fill-opacity="0.21"/><rect x="3628.0" y="1892" width="2.2" height="185" fill="#202020" fill-opacity="0.15"/><rect x="3633.2" y="1892" width="1.2" height="185" fill="#e0e0e0" fill-opacity="0.17"/><rect x="3636.4" y="1892" width="2.2" height="185" fill="#303030" fill-opacity="0.22"/><rect x="3639.6" y="1892" width="1.6" height="185" fill="#e0e0e0" fill-opacity="0.10"/><rect x="3648.4" y="1892" width="1.6" height="185" fill="#202020" fill-opacity="0.12"/><rect x="3666.0" y="1892" width="1.6" height="185" fill="#f0f0f0" fill-opacity="0.13"/><rect x="3682.0" y="1892" width="1.6" height="185" fill="#e0e0e0" fill-opacity="0.13"/><rect x="3700.2" y="1892" width="1.6" height="185" fill="#202020" fill-opacity="0.09"/><rect x="3706.8" y="1892" width="1.6" height="185" fill="#303030" fill-opacity="0.21"/><rect x="3723.8" y="1892" width="1.6" height="185" fill="#e0e0e0" fill-opacity="0.11"/><rect x="3730.4" y="1892" width="1.2" height="185" fill="#202020" fill-opacity="0.17"/><rect x="3736.6" y="1892" width="1.6" height="185" fill="#303030" fill-opacity="0.22"/><rect x="3748.4" y="1892" width="1.6" height="185" fill="#e0e0e0" fill-opacity="0.10"/><rect x="3759.2" y="1892" width="1.2" height="185" fill="#202020" fill-opacity="0.15"/><rect x="3778.4" y="1892" width="2.2" height="185" fill="#f0f0f0" fill-opacity="0.12"/><rect x="3817" y="1892" width="184" height="187" filter="url(#lon)"/><mask id="lom1" maskUnits="userSpaceOnUse" x="3817" y="1892" width="184" height="187"><rect x="3820.0" y="1892" width="2.5" height="187" fill="#fff" fill-opacity="0.76"/><rect x="3824.1" y="1892" width="2" height="187" fill="#fff" fill-opacity="0.82"/><rect x="3827.3" y="1892" width="3" height="187" fill="#fff" fill-opacity="0.86"/><rect x="3835.1" y="1892" width="1.5" height="187" fill="#fff" fill-opacity="0.66"/><rect x="3839.4" y="1892" width="2.5" height="187" fill="#fff" fill-opacity="0.64"/><rect x="3843.1" y="1892" width="2" height="187" fill="#fff" fill-opacity="0.84"/><rect x="3846.3" y="1892" width="3" height="187" fill="#fff" fill-opacity="0.64"/><rect x="3850.5" y="1892" width="3" height="187" fill="#fff" fill-opacity="0.69"/><rect x="3854.3" y="1892" width="2.5" height="187" fill="#fff" fill-opacity="0.85"/><rect x="3858.0" y="1892" width="3" height="187" fill="#fff" fill-opacity="0.90"/><rect x="3868.8" y="1892" width="1.5" height="187" fill="#fff" fill-opacity="0.94"/><rect x="3871.1" y="1892" width="1.5" height="187" fill="#fff" fill-opacity="0.71"/><rect x="3873.4" y="1892" width="2.5" height="187" fill="#fff" fill-opacity="0.87"/><rect x="3876.7" y="1892" width="2.5" height="187" fill="#fff" fill-opacity="0.80"/><rect x="3880.0" y="1892" width="1.5" height="187" fill="#fff" fill-opacity="0.74"/><rect x="3884.7" y="1892" width="3" height="187" fill="#fff" fill-opacity="0.86"/><rect x="3893.3" y="1892" width="3" height="187" fill="#fff" fill-opacity="0.62"/><rect x="3901.9" y="1892" width="2" height="187" fill="#fff" fill-opacity="0.86"/><rect x="3907.5" y="1892" width="1.5" height="187" fill="#fff" fill-opacity="0.56"/><rect x="3917.2" y="1892" width="1.5" height="187" fill="#fff" fill-opacity="0.85"/><rect x="3927.3" y="1892" width="2" height="187" fill="#fff" fill-opacity="0.86"/><rect x="3937.1" y="1892" width="2" height="187" fill="#fff" fill-opacity="0.59"/><rect x="3943.9" y="1892" width="1.5" height="187" fill="#fff" fill-opacity="0.80"/><rect x="3947.0" y="1892" width="2.5" height="187" fill="#fff" fill-opacity="0.76"/><rect x="3954.3" y="1892" width="2.5" height="187" fill="#fff" fill-opacity="0.59"/><rect x="3961.6" y="1892" width="1.5" height="187" fill="#fff" fill-opacity="0.79"/><rect x="3964.3" y="1892" width="2" height="187" fill="#fff" fill-opacity="0.59"/><rect x="3967.9" y="1892" width="2" height="187" fill="#fff" fill-opacity="0.56"/><rect x="3971.5" y="1892" width="3" height="187" fill="#fff" fill-opacity="0.94"/><rect x="3975.7" y="1892" width="1.5" height="187" fill="#fff" fill-opacity="0.91"/><rect x="3982.0" y="1892" width="2.5" height="187" fill="#fff" fill-opacity="0.70"/><rect x="3985.3" y="1892" width="2.5" height="187" fill="#fff" fill-opacity="0.71"/><rect x="3989.0" y="1892" width="3" height="187" fill="#fff" fill-opacity="0.73"/><rect x="3995.8" y="1892" width="2" height="187" fill="#fff" fill-opacity="0.85"/></mask><g mask="url(#lom1)"><rect x="3817" y="1895.0" width="184" height="2.5" fill="#d2d2d2" fill-opacity="0.35"/><rect x="3817" y="1900.0" width="184" height="2" fill="#3c3c3c" fill-opacity="0.53"/><rect x="3817" y="1904.5" width="184" height="2.5" fill="#2a2a2a" fill-opacity="0.69"/><rect x="3817" y="1912.3" width="184" height="2" fill="#f5f5f5" fill-opacity="0.62"/><rect x="3817" y="1918.3" width="184" height="3" fill="#f5f5f5" fill-opacity="0.53"/><rect x="3817" y="1928.3" width="184" height="1.5" fill="#e6e6e6" fill-opacity="0.58"/><rect x="3817" y="1931.3" width="184" height="3" fill="#d2d2d2" fill-opacity="0.28"/><rect x="3817" y="1936.8" width="184" height="1.5" fill="#3c3c3c" fill-opacity="0.65"/><rect x="3817" y="1940.8" width="184" height="1.5" fill="#d2d2d2" fill-opacity="0.74"/><rect x="3817" y="1943.1" width="184" height="2.5" fill="#f5f5f5" fill-opacity="0.36"/><rect x="3817" y="1946.4" width="184" height="2" fill="#d2d2d2" fill-opacity="0.33"/><rect x="3817" y="1949.9" width="184" height="3" fill="#2a2a2a" fill-opacity="0.70"/><rect x="3817" y="1954.4" width="184" height="1.5" fill="#141414" fill-opacity="0.42"/><rect x="3817" y="1972.2" width="184" height="2" fill="#141414" fill-opacity="0.39"/><rect x="3817" y="1975.0" width="184" height="1.5" fill="#2a2a2a" fill-opacity="0.33"/><rect x="3817" y="1980.5" width="184" height="3" fill="#d2d2d2" fill-opacity="0.63"/><rect x="3817" y="1986.0" width="184" height="1.5" fill="#e6e6e6" fill-opacity="0.70"/><rect x="3817" y="1991.5" width="184" height="2" fill="#2a2a2a" fill-opacity="0.55"/><rect x="3817" y="1997.5" width="184" height="3" fill="#2a2a2a" fill-opacity="0.69"/><rect x="3817" y="2001.3" width="184" height="2" fill="#141414" fill-opacity="0.36"/><rect x="3817" y="2011.3" width="184" height="2" fill="#d2d2d2" fill-opacity="0.61"/><rect x="3817" y="2015.8" width="184" height="3" fill="#f5f5f5" fill-opacity="0.67"/><rect x="3817" y="2019.6" width="184" height="3" fill="#141414" fill-opacity="0.34"/><rect x="3817" y="2023.4" width="184" height="2.5" fill="#141414" fill-opacity="0.68"/><rect x="3817" y="2029.9" width="184" height="1.5" fill="#2a2a2a" fill-opacity="0.25"/><rect x="3817" y="2036.7" width="184" height="2" fill="#d2d2d2" fill-opacity="0.65"/><rect x="3817" y="2042.7" width="184" height="2.5" fill="#d2d2d2" fill-opacity="0.36"/><rect x="3817" y="2047.7" width="184" height="3" fill="#2a2a2a" fill-opacity="0.51"/><rect x="3817" y="2061.2" width="184" height="1.5" fill="#141414" fill-opacity="0.61"/><rect x="3817" y="2063.5" width="184" height="3" fill="#d2d2d2" fill-opacity="0.44"/><rect x="3817" y="2069.0" width="184" height="2" fill="#e6e6e6" fill-opacity="0.37"/><rect x="3817" y="2072.5" width="184" height="3" fill="#e6e6e6" fill-opacity="0.30"/></g><rect x="3826.4" y="1892" width="1.6" height="187" fill="#202020" fill-opacity="0.16"/><rect x="3837.2" y="1892" width="2.2" height="187" fill="#303030" fill-opacity="0.21"/><rect x="3843.0" y="1892" width="1.2" height="187" fill="#303030" fill-opacity="0.15"/><rect x="3854.6" y="1892" width="1.2" height="187" fill="#303030" fill-opacity="0.20"/><rect x="3856.8" y="1892" width="2.2" height="187" fill="#e0e0e0" fill-opacity="0.22"/><rect x="3861.0" y="1892" width="1.2" height="187" fill="#e0e0e0" fill-opacity="0.14"/><rect x="3863.2" y="1892" width="1.2" height="187" fill="#202020" fill-opacity="0.16"/><rect x="3866.4" y="1892" width="2.2" height="187" fill="#f0f0f0" fill-opacity="0.09"/><rect x="3885.2" y="1892" width="1.6" height="187" fill="#f0f0f0" fill-opacity="0.13"/><rect x="3891.8" y="1892" width="1.6" height="187" fill="#f0f0f0" fill-opacity="0.12"/><rect x="3903.8" y="1892" width="1.6" height="187" fill="#e0e0e0" fill-opacity="0.20"/><rect x="3907.4" y="1892" width="1.6" height="187" fill="#e0e0e0" fill-opacity="0.21"/><rect x="3911.0" y="1892" width="1.2" height="187" fill="#e0e0e0" fill-opacity="0.21"/><rect x="3917.2" y="1892" width="1.2" height="187" fill="#303030" fill-opacity="0.15"/><rect x="3927.6" y="1892" width="2.2" height="187" fill="#303030" fill-opacity="0.11"/><rect x="3932.8" y="1892" width="1.2" height="187" fill="#202020" fill-opacity="0.13"/><rect x="3943.2" y="1892" width="2.2" height="187" fill="#f0f0f0" fill-opacity="0.10"/><rect x="3958.6" y="1892" width="1.2" height="187" fill="#e0e0e0" fill-opacity="0.13"/><rect x="3974.8" y="1892" width="1.2" height="187" fill="#e0e0e0" fill-opacity="0.13"/><rect x="3981.6" y="1892" width="2.2" height="187" fill="#303030" fill-opacity="0.15"/><rect x="3989.4" y="1892" width="2.2" height="187" fill="#202020" fill-opacity="0.21"/><rect x="3996.6" y="1892" width="2.2" height="187" fill="#f0f0f0" fill-opacity="0.13"/><rect x="4036" y="1893" width="186" height="186" filter="url(#lon)"/><mask id="lom2" maskUnits="userSpaceOnUse" x="4036" y="1893" width="186" height="186"><rect x="4039.0" y="1893" width="2.5" height="186" fill="#fff" fill-opacity="0.63"/><rect x="4043.1" y="1893" width="2" height="186" fill="#fff" fill-opacity="0.72"/><rect x="4046.7" y="1893" width="3" height="186" fill="#fff" fill-opacity="0.80"/><rect x="4050.5" y="1893" width="2" height="186" fill="#fff" fill-opacity="0.88"/><rect x="4053.7" y="1893" width="3" height="186" fill="#fff" fill-opacity="0.65"/><rect x="4057.5" y="1893" width="1.5" height="186" fill="#fff" fill-opacity="0.91"/><rect x="4063.6" y="1893" width="3" height="186" fill="#fff" fill-opacity="0.95"/><rect x="4070.4" y="1893" width="3" height="186" fill="#fff" fill-opacity="0.85"/><rect x="4074.2" y="1893" width="1.5" height="186" fill="#fff" fill-opacity="0.92"/><rect x="4076.9" y="1893" width="2" height="186" fill="#fff" fill-opacity="0.78"/><rect x="4080.5" y="1893" width="3" height="186" fill="#fff" fill-opacity="0.93"/><rect x="4084.3" y="1893" width="2" height="186" fill="#fff" fill-opacity="0.71"/><rect x="4090.1" y="1893" width="3" height="186" fill="#fff" fill-opacity="0.61"/><rect x="4101.7" y="1893" width="2.5" height="186" fill="#fff" fill-opacity="0.92"/><rect x="4112.8" y="1893" width="3" height="186" fill="#fff" fill-opacity="0.94"/><rect x="4120.4" y="1893" width="2" height="186" fill="#fff" fill-opacity="0.79"/><rect x="4123.6" y="1893" width="1.5" height="186" fill="#fff" fill-opacity="0.73"/><rect x="4126.3" y="1893" width="2" height="186" fill="#fff" fill-opacity="0.69"/><rect x="4136.9" y="1893" width="3" height="186" fill="#fff" fill-opacity="0.86"/><rect x="4143.7" y="1893" width="2" height="186" fill="#fff" fill-opacity="0.65"/><rect x="4146.9" y="1893" width="2" height="186" fill="#fff" fill-opacity="0.61"/><rect x="4150.1" y="1893" width="2" height="186" fill="#fff" fill-opacity="0.55"/><rect x="4159.9" y="1893" width="1.5" height="186" fill="#fff" fill-opacity="0.90"/><rect x="4162.2" y="1893" width="3" height="186" fill="#fff" fill-opacity="0.67"/><rect x="4173.4" y="1893" width="3" height="186" fill="#fff" fill-opacity="0.63"/><rect x="4177.6" y="1893" width="2" height="186" fill="#fff" fill-opacity="0.56"/><rect x="4180.4" y="1893" width="3" height="186" fill="#fff" fill-opacity="0.81"/><rect x="4187.2" y="1893" width="3" height="186" fill="#fff" fill-opacity="0.85"/><rect x="4191.8" y="1893" width="3" height="186" fill="#fff" fill-opacity="0.61"/><rect x="4196.0" y="1893" width="2.5" height="186" fill="#fff" fill-opacity="0.73"/><rect x="4206.3" y="1893" width="2" height="186" fill="#fff" fill-opacity="0.87"/><rect x="4211.1" y="1893" width="2.5" height="186" fill="#fff" fill-opacity="0.86"/><rect x="4214.4" y="1893" width="2" height="186" fill="#fff" fill-opacity="0.94"/><rect x="4217.2" y="1893" width="2" height="186" fill="#fff" fill-opacity="0.85"/></mask><g mask="url(#lom2)"><rect x="4036" y="1896.0" width="186" height="3" fill="#e6e6e6" fill-opacity="0.49"/><rect x="4036" y="1899.8" width="186" height="2.5" fill="#e6e6e6" fill-opacity="0.71"/><rect x="4036" y="1909.1" width="186" height="2.5" fill="#f5f5f5" fill-opacity="0.70"/><rect x="4036" y="1917.6" width="186" height="1.5" fill="#3c3c3c" fill-opacity="0.63"/><rect x="4036" y="1923.1" width="186" height="1.5" fill="#e6e6e6" fill-opacity="0.53"/><rect x="4036" y="1926.1" width="186" height="3" fill="#141414" fill-opacity="0.70"/><rect x="4036" y="1930.6" width="186" height="2.5" fill="#141414" fill-opacity="0.65"/><rect x="4036" y="1940.4" width="186" height="3" fill="#e6e6e6" fill-opacity="0.32"/><rect x="4036" y="1945.9" width="186" height="3" fill="#f5f5f5" fill-opacity="0.73"/><rect x="4036" y="1950.4" width="186" height="2" fill="#2a2a2a" fill-opacity="0.45"/><rect x="4036" y="1953.2" width="186" height="2.5" fill="#3c3c3c" fill-opacity="0.60"/><rect x="4036" y="1962.0" width="186" height="2" fill="#e6e6e6" fill-opacity="0.26"/><rect x="4036" y="1964.8" width="186" height="2.5" fill="#141414" fill-opacity="0.28"/><rect x="4036" y="1971.3" width="186" height="3" fill="#2a2a2a" fill-opacity="0.47"/><rect x="4036" y="1978.3" width="186" height="2" fill="#2a2a2a" fill-opacity="0.65"/><rect x="4036" y="1981.8" width="186" height="1.5" fill="#f5f5f5" fill-opacity="0.57"/><rect x="4036" y="1984.1" width="186" height="2.5" fill="#3c3c3c" fill-opacity="0.72"/><rect x="4036" y="1988.1" width="186" height="1.5" fill="#2a2a2a" fill-opacity="0.52"/><rect x="4036" y="2000.4" width="186" height="3" fill="#2a2a2a" fill-opacity="0.55"/><rect x="4036" y="2004.9" width="186" height="3" fill="#3c3c3c" fill-opacity="0.25"/><rect x="4036" y="2012.5" width="186" height="2" fill="#141414" fill-opacity="0.64"/><rect x="4036" y="2019.1" width="186" height="3" fill="#f5f5f5" fill-opacity="0.73"/><rect x="4036" y="2022.9" width="186" height="1.5" fill="#f5f5f5" fill-opacity="0.68"/><rect x="4036" y="2028.4" width="186" height="1.5" fill="#2a2a2a" fill-opacity="0.35"/><rect x="4036" y="2031.4" width="186" height="3" fill="#2a2a2a" fill-opacity="0.50"/><rect x="4036" y="2038.5" width="186" height="3" fill="#e6e6e6" fill-opacity="0.70"/><rect x="4036" y="2042.3" width="186" height="3" fill="#3c3c3c" fill-opacity="0.74"/><rect x="4036" y="2047.8" width="186" height="2.5" fill="#d2d2d2" fill-opacity="0.30"/><rect x="4036" y="2051.8" width="186" height="2.5" fill="#2a2a2a" fill-opacity="0.64"/><rect x="4036" y="2062.8" width="186" height="2.5" fill="#2a2a2a" fill-opacity="0.46"/><rect x="4036" y="2067.8" width="186" height="2" fill="#3c3c3c" fill-opacity="0.74"/><rect x="4036" y="2073.8" width="186" height="3" fill="#2a2a2a" fill-opacity="0.51"/></g><rect x="4042.6" y="1893" width="1.2" height="186" fill="#202020" fill-opacity="0.21"/><rect x="4066.2" y="1893" width="1.6" height="186" fill="#303030" fill-opacity="0.11"/><rect x="4073.4" y="1893" width="2.2" height="186" fill="#303030" fill-opacity="0.14"/><rect x="4082.8" y="1893" width="1.6" height="186" fill="#202020" fill-opacity="0.20"/><rect x="4096.8" y="1893" width="1.6" height="186" fill="#f0f0f0" fill-opacity="0.20"/><rect x="4114.6" y="1893" width="1.6" height="186" fill="#f0f0f0" fill-opacity="0.17"/><rect x="4119.2" y="1893" width="2.2" height="186" fill="#e0e0e0" fill-opacity="0.21"/><rect x="4126.4" y="1893" width="2.2" height="186" fill="#202020" fill-opacity="0.08"/><rect x="4162.6" y="1893" width="1.6" height="186" fill="#303030" fill-opacity="0.09"/><rect x="4174.4" y="1893" width="1.2" height="186" fill="#e0e0e0" fill-opacity="0.10"/><rect x="4180.6" y="1893" width="2.2" height="186" fill="#e0e0e0" fill-opacity="0.17"/><rect x="4194.6" y="1893" width="1.2" height="186" fill="#303030" fill-opacity="0.11"/><rect x="4201.0" y="1893" width="1.2" height="186" fill="#303030" fill-opacity="0.17"/><rect x="4255" y="1892" width="185" height="185" filter="url(#lon)"/><mask id="lom3" maskUnits="userSpaceOnUse" x="4255" y="1892" width="185" height="185"><rect x="4258.0" y="1892" width="3" height="185" fill="#fff" fill-opacity="0.97"/><rect x="4265.6" y="1892" width="1.5" height="185" fill="#fff" fill-opacity="0.84"/><rect x="4272.3" y="1892" width="1.5" height="185" fill="#fff" fill-opacity="0.77"/><rect x="4277.6" y="1892" width="1.5" height="185" fill="#fff" fill-opacity="0.65"/><rect x="4279.9" y="1892" width="2" height="185" fill="#fff" fill-opacity="0.82"/><rect x="4286.1" y="1892" width="3" height="185" fill="#fff" fill-opacity="0.65"/><rect x="4293.7" y="1892" width="2" height="185" fill="#fff" fill-opacity="0.98"/><rect x="4297.3" y="1892" width="3" height="185" fill="#fff" fill-opacity="0.92"/><rect x="4301.9" y="1892" width="2.5" height="185" fill="#fff" fill-opacity="0.96"/><rect x="4313.0" y="1892" width="2.5" height="185" fill="#fff" fill-opacity="0.57"/><rect x="4316.3" y="1892" width="2" height="185" fill="#fff" fill-opacity="0.74"/><rect x="4319.5" y="1892" width="1.5" height="185" fill="#fff" fill-opacity="0.77"/><rect x="4322.2" y="1892" width="1.5" height="185" fill="#fff" fill-opacity="0.93"/><rect x="4325.3" y="1892" width="1.5" height="185" fill="#fff" fill-opacity="0.69"/><rect x="4328.4" y="1892" width="1.5" height="185" fill="#fff" fill-opacity="0.99"/><rect x="4333.5" y="1892" width="2.5" height="185" fill="#fff" fill-opacity="0.56"/><rect x="4344.2" y="1892" width="2.5" height="185" fill="#fff" fill-opacity="0.89"/><rect x="4347.5" y="1892" width="2" height="185" fill="#fff" fill-opacity="0.75"/><rect x="4350.3" y="1892" width="2.5" height="185" fill="#fff" fill-opacity="0.84"/><rect x="4353.6" y="1892" width="2" height="185" fill="#fff" fill-opacity="0.80"/><rect x="4357.2" y="1892" width="2" height="185" fill="#fff" fill-opacity="0.65"/><rect x="4363.4" y="1892" width="1.5" height="185" fill="#fff" fill-opacity="0.76"/><rect x="4366.1" y="1892" width="1.5" height="185" fill="#fff" fill-opacity="0.80"/><rect x="4369.2" y="1892" width="1.5" height="185" fill="#fff" fill-opacity="0.70"/><rect x="4372.3" y="1892" width="2" height="185" fill="#fff" fill-opacity="0.79"/><rect x="4375.5" y="1892" width="2.5" height="185" fill="#fff" fill-opacity="0.73"/><rect x="4381.8" y="1892" width="1.5" height="185" fill="#fff" fill-opacity="0.86"/><rect x="4384.9" y="1892" width="3" height="185" fill="#fff" fill-opacity="0.71"/><rect x="4389.1" y="1892" width="1.5" height="185" fill="#fff" fill-opacity="0.93"/><rect x="4392.2" y="1892" width="3" height="185" fill="#fff" fill-opacity="0.83"/><rect x="4396.0" y="1892" width="3" height="185" fill="#fff" fill-opacity="0.74"/><rect x="4400.2" y="1892" width="2.5" height="185" fill="#fff" fill-opacity="0.82"/><rect x="4408.3" y="1892" width="1.5" height="185" fill="#fff" fill-opacity="0.73"/><rect x="4411.4" y="1892" width="3" height="185" fill="#fff" fill-opacity="0.70"/><rect x="4415.6" y="1892" width="2" height="185" fill="#fff" fill-opacity="0.61"/><rect x="4418.8" y="1892" width="1.5" height="185" fill="#fff" fill-opacity="0.60"/><rect x="4425.1" y="1892" width="3" height="185" fill="#fff" fill-opacity="0.87"/><rect x="4429.3" y="1892" width="1.5" height="185" fill="#fff" fill-opacity="0.67"/><rect x="4431.6" y="1892" width="1.5" height="185" fill="#fff" fill-opacity="0.83"/><rect x="4433.9" y="1892" width="2" height="185" fill="#fff" fill-opacity="0.79"/></mask><g mask="url(#lom3)"><rect x="4255" y="1895.0" width="185" height="2.5" fill="#141414" fill-opacity="0.65"/><rect x="4255" y="1901.5" width="185" height="3" fill="#e6e6e6" fill-opacity="0.58"/><rect x="4255" y="1911.3" width="185" height="2.5" fill="#3c3c3c" fill-opacity="0.75"/><rect x="4255" y="1925.6" width="185" height="2.5" fill="#2a2a2a" fill-opacity="0.65"/><rect x="4255" y="1928.9" width="185" height="2" fill="#f5f5f5" fill-opacity="0.58"/><rect x="4255" y="1933.4" width="185" height="2" fill="#141414" fill-opacity="0.57"/><rect x="4255" y="1943.4" width="185" height="2" fill="#f5f5f5" fill-opacity="0.69"/><rect x="4255" y="1947.9" width="185" height="1.5" fill="#141414" fill-opacity="0.40"/><rect x="4255" y="1957.9" width="185" height="2.5" fill="#3c3c3c" fill-opacity="0.41"/><rect x="4255" y="1964.4" width="185" height="2.5" fill="#2a2a2a" fill-opacity="0.50"/><rect x="4255" y="1968.4" width="185" height="3" fill="#f5f5f5" fill-opacity="0.57"/><rect x="4255" y="1973.9" width="185" height="3" fill="#f5f5f5" fill-opacity="0.31"/><rect x="4255" y="1979.4" width="185" height="1.5" fill="#e6e6e6" fill-opacity="0.75"/><rect x="4255" y="1982.4" width="185" height="2.5" fill="#f5f5f5" fill-opacity="0.38"/><rect x="4255" y="1991.4" width="185" height="2.5" fill="#2a2a2a" fill-opacity="0.48"/><rect x="4255" y="1997.9" width="185" height="2" fill="#f5f5f5" fill-opacity="0.54"/><rect x="4255" y="2007.9" width="185" height="2.5" fill="#f5f5f5" fill-opacity="0.52"/><rect x="4255" y="2014.4" width="185" height="2.5" fill="#f5f5f5" fill-opacity="0.63"/><rect x="4255" y="2018.4" width="185" height="2.5" fill="#141414" fill-opacity="0.56"/><rect x="4255" y="2024.9" width="185" height="2.5" fill="#141414" fill-opacity="0.60"/><rect x="4255" y="2028.2" width="185" height="2.5" fill="#e6e6e6" fill-opacity="0.32"/><rect x="4255" y="2033.2" width="185" height="2" fill="#d2d2d2" fill-opacity="0.47"/><rect x="4255" y="2036.7" width="185" height="2" fill="#d2d2d2" fill-opacity="0.60"/><rect x="4255" y="2045.5" width="185" height="1.5" fill="#e6e6e6" fill-opacity="0.43"/><rect x="4255" y="2051.0" width="185" height="2" fill="#e6e6e6" fill-opacity="0.28"/><rect x="4255" y="2057.0" width="185" height="1.5" fill="#d2d2d2" fill-opacity="0.43"/><rect x="4255" y="2062.5" width="185" height="3" fill="#e6e6e6" fill-opacity="0.39"/><rect x="4255" y="2066.3" width="185" height="2.5" fill="#141414" fill-opacity="0.68"/></g><rect x="4263.2" y="1892" width="1.6" height="185" fill="#f0f0f0" fill-opacity="0.09"/><rect x="4269.8" y="1892" width="2.2" height="185" fill="#f0f0f0" fill-opacity="0.08"/><rect x="4290.6" y="1892" width="1.2" height="185" fill="#e0e0e0" fill-opacity="0.19"/><rect x="4325.6" y="1892" width="1.2" height="185" fill="#e0e0e0" fill-opacity="0.17"/><rect x="4351.6" y="1892" width="2.2" height="185" fill="#e0e0e0" fill-opacity="0.18"/><rect x="4380.8" y="1892" width="2.2" height="185" fill="#e0e0e0" fill-opacity="0.15"/><rect x="4391.2" y="1892" width="1.2" height="185" fill="#303030" fill-opacity="0.16"/><rect x="4396.6" y="1892" width="2.2" height="185" fill="#202020" fill-opacity="0.13"/><rect x="4412.2" y="1892" width="2.2" height="185" fill="#202020" fill-opacity="0.10"/></svg></body></html>
